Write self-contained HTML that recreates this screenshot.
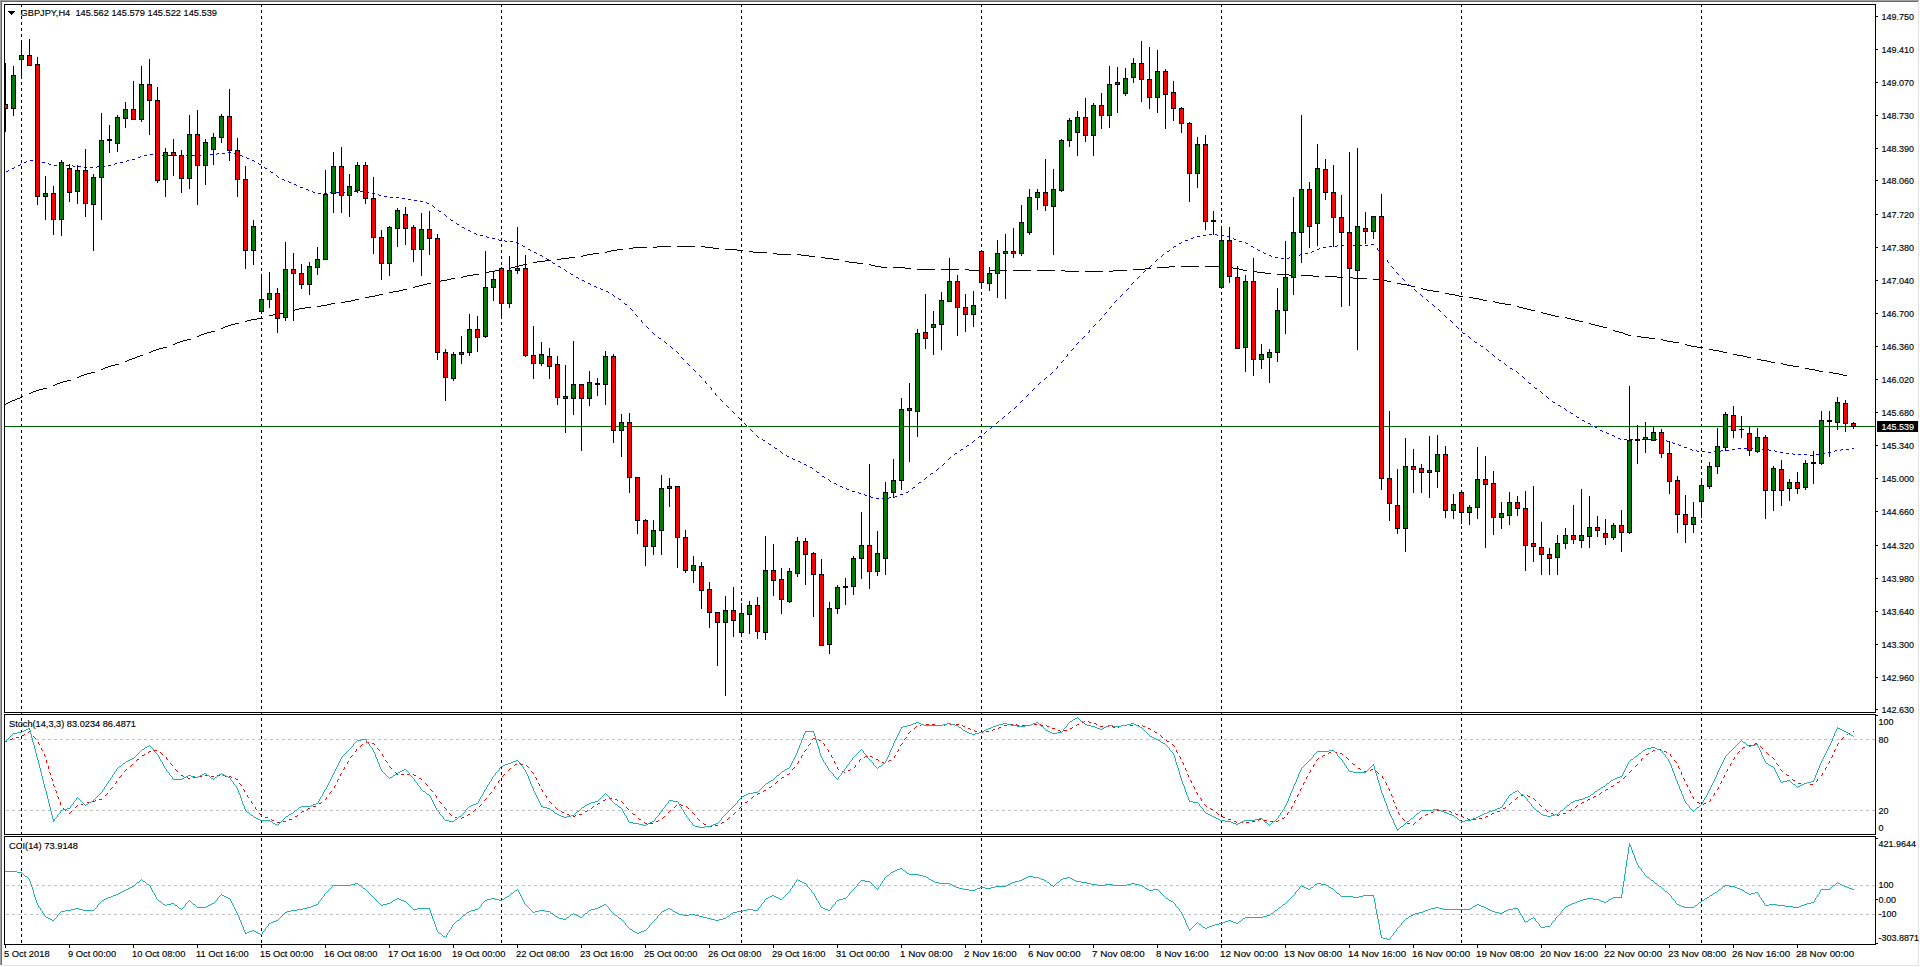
<!DOCTYPE html>
<html><head><meta charset="utf-8"><style>
html,body{margin:0;padding:0;background:#fff;width:1920px;height:967px;overflow:hidden}
svg{display:block}
text{font-family:"Liberation Sans",sans-serif}
</style></head><body>
<svg width="1920" height="967" viewBox="0 0 1920 967" shape-rendering="crispEdges">
<rect x="0" y="0" width="1920" height="967" fill="#fff"/>
<rect x="0" y="0" width="1919" height="1" fill="#a0a0a0"/>
<rect x="0" y="0" width="1" height="965" fill="#a0a0a0"/>
<rect x="1" y="1" width="1917" height="1" fill="#696969"/>
<rect x="1" y="1" width="1" height="964" fill="#696969"/>
<rect x="2" y="965" width="1917" height="1" fill="#e3e3e3"/>
<rect x="1918" y="2" width="1" height="964" fill="#e3e3e3"/>
<line x1="21.5" y1="4" x2="21.5" y2="945" stroke="#000" stroke-width="1" stroke-dasharray="3 3"/>
<line x1="261.5" y1="4" x2="261.5" y2="945" stroke="#000" stroke-width="1" stroke-dasharray="3 3"/>
<line x1="501.5" y1="4" x2="501.5" y2="945" stroke="#000" stroke-width="1" stroke-dasharray="3 3"/>
<line x1="741.5" y1="4" x2="741.5" y2="945" stroke="#000" stroke-width="1" stroke-dasharray="3 3"/>
<line x1="981.5" y1="4" x2="981.5" y2="945" stroke="#000" stroke-width="1" stroke-dasharray="3 3"/>
<line x1="1221.5" y1="4" x2="1221.5" y2="945" stroke="#000" stroke-width="1" stroke-dasharray="3 3"/>
<line x1="1461.5" y1="4" x2="1461.5" y2="945" stroke="#000" stroke-width="1" stroke-dasharray="3 3"/>
<line x1="1701.5" y1="4" x2="1701.5" y2="945" stroke="#000" stroke-width="1" stroke-dasharray="3 3"/>
<rect x="4" y="4" width="1872" height="1" fill="#000"/>
<rect x="4" y="712" width="1872" height="1" fill="#000"/>
<rect x="4" y="4" width="1" height="709" fill="#000"/>
<rect x="1875" y="4" width="1" height="709" fill="#000"/>
<rect x="4" y="714" width="1872" height="1" fill="#000"/>
<rect x="4" y="834" width="1872" height="1" fill="#000"/>
<rect x="4" y="714" width="1" height="121" fill="#000"/>
<rect x="1875" y="714" width="1" height="121" fill="#000"/>
<rect x="4" y="836" width="1872" height="1" fill="#000"/>
<rect x="4" y="944" width="1872" height="1" fill="#000"/>
<rect x="4" y="836" width="1" height="109" fill="#000"/>
<rect x="1875" y="836" width="1" height="109" fill="#000"/>
<defs><clipPath id="cm"><rect x="5" y="5" width="1870" height="707"/></clipPath><clipPath id="cs"><rect x="5" y="715" width="1870" height="119"/></clipPath><clipPath id="cc"><rect x="5" y="837" width="1870" height="107"/></clipPath></defs>
<g clip-path="url(#cm)">
<rect x="5" y="426" width="1870" height="1" fill="#006400"/>
</g>
<path d="M657 246h14v1h-14zM677 246h18v1h-18zM701 246h4v1h-4zM633 247h14v1h-14zM653 247h4v1h-4zM705 247h8v1h-8zM629 248h4v1h-4zM713 248h6v1h-6zM617 249h6v1h-6zM725 249h12v1h-12zM611 250h6v1h-6zM737 250h6v1h-6zM607 251h4v1h-4zM749 251h4v1h-4zM605 252h2v1h-2zM753 252h14v1h-14zM593 253h6v1h-6zM773 253h4v1h-4zM587 254h6v1h-6zM777 254h14v1h-14zM797 254h4v1h-4zM583 255h4v1h-4zM801 255h8v1h-8zM581 256h2v1h-2zM809 256h6v1h-6zM569 257h6v1h-6zM821 257h4v1h-4zM561 258h8v1h-8zM825 258h8v1h-8zM557 259h4v1h-4zM833 259h6v1h-6zM545 260h6v1h-6zM537 261h8v1h-8zM845 261h4v1h-4zM533 262h4v1h-4zM849 262h8v1h-8zM857 263h6v1h-6zM523 264h4v1h-4zM869 264h2v1h-2zM519 265h4v1h-4zM871 265h4v1h-4zM515 266h4v1h-4zM875 266h6v1h-6zM1169 266h6v1h-6zM1181 266h18v1h-18zM1205 266h18v1h-18zM511 267h4v1h-4zM881 267h6v1h-6zM893 267h12v1h-12zM1157 267h12v1h-12zM1229 267h4v1h-4zM509 268h2v1h-2zM905 268h6v1h-6zM1145 268h6v1h-6zM1233 268h6v1h-6zM499 269h4v1h-4zM917 269h18v1h-18zM941 269h18v1h-18zM965 269h4v1h-4zM1133 269h12v1h-12zM1239 269h4v1h-4zM495 270h4v1h-4zM969 270h14v1h-14zM989 270h18v1h-18zM1013 270h18v1h-18zM1037 270h18v1h-18zM1061 270h4v1h-4zM1113 270h14v1h-14zM1243 270h4v1h-4zM489 271h6v1h-6zM1065 271h14v1h-14zM1085 271h18v1h-18zM1109 271h4v1h-4zM1253 271h4v1h-4zM485 272h4v1h-4zM1257 272h8v1h-8zM1265 273h6v1h-6zM473 274h6v1h-6zM1277 274h12v1h-12zM467 275h6v1h-6zM1289 275h6v1h-6zM1301 275h12v1h-12zM463 276h4v1h-4zM1313 276h6v1h-6zM1325 276h12v1h-12zM461 277h2v1h-2zM1337 277h6v1h-6zM1349 277h4v1h-4zM451 278h4v1h-4zM1353 278h14v1h-14zM447 279h4v1h-4zM1373 279h10v1h-10zM441 280h6v1h-6zM1383 280h4v1h-4zM437 281h4v1h-4zM1387 281h4v1h-4zM427 283h4v1h-4zM1397 283h4v1h-4zM423 284h4v1h-4zM1401 284h6v1h-6zM419 285h4v1h-4zM1407 285h4v1h-4zM415 286h4v1h-4zM1411 286h4v1h-4zM413 287h2v1h-2zM1421 288h2v1h-2zM403 289h4v1h-4zM1423 289h4v1h-4zM399 290h4v1h-4zM1427 290h6v1h-6zM393 291h6v1h-6zM1433 291h6v1h-6zM389 292h4v1h-4zM1445 293h4v1h-4zM379 294h4v1h-4zM1449 294h6v1h-6zM375 295h4v1h-4zM1455 295h4v1h-4zM369 296h6v1h-6zM1459 296h4v1h-4zM365 297h4v1h-4zM1469 297h4v1h-4zM1473 298h6v1h-6zM355 299h4v1h-4zM1479 299h4v1h-4zM351 300h4v1h-4zM1483 300h4v1h-4zM345 301h6v1h-6zM1493 301h2v1h-2zM341 302h4v1h-4zM1495 302h4v1h-4zM331 303h4v1h-4zM1499 303h6v1h-6zM327 304h4v1h-4zM1505 304h6v1h-6zM321 305h6v1h-6zM317 306h4v1h-4zM1517 306h2v1h-2zM305 307h6v1h-6zM1519 307h4v1h-4zM299 308h6v1h-6zM1523 308h4v1h-4zM295 309h4v1h-4zM1527 309h4v1h-4zM293 310h2v1h-2zM1531 310h4v1h-4zM283 312h4v1h-4zM1541 312h2v1h-2zM279 313h4v1h-4zM1543 313h4v1h-4zM273 314h6v1h-6zM1547 314h4v1h-4zM269 315h4v1h-4zM1551 315h4v1h-4zM1555 316h4v1h-4zM1565 317h2v1h-2zM257 318h6v1h-6zM1567 318h4v1h-4zM251 319h6v1h-6zM1571 319h4v1h-4zM247 320h4v1h-4zM1575 320h4v1h-4zM245 321h2v1h-2zM1579 321h4v1h-4zM235 323h4v1h-4zM1589 323h2v1h-2zM231 324h4v1h-4zM1591 324h4v1h-4zM228 325h3v1h-3zM1595 325h4v1h-4zM225 326h3v1h-3zM1599 326h4v1h-4zM223 327h2v1h-2zM1603 327h4v1h-4zM221 328h2v1h-2zM1613 330h2v1h-2zM211 331h4v1h-4zM1615 331h4v1h-4zM207 332h4v1h-4zM1619 332h4v1h-4zM204 333h3v1h-3zM1623 333h2v1h-2zM201 334h3v1h-3zM1625 334h3v1h-3zM199 335h2v1h-2zM1628 335h3v1h-3zM197 336h2v1h-2zM1637 336h4v1h-4zM1641 337h8v1h-8zM1649 338h6v1h-6zM187 339h4v1h-4zM1661 339h2v1h-2zM183 340h4v1h-4zM1663 340h4v1h-4zM180 341h3v1h-3zM1667 341h6v1h-6zM177 342h3v1h-3zM1673 342h6v1h-6zM175 343h2v1h-2zM173 344h2v1h-2zM1685 344h2v1h-2zM1687 345h4v1h-4zM1691 346h6v1h-6zM163 347h4v1h-4zM1697 347h6v1h-6zM159 348h4v1h-4zM156 349h3v1h-3zM1709 349h4v1h-4zM153 350h3v1h-3zM1713 350h6v1h-6zM151 351h2v1h-2zM1719 351h4v1h-4zM149 352h2v1h-2zM1723 352h4v1h-4zM1733 354h4v1h-4zM140 355h3v1h-3zM1737 355h6v1h-6zM137 356h3v1h-3zM1743 356h4v1h-4zM135 357h2v1h-2zM1747 357h4v1h-4zM132 358h3v1h-3zM129 359h3v1h-3zM1757 359h4v1h-4zM127 360h2v1h-2zM1761 360h6v1h-6zM125 361h2v1h-2zM1767 361h4v1h-4zM1771 362h4v1h-4zM1781 363h2v1h-2zM115 364h4v1h-4zM1783 364h4v1h-4zM111 365h4v1h-4zM1787 365h6v1h-6zM108 366h3v1h-3zM1793 366h6v1h-6zM105 367h3v1h-3zM103 368h2v1h-2zM1805 368h4v1h-4zM101 369h2v1h-2zM1809 369h6v1h-6zM1815 370h4v1h-4zM1819 371h4v1h-4zM91 372h4v1h-4zM1829 372h4v1h-4zM87 373h4v1h-4zM1833 373h6v1h-6zM84 374h3v1h-3zM1839 374h4v1h-4zM81 375h3v1h-3zM1843 375h4v1h-4zM79 376h2v1h-2zM77 377h2v1h-2zM67 380h4v1h-4zM63 381h4v1h-4zM60 382h3v1h-3zM57 383h3v1h-3zM55 384h2v1h-2zM53 385h2v1h-2zM43 388h4v1h-4zM39 389h4v1h-4zM36 390h3v1h-3zM33 391h3v1h-3zM31 392h2v1h-2zM29 393h2v1h-2zM22 396h1v1h-1zM20 397h2v1h-2zM17 398h3v1h-3zM15 399h2v1h-2zM12 400h3v1h-3zM10 401h2v1h-2zM8 402h2v1h-2zM6 403h2v1h-2zM5 404h1v1h-1z" fill="#000"/>
<rect x="747" y="426" width="1" height="1" fill="#fff"/>
<rect x="1593" y="426" width="1" height="1" fill="#fff"/>
<path d="M228 152h3v1h-3zM217 153h2v1h-2zM222 153h3v1h-3zM234 153h3v1h-3zM150 154h3v1h-3zM210 154h3v1h-3zM216 154h1v1h-1zM144 155h3v1h-3zM156 155h3v1h-3zM162 155h3v1h-3zM168 155h3v1h-3zM174 155h3v1h-3zM186 155h3v1h-3zM192 155h3v1h-3zM198 155h3v1h-3zM204 155h3v1h-3zM240 155h2v1h-2zM140 156h1v1h-1zM180 156h3v1h-3zM242 156h1v1h-1zM138 157h2v1h-2zM246 157h1v1h-1zM247 158h2v1h-2zM132 159h3v1h-3zM30 160h3v1h-3zM127 160h2v1h-2zM252 160h2v1h-2zM26 161h1v1h-1zM36 161h3v1h-3zM126 161h1v1h-1zM254 161h1v1h-1zM24 162h2v1h-2zM42 162h3v1h-3zM120 162h3v1h-3zM48 163h1v1h-1zM115 163h2v1h-2zM258 163h1v1h-1zM20 164h1v1h-1zM49 164h2v1h-2zM60 164h3v1h-3zM114 164h1v1h-1zM259 164h2v1h-2zM18 165h2v1h-2zM54 165h3v1h-3zM66 165h3v1h-3zM72 165h1v1h-1zM108 165h3v1h-3zM73 166h2v1h-2zM78 166h3v1h-3zM97 166h2v1h-2zM102 166h3v1h-3zM14 167h1v1h-1zM84 167h3v1h-3zM90 167h3v1h-3zM96 167h1v1h-1zM264 167h1v1h-1zM12 168h2v1h-2zM265 168h2v1h-2zM8 170h1v1h-1zM6 171h2v1h-2zM270 171h1v1h-1zM271 172h2v1h-2zM276 175h1v1h-1zM277 176h1v1h-1zM278 177h1v1h-1zM282 179h2v1h-2zM284 180h1v1h-1zM288 181h1v1h-1zM289 182h2v1h-2zM294 184h2v1h-2zM296 185h1v1h-1zM300 187h3v1h-3zM306 189h2v1h-2zM308 190h1v1h-1zM312 191h1v1h-1zM354 191h3v1h-3zM360 191h3v1h-3zM366 191h1v1h-1zM313 192h2v1h-2zM330 192h3v1h-3zM336 192h3v1h-3zM342 192h3v1h-3zM348 192h3v1h-3zM367 192h2v1h-2zM318 193h3v1h-3zM324 193h3v1h-3zM372 193h3v1h-3zM378 194h1v1h-1zM379 195h2v1h-2zM384 196h3v1h-3zM390 197h3v1h-3zM396 197h3v1h-3zM402 198h3v1h-3zM408 199h3v1h-3zM414 200h3v1h-3zM420 201h3v1h-3zM426 202h1v1h-1zM427 203h2v1h-2zM432 205h1v1h-1zM433 206h1v1h-1zM434 207h1v1h-1zM438 210h1v1h-1zM439 211h2v1h-2zM444 214h1v1h-1zM445 215h1v1h-1zM446 216h1v1h-1zM450 219h1v1h-1zM451 220h2v1h-2zM456 223h1v1h-1zM457 224h2v1h-2zM462 227h2v1h-2zM464 228h1v1h-1zM468 230h2v1h-2zM470 231h1v1h-1zM474 233h2v1h-2zM476 234h1v1h-1zM1209 234h3v1h-3zM1215 234h2v1h-2zM480 235h3v1h-3zM1203 235h3v1h-3zM1217 235h1v1h-1zM1221 235h3v1h-3zM486 236h1v1h-1zM1197 236h3v1h-3zM1227 236h3v1h-3zM487 237h2v1h-2zM1193 237h1v1h-1zM492 238h3v1h-3zM1191 238h2v1h-2zM1233 238h1v1h-1zM498 239h1v1h-1zM1234 239h2v1h-2zM499 240h2v1h-2zM504 240h1v1h-1zM1185 240h3v1h-3zM505 241h2v1h-2zM510 241h3v1h-3zM1239 241h3v1h-3zM516 242h2v1h-2zM1181 242h1v1h-1zM1245 242h1v1h-1zM518 243h1v1h-1zM1179 243h2v1h-2zM1246 243h2v1h-2zM1371 244h3v1h-3zM522 245h1v1h-1zM1337 245h1v1h-1zM1341 245h3v1h-3zM1353 245h3v1h-3zM1359 245h3v1h-3zM1365 245h3v1h-3zM523 246h2v1h-2zM1174 246h2v1h-2zM1251 246h2v1h-2zM1329 246h3v1h-3zM1335 246h2v1h-2zM1347 246h3v1h-3zM1173 247h1v1h-1zM1253 247h1v1h-1zM1323 247h3v1h-3zM1319 248h1v1h-1zM1377 248h1v1h-1zM528 249h2v1h-2zM1257 249h1v1h-1zM1317 249h2v1h-2zM1377 249h1v1h-1zM530 250h1v1h-1zM1169 250h1v1h-1zM1258 250h2v1h-2zM1378 250h1v1h-1zM1167 251h2v1h-2zM1312 251h2v1h-2zM534 252h2v1h-2zM1263 252h1v1h-1zM1311 252h1v1h-1zM536 253h1v1h-1zM1264 253h2v1h-2zM1305 253h3v1h-3zM1163 254h1v1h-1zM1300 254h2v1h-2zM1382 254h1v1h-1zM540 255h2v1h-2zM1162 255h1v1h-1zM1269 255h2v1h-2zM1299 255h1v1h-1zM1383 255h1v1h-1zM542 256h1v1h-1zM1161 256h1v1h-1zM1271 256h1v1h-1zM1295 256h1v1h-1zM1383 256h1v1h-1zM1275 257h3v1h-3zM1289 257h1v1h-1zM1293 257h2v1h-2zM546 258h1v1h-1zM1281 258h3v1h-3zM1287 258h2v1h-2zM547 259h2v1h-2zM1157 259h1v1h-1zM1156 260h1v1h-1zM1387 260h1v1h-1zM1155 261h1v1h-1zM1387 261h1v1h-1zM552 262h1v1h-1zM1388 262h1v1h-1zM553 263h2v1h-2zM1151 265h1v1h-1zM558 266h2v1h-2zM1150 266h1v1h-1zM1391 266h1v1h-1zM560 267h1v1h-1zM1149 267h1v1h-1zM1392 267h1v1h-1zM1393 268h1v1h-1zM564 269h1v1h-1zM565 270h1v1h-1zM1145 270h1v1h-1zM566 271h1v1h-1zM1144 271h1v1h-1zM1143 272h1v1h-1zM1396 272h1v1h-1zM570 273h1v1h-1zM1397 273h1v1h-1zM571 274h2v1h-2zM1398 274h1v1h-1zM1139 276h1v1h-1zM576 277h2v1h-2zM1138 277h1v1h-1zM578 278h1v1h-1zM1137 278h1v1h-1zM1402 278h1v1h-1zM1403 279h1v1h-1zM582 280h2v1h-2zM1404 280h1v1h-1zM584 281h1v1h-1zM1133 282h1v1h-1zM588 283h2v1h-2zM1132 283h1v1h-1zM590 284h1v1h-1zM1131 284h1v1h-1zM1408 284h1v1h-1zM1409 285h2v1h-2zM594 286h2v1h-2zM596 287h1v1h-1zM600 288h1v1h-1zM1128 288h1v1h-1zM601 289h2v1h-2zM1127 289h1v1h-1zM1414 289h1v1h-1zM1126 290h1v1h-1zM1415 290h1v1h-1zM606 291h2v1h-2zM1416 291h1v1h-1zM608 292h1v1h-1zM612 294h1v1h-1zM1122 294h1v1h-1zM1420 294h1v1h-1zM613 295h1v1h-1zM1121 295h1v1h-1zM1421 295h1v1h-1zM614 296h1v1h-1zM1120 296h1v1h-1zM1422 296h1v1h-1zM618 298h1v1h-1zM619 299h2v1h-2zM1426 299h1v1h-1zM1116 300h1v1h-1zM1427 300h1v1h-1zM1115 301h1v1h-1zM1428 301h1v1h-1zM1114 302h1v1h-1zM624 303h1v1h-1zM625 304h2v1h-2zM1432 304h1v1h-1zM1433 305h1v1h-1zM1111 306h1v1h-1zM1434 306h1v1h-1zM1110 307h1v1h-1zM630 308h1v1h-1zM1109 308h1v1h-1zM631 309h1v1h-1zM1438 309h1v1h-1zM632 310h1v1h-1zM1439 310h1v1h-1zM1440 311h1v1h-1zM1106 312h1v1h-1zM1105 313h1v1h-1zM635 314h1v1h-1zM1104 314h1v1h-1zM636 315h1v1h-1zM1444 315h1v1h-1zM637 316h1v1h-1zM1445 316h1v1h-1zM1446 317h1v1h-1zM1101 318h1v1h-1zM1100 319h1v1h-1zM641 320h1v1h-1zM1099 320h1v1h-1zM1450 320h1v1h-1zM641 321h1v1h-1zM1451 321h1v1h-1zM642 322h1v1h-1zM1452 322h1v1h-1zM1095 324h1v1h-1zM1094 325h1v1h-1zM646 326h1v1h-1zM1093 326h1v1h-1zM1456 326h1v1h-1zM647 327h1v1h-1zM1457 327h1v1h-1zM648 328h1v1h-1zM1458 328h1v1h-1zM1089 330h1v1h-1zM1089 331h1v1h-1zM652 332h1v1h-1zM1088 332h1v1h-1zM1462 332h1v1h-1zM653 333h1v1h-1zM1463 333h2v1h-2zM654 334h1v1h-1zM1084 336h1v1h-1zM1468 336h1v1h-1zM658 337h1v1h-1zM1083 337h1v1h-1zM1469 337h1v1h-1zM659 338h2v1h-2zM1082 338h1v1h-1zM1470 338h1v1h-1zM664 341h1v1h-1zM1474 341h1v1h-1zM665 342h1v1h-1zM1078 342h1v1h-1zM1475 342h2v1h-2zM666 343h1v1h-1zM1077 343h1v1h-1zM1076 344h1v1h-1zM1480 345h1v1h-1zM670 346h1v1h-1zM1481 346h2v1h-2zM671 347h1v1h-1zM672 348h1v1h-1zM1073 348h1v1h-1zM1072 349h1v1h-1zM1486 349h1v1h-1zM1071 350h1v1h-1zM1487 350h1v1h-1zM676 351h1v1h-1zM1488 351h1v1h-1zM677 352h1v1h-1zM678 353h1v1h-1zM1067 354h1v1h-1zM1492 354h1v1h-1zM1067 355h1v1h-1zM1493 355h1v1h-1zM1066 356h1v1h-1zM1494 356h1v1h-1zM681 357h1v1h-1zM682 358h1v1h-1zM683 359h1v1h-1zM1498 359h1v1h-1zM1063 360h1v1h-1zM1499 360h2v1h-2zM1062 361h1v1h-1zM1061 362h1v1h-1zM687 363h1v1h-1zM1504 363h1v1h-1zM688 364h1v1h-1zM1505 364h1v1h-1zM689 365h1v1h-1zM1506 365h1v1h-1zM1057 366h1v1h-1zM1057 367h1v1h-1zM1056 368h1v1h-1zM1510 368h2v1h-2zM693 369h1v1h-1zM1512 369h1v1h-1zM694 370h1v1h-1zM695 371h1v1h-1zM1516 371h1v1h-1zM1052 372h1v1h-1zM1517 372h1v1h-1zM1051 373h1v1h-1zM1518 373h1v1h-1zM1050 374h1v1h-1zM699 375h1v1h-1zM700 376h1v1h-1zM1522 376h1v1h-1zM701 377h1v1h-1zM1046 377h1v1h-1zM1523 377h1v1h-1zM1045 378h1v1h-1zM1524 378h1v1h-1zM1044 379h1v1h-1zM705 381h1v1h-1zM705 382h1v1h-1zM1040 382h1v1h-1zM1528 382h1v1h-1zM706 383h1v1h-1zM1039 383h1v1h-1zM1529 383h2v1h-2zM1038 384h1v1h-1zM710 387h1v1h-1zM1534 387h1v1h-1zM711 388h1v1h-1zM1034 388h1v1h-1zM1535 388h2v1h-2zM711 389h1v1h-1zM1033 389h1v1h-1zM1032 390h1v1h-1zM1540 391h1v1h-1zM1541 392h1v1h-1zM715 393h1v1h-1zM1542 393h1v1h-1zM715 394h1v1h-1zM1028 394h1v1h-1zM716 395h1v1h-1zM1027 395h1v1h-1zM1026 396h1v1h-1zM1546 396h1v1h-1zM1547 397h1v1h-1zM1548 398h1v1h-1zM720 399h1v1h-1zM721 400h1v1h-1zM1022 400h1v1h-1zM722 401h1v1h-1zM1021 401h1v1h-1zM1552 401h1v1h-1zM1020 402h1v1h-1zM1553 402h2v1h-2zM726 405h1v1h-1zM1558 405h2v1h-2zM727 406h1v1h-1zM1016 406h1v1h-1zM1560 406h1v1h-1zM728 407h1v1h-1zM1015 407h1v1h-1zM1014 408h1v1h-1zM1564 408h1v1h-1zM1565 409h1v1h-1zM1566 410h1v1h-1zM732 411h1v1h-1zM1010 411h1v1h-1zM733 412h1v1h-1zM1009 412h1v1h-1zM1570 412h1v1h-1zM734 413h1v1h-1zM1008 413h1v1h-1zM1571 413h2v1h-2zM1004 416h1v1h-1zM1576 416h1v1h-1zM738 417h1v1h-1zM1003 417h1v1h-1zM1577 417h2v1h-2zM739 418h1v1h-1zM1002 418h1v1h-1zM740 419h1v1h-1zM1582 420h2v1h-2zM998 421h1v1h-1zM1584 421h1v1h-1zM997 422h1v1h-1zM744 423h1v1h-1zM996 423h1v1h-1zM1588 423h2v1h-2zM745 424h1v1h-1zM1590 424h1v1h-1zM746 425h1v1h-1zM992 426h1v1h-1zM1594 426h1v1h-1zM991 427h1v1h-1zM1595 427h2v1h-2zM990 428h1v1h-1zM750 429h1v1h-1zM751 430h1v1h-1zM1600 430h2v1h-2zM752 431h1v1h-1zM986 431h1v1h-1zM1602 431h1v1h-1zM985 432h1v1h-1zM1606 432h1v1h-1zM984 433h1v1h-1zM1607 433h2v1h-2zM756 435h1v1h-1zM1612 435h2v1h-2zM757 436h1v1h-1zM979 436h2v1h-2zM1614 436h1v1h-1zM758 437h1v1h-1zM978 437h1v1h-1zM1618 438h2v1h-2zM762 439h1v1h-1zM1620 439h1v1h-1zM1624 439h3v1h-3zM1630 439h3v1h-3zM1636 439h3v1h-3zM1642 439h3v1h-3zM1648 439h3v1h-3zM1654 439h3v1h-3zM1660 439h3v1h-3zM763 440h2v1h-2zM974 440h1v1h-1zM1666 440h1v1h-1zM973 441h1v1h-1zM1667 441h2v1h-2zM972 442h1v1h-1zM1672 442h1v1h-1zM768 443h1v1h-1zM1673 443h2v1h-2zM769 444h2v1h-2zM1678 444h1v1h-1zM967 445h2v1h-2zM1679 445h2v1h-2zM966 446h1v1h-1zM774 447h1v1h-1zM1684 447h3v1h-3zM775 448h2v1h-2zM1738 448h3v1h-3zM1744 448h3v1h-3zM1750 448h3v1h-3zM1756 448h3v1h-3zM1852 448h2v1h-2zM961 449h2v1h-2zM1690 449h2v1h-2zM1732 449h3v1h-3zM1762 449h3v1h-3zM1768 449h1v1h-1zM1841 449h2v1h-2zM1846 449h3v1h-3zM960 450h1v1h-1zM1692 450h1v1h-1zM1696 450h1v1h-1zM1721 450h2v1h-2zM1726 450h3v1h-3zM1769 450h2v1h-2zM1774 450h1v1h-1zM1835 450h2v1h-2zM1840 450h1v1h-1zM780 451h1v1h-1zM1697 451h2v1h-2zM1702 451h3v1h-3zM1714 451h3v1h-3zM1720 451h1v1h-1zM1775 451h2v1h-2zM1834 451h1v1h-1zM781 452h1v1h-1zM1708 452h3v1h-3zM1780 452h3v1h-3zM1828 452h3v1h-3zM782 453h1v1h-1zM955 453h2v1h-2zM1786 453h3v1h-3zM1792 453h1v1h-1zM1822 453h3v1h-3zM954 454h1v1h-1zM1793 454h2v1h-2zM1798 454h3v1h-3zM1804 454h3v1h-3zM1816 454h3v1h-3zM786 455h1v1h-1zM1810 455h3v1h-3zM787 456h2v1h-2zM950 457h1v1h-1zM792 458h1v1h-1zM949 458h1v1h-1zM793 459h2v1h-2zM948 459h1v1h-1zM798 461h2v1h-2zM800 462h1v1h-1zM944 463h1v1h-1zM804 464h2v1h-2zM943 464h1v1h-1zM806 465h1v1h-1zM942 465h1v1h-1zM810 467h2v1h-2zM812 468h1v1h-1zM938 468h1v1h-1zM937 469h1v1h-1zM936 470h1v1h-1zM816 471h1v1h-1zM817 472h2v1h-2zM931 473h2v1h-2zM930 474h1v1h-1zM822 476h2v1h-2zM824 477h1v1h-1zM926 477h1v1h-1zM925 478h1v1h-1zM828 479h1v1h-1zM924 479h1v1h-1zM829 480h1v1h-1zM830 481h1v1h-1zM919 482h2v1h-2zM834 483h2v1h-2zM918 483h1v1h-1zM836 484h1v1h-1zM840 486h2v1h-2zM842 487h1v1h-1zM913 487h2v1h-2zM846 488h1v1h-1zM912 488h1v1h-1zM847 489h2v1h-2zM852 491h3v1h-3zM908 491h1v1h-1zM858 492h1v1h-1zM906 492h2v1h-2zM859 493h2v1h-2zM864 494h1v1h-1zM900 494h3v1h-3zM865 495h2v1h-2zM870 496h1v1h-1zM895 496h2v1h-2zM871 497h2v1h-2zM889 497h2v1h-2zM894 497h1v1h-1zM876 498h3v1h-3zM882 498h3v1h-3zM888 498h1v1h-1z" fill="#0000ff"/>
<g clip-path="url(#cm)">
<rect x="5" y="63" width="1" height="69" fill="#000"/>
<rect x="3" y="104" width="5" height="5" fill="#000"/>
<rect x="4" y="105" width="3" height="3" fill="#ff0000"/>
</g>
<g clip-path="url(#cm)">
<rect x="13" y="66" width="1" height="50" fill="#000"/>
<rect x="11" y="75" width="5" height="34" fill="#000"/>
<rect x="12" y="76" width="3" height="32" fill="#008000"/>
</g>
<g clip-path="url(#cm)">
<rect x="21" y="40" width="1" height="39" fill="#000"/>
<rect x="19" y="55" width="5" height="5" fill="#000"/>
<rect x="20" y="56" width="3" height="3" fill="#008000"/>
</g>
<g clip-path="url(#cm)">
<rect x="29" y="39" width="1" height="27" fill="#000"/>
<rect x="27" y="55" width="5" height="11" fill="#000"/>
<rect x="28" y="56" width="3" height="9" fill="#ff0000"/>
</g>
<g clip-path="url(#cm)">
<rect x="37" y="57" width="1" height="148" fill="#000"/>
<rect x="35" y="64" width="5" height="133" fill="#000"/>
<rect x="36" y="65" width="3" height="131" fill="#ff0000"/>
</g>
<g clip-path="url(#cm)">
<rect x="45" y="176" width="1" height="44" fill="#000"/>
<rect x="43" y="193" width="5" height="4" fill="#000"/>
<rect x="44" y="194" width="3" height="2" fill="#008000"/>
</g>
<g clip-path="url(#cm)">
<rect x="53" y="186" width="1" height="49" fill="#000"/>
<rect x="51" y="193" width="5" height="27" fill="#000"/>
<rect x="52" y="194" width="3" height="25" fill="#ff0000"/>
</g>
<g clip-path="url(#cm)">
<rect x="61" y="160" width="1" height="76" fill="#000"/>
<rect x="59" y="162" width="5" height="58" fill="#000"/>
<rect x="60" y="163" width="3" height="56" fill="#008000"/>
</g>
<g clip-path="url(#cm)">
<rect x="69" y="164" width="1" height="38" fill="#000"/>
<rect x="67" y="168" width="5" height="25" fill="#000"/>
<rect x="68" y="169" width="3" height="23" fill="#ff0000"/>
</g>
<g clip-path="url(#cm)">
<rect x="77" y="165" width="1" height="39" fill="#000"/>
<rect x="75" y="170" width="5" height="22" fill="#000"/>
<rect x="76" y="171" width="3" height="20" fill="#008000"/>
</g>
<g clip-path="url(#cm)">
<rect x="85" y="149" width="1" height="68" fill="#000"/>
<rect x="83" y="170" width="5" height="34" fill="#000"/>
<rect x="84" y="171" width="3" height="32" fill="#ff0000"/>
</g>
<g clip-path="url(#cm)">
<rect x="93" y="174" width="1" height="77" fill="#000"/>
<rect x="91" y="177" width="5" height="28" fill="#000"/>
<rect x="92" y="178" width="3" height="26" fill="#008000"/>
</g>
<g clip-path="url(#cm)">
<rect x="101" y="113" width="1" height="107" fill="#000"/>
<rect x="99" y="140" width="5" height="38" fill="#000"/>
<rect x="100" y="141" width="3" height="36" fill="#008000"/>
</g>
<g clip-path="url(#cm)">
<rect x="109" y="125" width="1" height="28" fill="#000"/>
<rect x="107" y="139" width="5" height="2" fill="#000"/>
</g>
<g clip-path="url(#cm)">
<rect x="117" y="115" width="1" height="37" fill="#000"/>
<rect x="115" y="117" width="5" height="27" fill="#000"/>
<rect x="116" y="118" width="3" height="25" fill="#008000"/>
</g>
<g clip-path="url(#cm)">
<rect x="125" y="102" width="1" height="26" fill="#000"/>
<rect x="123" y="109" width="5" height="10" fill="#000"/>
<rect x="124" y="110" width="3" height="8" fill="#008000"/>
</g>
<g clip-path="url(#cm)">
<rect x="133" y="81" width="1" height="39" fill="#000"/>
<rect x="131" y="109" width="5" height="11" fill="#000"/>
<rect x="132" y="110" width="3" height="9" fill="#ff0000"/>
</g>
<g clip-path="url(#cm)">
<rect x="141" y="66" width="1" height="56" fill="#000"/>
<rect x="139" y="84" width="5" height="36" fill="#000"/>
<rect x="140" y="85" width="3" height="34" fill="#008000"/>
</g>
<g clip-path="url(#cm)">
<rect x="149" y="59" width="1" height="76" fill="#000"/>
<rect x="147" y="84" width="5" height="17" fill="#000"/>
<rect x="148" y="85" width="3" height="15" fill="#ff0000"/>
</g>
<g clip-path="url(#cm)">
<rect x="157" y="87" width="1" height="96" fill="#000"/>
<rect x="155" y="100" width="5" height="81" fill="#000"/>
<rect x="156" y="101" width="3" height="79" fill="#ff0000"/>
</g>
<g clip-path="url(#cm)">
<rect x="165" y="148" width="1" height="49" fill="#000"/>
<rect x="163" y="152" width="5" height="28" fill="#000"/>
<rect x="164" y="153" width="3" height="26" fill="#008000"/>
</g>
<g clip-path="url(#cm)">
<rect x="173" y="139" width="1" height="37" fill="#000"/>
<rect x="171" y="152" width="5" height="4" fill="#000"/>
<rect x="172" y="153" width="3" height="2" fill="#ff0000"/>
</g>
<g clip-path="url(#cm)">
<rect x="181" y="150" width="1" height="43" fill="#000"/>
<rect x="179" y="155" width="5" height="24" fill="#000"/>
<rect x="180" y="156" width="3" height="22" fill="#ff0000"/>
</g>
<g clip-path="url(#cm)">
<rect x="189" y="115" width="1" height="74" fill="#000"/>
<rect x="187" y="134" width="5" height="45" fill="#000"/>
<rect x="188" y="135" width="3" height="43" fill="#008000"/>
</g>
<g clip-path="url(#cm)">
<rect x="197" y="110" width="1" height="95" fill="#000"/>
<rect x="195" y="134" width="5" height="32" fill="#000"/>
<rect x="196" y="135" width="3" height="30" fill="#ff0000"/>
</g>
<g clip-path="url(#cm)">
<rect x="205" y="139" width="1" height="46" fill="#000"/>
<rect x="203" y="142" width="5" height="24" fill="#000"/>
<rect x="204" y="143" width="3" height="22" fill="#008000"/>
</g>
<g clip-path="url(#cm)">
<rect x="213" y="133" width="1" height="32" fill="#000"/>
<rect x="211" y="137" width="5" height="13" fill="#000"/>
<rect x="212" y="138" width="3" height="11" fill="#008000"/>
</g>
<g clip-path="url(#cm)">
<rect x="221" y="114" width="1" height="29" fill="#000"/>
<rect x="219" y="116" width="5" height="22" fill="#000"/>
<rect x="220" y="117" width="3" height="20" fill="#008000"/>
</g>
<g clip-path="url(#cm)">
<rect x="229" y="89" width="1" height="72" fill="#000"/>
<rect x="227" y="116" width="5" height="35" fill="#000"/>
<rect x="228" y="117" width="3" height="33" fill="#ff0000"/>
</g>
<g clip-path="url(#cm)">
<rect x="237" y="138" width="1" height="59" fill="#000"/>
<rect x="235" y="150" width="5" height="30" fill="#000"/>
<rect x="236" y="151" width="3" height="28" fill="#ff0000"/>
</g>
<g clip-path="url(#cm)">
<rect x="245" y="166" width="1" height="103" fill="#000"/>
<rect x="243" y="179" width="5" height="72" fill="#000"/>
<rect x="244" y="180" width="3" height="70" fill="#ff0000"/>
</g>
<g clip-path="url(#cm)">
<rect x="253" y="220" width="1" height="45" fill="#000"/>
<rect x="251" y="226" width="5" height="25" fill="#000"/>
<rect x="252" y="227" width="3" height="23" fill="#008000"/>
</g>
<g clip-path="url(#cm)">
<rect x="261" y="274" width="1" height="40" fill="#000"/>
<rect x="259" y="299" width="5" height="13" fill="#000"/>
<rect x="260" y="300" width="3" height="11" fill="#008000"/>
</g>
<g clip-path="url(#cm)">
<rect x="269" y="272" width="1" height="36" fill="#000"/>
<rect x="267" y="293" width="5" height="7" fill="#000"/>
<rect x="268" y="294" width="3" height="5" fill="#008000"/>
</g>
<g clip-path="url(#cm)">
<rect x="277" y="288" width="1" height="45" fill="#000"/>
<rect x="275" y="293" width="5" height="26" fill="#000"/>
<rect x="276" y="294" width="3" height="24" fill="#ff0000"/>
</g>
<g clip-path="url(#cm)">
<rect x="285" y="242" width="1" height="79" fill="#000"/>
<rect x="283" y="269" width="5" height="49" fill="#000"/>
<rect x="284" y="270" width="3" height="47" fill="#008000"/>
</g>
<g clip-path="url(#cm)">
<rect x="293" y="253" width="1" height="68" fill="#000"/>
<rect x="291" y="269" width="5" height="5" fill="#000"/>
<rect x="292" y="270" width="3" height="3" fill="#ff0000"/>
</g>
<g clip-path="url(#cm)">
<rect x="301" y="264" width="1" height="25" fill="#000"/>
<rect x="299" y="273" width="5" height="12" fill="#000"/>
<rect x="300" y="274" width="3" height="10" fill="#ff0000"/>
</g>
<g clip-path="url(#cm)">
<rect x="309" y="262" width="1" height="33" fill="#000"/>
<rect x="307" y="266" width="5" height="19" fill="#000"/>
<rect x="308" y="267" width="3" height="17" fill="#008000"/>
</g>
<g clip-path="url(#cm)">
<rect x="317" y="247" width="1" height="28" fill="#000"/>
<rect x="315" y="259" width="5" height="9" fill="#000"/>
<rect x="316" y="260" width="3" height="7" fill="#008000"/>
</g>
<g clip-path="url(#cm)">
<rect x="325" y="170" width="1" height="90" fill="#000"/>
<rect x="323" y="194" width="5" height="66" fill="#000"/>
<rect x="324" y="195" width="3" height="64" fill="#008000"/>
</g>
<g clip-path="url(#cm)">
<rect x="333" y="152" width="1" height="61" fill="#000"/>
<rect x="331" y="166" width="5" height="28" fill="#000"/>
<rect x="332" y="167" width="3" height="26" fill="#008000"/>
</g>
<g clip-path="url(#cm)">
<rect x="341" y="147" width="1" height="66" fill="#000"/>
<rect x="339" y="166" width="5" height="30" fill="#000"/>
<rect x="340" y="167" width="3" height="28" fill="#ff0000"/>
</g>
<g clip-path="url(#cm)">
<rect x="349" y="174" width="1" height="43" fill="#000"/>
<rect x="347" y="186" width="5" height="10" fill="#000"/>
<rect x="348" y="187" width="3" height="8" fill="#008000"/>
</g>
<g clip-path="url(#cm)">
<rect x="357" y="162" width="1" height="31" fill="#000"/>
<rect x="355" y="165" width="5" height="26" fill="#000"/>
<rect x="356" y="166" width="3" height="24" fill="#008000"/>
</g>
<g clip-path="url(#cm)">
<rect x="365" y="162" width="1" height="42" fill="#000"/>
<rect x="363" y="165" width="5" height="34" fill="#000"/>
<rect x="364" y="166" width="3" height="32" fill="#ff0000"/>
</g>
<g clip-path="url(#cm)">
<rect x="373" y="177" width="1" height="77" fill="#000"/>
<rect x="371" y="198" width="5" height="40" fill="#000"/>
<rect x="372" y="199" width="3" height="38" fill="#ff0000"/>
</g>
<g clip-path="url(#cm)">
<rect x="381" y="230" width="1" height="50" fill="#000"/>
<rect x="379" y="237" width="5" height="27" fill="#000"/>
<rect x="380" y="238" width="3" height="25" fill="#ff0000"/>
</g>
<g clip-path="url(#cm)">
<rect x="389" y="226" width="1" height="50" fill="#000"/>
<rect x="387" y="227" width="5" height="37" fill="#000"/>
<rect x="388" y="228" width="3" height="35" fill="#008000"/>
</g>
<g clip-path="url(#cm)">
<rect x="397" y="208" width="1" height="39" fill="#000"/>
<rect x="395" y="210" width="5" height="19" fill="#000"/>
<rect x="396" y="211" width="3" height="17" fill="#008000"/>
</g>
<g clip-path="url(#cm)">
<rect x="405" y="207" width="1" height="38" fill="#000"/>
<rect x="403" y="214" width="5" height="15" fill="#000"/>
<rect x="404" y="215" width="3" height="13" fill="#ff0000"/>
</g>
<g clip-path="url(#cm)">
<rect x="413" y="225" width="1" height="37" fill="#000"/>
<rect x="411" y="227" width="5" height="23" fill="#000"/>
<rect x="412" y="228" width="3" height="21" fill="#ff0000"/>
</g>
<g clip-path="url(#cm)">
<rect x="421" y="213" width="1" height="63" fill="#000"/>
<rect x="419" y="229" width="5" height="21" fill="#000"/>
<rect x="420" y="230" width="3" height="19" fill="#008000"/>
</g>
<g clip-path="url(#cm)">
<rect x="429" y="211" width="1" height="44" fill="#000"/>
<rect x="427" y="229" width="5" height="10" fill="#000"/>
<rect x="428" y="230" width="3" height="8" fill="#ff0000"/>
</g>
<g clip-path="url(#cm)">
<rect x="437" y="234" width="1" height="126" fill="#000"/>
<rect x="435" y="238" width="5" height="115" fill="#000"/>
<rect x="436" y="239" width="3" height="113" fill="#ff0000"/>
</g>
<g clip-path="url(#cm)">
<rect x="445" y="349" width="1" height="52" fill="#000"/>
<rect x="443" y="352" width="5" height="26" fill="#000"/>
<rect x="444" y="353" width="3" height="24" fill="#ff0000"/>
</g>
<g clip-path="url(#cm)">
<rect x="453" y="352" width="1" height="29" fill="#000"/>
<rect x="451" y="354" width="5" height="25" fill="#000"/>
<rect x="452" y="355" width="3" height="23" fill="#008000"/>
</g>
<g clip-path="url(#cm)">
<rect x="461" y="336" width="1" height="28" fill="#000"/>
<rect x="459" y="352" width="5" height="3" fill="#000"/>
<rect x="460" y="353" width="3" height="1" fill="#008000"/>
</g>
<g clip-path="url(#cm)">
<rect x="469" y="314" width="1" height="42" fill="#000"/>
<rect x="467" y="329" width="5" height="24" fill="#000"/>
<rect x="468" y="330" width="3" height="22" fill="#008000"/>
</g>
<g clip-path="url(#cm)">
<rect x="477" y="316" width="1" height="36" fill="#000"/>
<rect x="475" y="329" width="5" height="9" fill="#000"/>
<rect x="476" y="330" width="3" height="7" fill="#ff0000"/>
</g>
<g clip-path="url(#cm)">
<rect x="485" y="251" width="1" height="87" fill="#000"/>
<rect x="483" y="287" width="5" height="50" fill="#000"/>
<rect x="484" y="288" width="3" height="48" fill="#008000"/>
</g>
<g clip-path="url(#cm)">
<rect x="493" y="271" width="1" height="30" fill="#000"/>
<rect x="491" y="279" width="5" height="9" fill="#000"/>
<rect x="492" y="280" width="3" height="7" fill="#008000"/>
</g>
<g clip-path="url(#cm)">
<rect x="501" y="267" width="1" height="52" fill="#000"/>
<rect x="499" y="268" width="5" height="36" fill="#000"/>
<rect x="500" y="269" width="3" height="34" fill="#ff0000"/>
</g>
<g clip-path="url(#cm)">
<rect x="509" y="256" width="1" height="52" fill="#000"/>
<rect x="507" y="270" width="5" height="34" fill="#000"/>
<rect x="508" y="271" width="3" height="32" fill="#008000"/>
</g>
<g clip-path="url(#cm)">
<rect x="517" y="227" width="1" height="47" fill="#000"/>
<rect x="515" y="268" width="5" height="3" fill="#000"/>
<rect x="516" y="269" width="3" height="1" fill="#008000"/>
</g>
<g clip-path="url(#cm)">
<rect x="525" y="255" width="1" height="102" fill="#000"/>
<rect x="523" y="268" width="5" height="88" fill="#000"/>
<rect x="524" y="269" width="3" height="86" fill="#ff0000"/>
</g>
<g clip-path="url(#cm)">
<rect x="533" y="326" width="1" height="53" fill="#000"/>
<rect x="531" y="355" width="5" height="9" fill="#000"/>
<rect x="532" y="356" width="3" height="7" fill="#ff0000"/>
</g>
<g clip-path="url(#cm)">
<rect x="541" y="342" width="1" height="24" fill="#000"/>
<rect x="539" y="354" width="5" height="10" fill="#000"/>
<rect x="540" y="355" width="3" height="8" fill="#008000"/>
</g>
<g clip-path="url(#cm)">
<rect x="549" y="348" width="1" height="31" fill="#000"/>
<rect x="547" y="356" width="5" height="11" fill="#000"/>
<rect x="548" y="357" width="3" height="9" fill="#ff0000"/>
</g>
<g clip-path="url(#cm)">
<rect x="557" y="356" width="1" height="49" fill="#000"/>
<rect x="555" y="364" width="5" height="34" fill="#000"/>
<rect x="556" y="365" width="3" height="32" fill="#ff0000"/>
</g>
<g clip-path="url(#cm)">
<rect x="565" y="365" width="1" height="68" fill="#000"/>
<rect x="563" y="396" width="5" height="3" fill="#000"/>
<rect x="564" y="397" width="3" height="1" fill="#ff0000"/>
</g>
<g clip-path="url(#cm)">
<rect x="573" y="341" width="1" height="74" fill="#000"/>
<rect x="571" y="384" width="5" height="15" fill="#000"/>
<rect x="572" y="385" width="3" height="13" fill="#008000"/>
</g>
<g clip-path="url(#cm)">
<rect x="581" y="384" width="1" height="67" fill="#000"/>
<rect x="579" y="384" width="5" height="15" fill="#000"/>
<rect x="580" y="385" width="3" height="13" fill="#ff0000"/>
</g>
<g clip-path="url(#cm)">
<rect x="589" y="371" width="1" height="35" fill="#000"/>
<rect x="587" y="382" width="5" height="17" fill="#000"/>
<rect x="588" y="383" width="3" height="15" fill="#008000"/>
</g>
<g clip-path="url(#cm)">
<rect x="597" y="378" width="1" height="18" fill="#000"/>
<rect x="595" y="383" width="5" height="2" fill="#000"/>
</g>
<g clip-path="url(#cm)">
<rect x="605" y="351" width="1" height="54" fill="#000"/>
<rect x="603" y="356" width="5" height="29" fill="#000"/>
<rect x="604" y="357" width="3" height="27" fill="#008000"/>
</g>
<g clip-path="url(#cm)">
<rect x="613" y="354" width="1" height="89" fill="#000"/>
<rect x="611" y="356" width="5" height="75" fill="#000"/>
<rect x="612" y="357" width="3" height="73" fill="#ff0000"/>
</g>
<g clip-path="url(#cm)">
<rect x="621" y="414" width="1" height="43" fill="#000"/>
<rect x="619" y="422" width="5" height="9" fill="#000"/>
<rect x="620" y="423" width="3" height="7" fill="#008000"/>
</g>
<g clip-path="url(#cm)">
<rect x="629" y="413" width="1" height="80" fill="#000"/>
<rect x="627" y="422" width="5" height="56" fill="#000"/>
<rect x="628" y="423" width="3" height="54" fill="#ff0000"/>
</g>
<g clip-path="url(#cm)">
<rect x="637" y="477" width="1" height="57" fill="#000"/>
<rect x="635" y="477" width="5" height="44" fill="#000"/>
<rect x="636" y="478" width="3" height="42" fill="#ff0000"/>
</g>
<g clip-path="url(#cm)">
<rect x="645" y="519" width="1" height="47" fill="#000"/>
<rect x="643" y="520" width="5" height="27" fill="#000"/>
<rect x="644" y="521" width="3" height="25" fill="#ff0000"/>
</g>
<g clip-path="url(#cm)">
<rect x="653" y="520" width="1" height="35" fill="#000"/>
<rect x="651" y="530" width="5" height="17" fill="#000"/>
<rect x="652" y="531" width="3" height="15" fill="#008000"/>
</g>
<g clip-path="url(#cm)">
<rect x="661" y="475" width="1" height="80" fill="#000"/>
<rect x="659" y="488" width="5" height="43" fill="#000"/>
<rect x="660" y="489" width="3" height="41" fill="#008000"/>
</g>
<g clip-path="url(#cm)">
<rect x="669" y="478" width="1" height="29" fill="#000"/>
<rect x="667" y="486" width="5" height="3" fill="#000"/>
<rect x="668" y="487" width="3" height="1" fill="#008000"/>
</g>
<g clip-path="url(#cm)">
<rect x="677" y="486" width="1" height="82" fill="#000"/>
<rect x="675" y="486" width="5" height="52" fill="#000"/>
<rect x="676" y="487" width="3" height="50" fill="#ff0000"/>
</g>
<g clip-path="url(#cm)">
<rect x="685" y="530" width="1" height="43" fill="#000"/>
<rect x="683" y="537" width="5" height="34" fill="#000"/>
<rect x="684" y="538" width="3" height="32" fill="#ff0000"/>
</g>
<g clip-path="url(#cm)">
<rect x="693" y="556" width="1" height="27" fill="#000"/>
<rect x="691" y="565" width="5" height="6" fill="#000"/>
<rect x="692" y="566" width="3" height="4" fill="#008000"/>
</g>
<g clip-path="url(#cm)">
<rect x="701" y="562" width="1" height="47" fill="#000"/>
<rect x="699" y="566" width="5" height="25" fill="#000"/>
<rect x="700" y="567" width="3" height="23" fill="#ff0000"/>
</g>
<g clip-path="url(#cm)">
<rect x="709" y="582" width="1" height="46" fill="#000"/>
<rect x="707" y="589" width="5" height="24" fill="#000"/>
<rect x="708" y="590" width="3" height="22" fill="#ff0000"/>
</g>
<g clip-path="url(#cm)">
<rect x="717" y="612" width="1" height="54" fill="#000"/>
<rect x="715" y="612" width="5" height="11" fill="#000"/>
<rect x="716" y="613" width="3" height="9" fill="#ff0000"/>
</g>
<g clip-path="url(#cm)">
<rect x="725" y="596" width="1" height="100" fill="#000"/>
<rect x="723" y="610" width="5" height="13" fill="#000"/>
<rect x="724" y="611" width="3" height="11" fill="#008000"/>
</g>
<g clip-path="url(#cm)">
<rect x="733" y="587" width="1" height="50" fill="#000"/>
<rect x="731" y="610" width="5" height="11" fill="#000"/>
<rect x="732" y="611" width="3" height="9" fill="#ff0000"/>
</g>
<g clip-path="url(#cm)">
<rect x="741" y="603" width="1" height="31" fill="#000"/>
<rect x="739" y="613" width="5" height="20" fill="#000"/>
<rect x="740" y="614" width="3" height="18" fill="#008000"/>
</g>
<g clip-path="url(#cm)">
<rect x="749" y="601" width="1" height="33" fill="#000"/>
<rect x="747" y="605" width="5" height="10" fill="#000"/>
<rect x="748" y="606" width="3" height="8" fill="#008000"/>
</g>
<g clip-path="url(#cm)">
<rect x="757" y="597" width="1" height="42" fill="#000"/>
<rect x="755" y="605" width="5" height="27" fill="#000"/>
<rect x="756" y="606" width="3" height="25" fill="#ff0000"/>
</g>
<g clip-path="url(#cm)">
<rect x="765" y="536" width="1" height="104" fill="#000"/>
<rect x="763" y="570" width="5" height="63" fill="#000"/>
<rect x="764" y="571" width="3" height="61" fill="#008000"/>
</g>
<g clip-path="url(#cm)">
<rect x="773" y="544" width="1" height="52" fill="#000"/>
<rect x="771" y="570" width="5" height="11" fill="#000"/>
<rect x="772" y="571" width="3" height="9" fill="#ff0000"/>
</g>
<g clip-path="url(#cm)">
<rect x="781" y="568" width="1" height="46" fill="#000"/>
<rect x="779" y="579" width="5" height="21" fill="#000"/>
<rect x="780" y="580" width="3" height="19" fill="#ff0000"/>
</g>
<g clip-path="url(#cm)">
<rect x="789" y="568" width="1" height="35" fill="#000"/>
<rect x="787" y="571" width="5" height="31" fill="#000"/>
<rect x="788" y="572" width="3" height="29" fill="#008000"/>
</g>
<g clip-path="url(#cm)">
<rect x="797" y="537" width="1" height="40" fill="#000"/>
<rect x="795" y="541" width="5" height="33" fill="#000"/>
<rect x="796" y="542" width="3" height="31" fill="#008000"/>
</g>
<g clip-path="url(#cm)">
<rect x="805" y="538" width="1" height="47" fill="#000"/>
<rect x="803" y="541" width="5" height="14" fill="#000"/>
<rect x="804" y="542" width="3" height="12" fill="#ff0000"/>
</g>
<g clip-path="url(#cm)">
<rect x="813" y="552" width="1" height="65" fill="#000"/>
<rect x="811" y="553" width="5" height="22" fill="#000"/>
<rect x="812" y="554" width="3" height="20" fill="#ff0000"/>
</g>
<g clip-path="url(#cm)">
<rect x="821" y="559" width="1" height="87" fill="#000"/>
<rect x="819" y="574" width="5" height="72" fill="#000"/>
<rect x="820" y="575" width="3" height="70" fill="#ff0000"/>
</g>
<g clip-path="url(#cm)">
<rect x="829" y="602" width="1" height="52" fill="#000"/>
<rect x="827" y="608" width="5" height="37" fill="#000"/>
<rect x="828" y="609" width="3" height="35" fill="#008000"/>
</g>
<g clip-path="url(#cm)">
<rect x="837" y="585" width="1" height="29" fill="#000"/>
<rect x="835" y="587" width="5" height="22" fill="#000"/>
<rect x="836" y="588" width="3" height="20" fill="#008000"/>
</g>
<g clip-path="url(#cm)">
<rect x="845" y="578" width="1" height="27" fill="#000"/>
<rect x="843" y="586" width="5" height="2" fill="#000"/>
</g>
<g clip-path="url(#cm)">
<rect x="853" y="556" width="1" height="39" fill="#000"/>
<rect x="851" y="558" width="5" height="29" fill="#000"/>
<rect x="852" y="559" width="3" height="27" fill="#008000"/>
</g>
<g clip-path="url(#cm)">
<rect x="861" y="512" width="1" height="67" fill="#000"/>
<rect x="859" y="545" width="5" height="14" fill="#000"/>
<rect x="860" y="546" width="3" height="12" fill="#008000"/>
</g>
<g clip-path="url(#cm)">
<rect x="869" y="464" width="1" height="125" fill="#000"/>
<rect x="867" y="545" width="5" height="27" fill="#000"/>
<rect x="868" y="546" width="3" height="25" fill="#ff0000"/>
</g>
<g clip-path="url(#cm)">
<rect x="877" y="531" width="1" height="45" fill="#000"/>
<rect x="875" y="553" width="5" height="19" fill="#000"/>
<rect x="876" y="554" width="3" height="17" fill="#008000"/>
</g>
<g clip-path="url(#cm)">
<rect x="885" y="482" width="1" height="93" fill="#000"/>
<rect x="883" y="492" width="5" height="67" fill="#000"/>
<rect x="884" y="493" width="3" height="65" fill="#008000"/>
</g>
<g clip-path="url(#cm)">
<rect x="893" y="459" width="1" height="39" fill="#000"/>
<rect x="891" y="480" width="5" height="13" fill="#000"/>
<rect x="892" y="481" width="3" height="11" fill="#008000"/>
</g>
<g clip-path="url(#cm)">
<rect x="901" y="398" width="1" height="92" fill="#000"/>
<rect x="899" y="409" width="5" height="72" fill="#000"/>
<rect x="900" y="410" width="3" height="70" fill="#008000"/>
</g>
<g clip-path="url(#cm)">
<rect x="909" y="383" width="1" height="79" fill="#000"/>
<rect x="907" y="408" width="5" height="3" fill="#000"/>
<rect x="908" y="409" width="3" height="1" fill="#ff0000"/>
</g>
<g clip-path="url(#cm)">
<rect x="917" y="329" width="1" height="108" fill="#000"/>
<rect x="915" y="333" width="5" height="79" fill="#000"/>
<rect x="916" y="334" width="3" height="77" fill="#008000"/>
</g>
<g clip-path="url(#cm)">
<rect x="925" y="294" width="1" height="55" fill="#000"/>
<rect x="923" y="332" width="5" height="7" fill="#000"/>
<rect x="924" y="333" width="3" height="5" fill="#ff0000"/>
</g>
<g clip-path="url(#cm)">
<rect x="933" y="311" width="1" height="44" fill="#000"/>
<rect x="931" y="324" width="5" height="4" fill="#000"/>
<rect x="932" y="325" width="3" height="2" fill="#008000"/>
</g>
<g clip-path="url(#cm)">
<rect x="941" y="292" width="1" height="58" fill="#000"/>
<rect x="939" y="300" width="5" height="25" fill="#000"/>
<rect x="940" y="301" width="3" height="23" fill="#008000"/>
</g>
<g clip-path="url(#cm)">
<rect x="949" y="258" width="1" height="44" fill="#000"/>
<rect x="947" y="281" width="5" height="21" fill="#000"/>
<rect x="948" y="282" width="3" height="19" fill="#008000"/>
</g>
<g clip-path="url(#cm)">
<rect x="957" y="275" width="1" height="61" fill="#000"/>
<rect x="955" y="281" width="5" height="27" fill="#000"/>
<rect x="956" y="282" width="3" height="25" fill="#ff0000"/>
</g>
<g clip-path="url(#cm)">
<rect x="965" y="294" width="1" height="38" fill="#000"/>
<rect x="963" y="307" width="5" height="8" fill="#000"/>
<rect x="964" y="308" width="3" height="6" fill="#ff0000"/>
</g>
<g clip-path="url(#cm)">
<rect x="973" y="291" width="1" height="36" fill="#000"/>
<rect x="971" y="305" width="5" height="10" fill="#000"/>
<rect x="972" y="306" width="3" height="8" fill="#008000"/>
</g>
<g clip-path="url(#cm)">
<rect x="981" y="250" width="1" height="39" fill="#000"/>
<rect x="979" y="251" width="5" height="32" fill="#000"/>
<rect x="980" y="252" width="3" height="30" fill="#ff0000"/>
</g>
<g clip-path="url(#cm)">
<rect x="989" y="267" width="1" height="24" fill="#000"/>
<rect x="987" y="273" width="5" height="11" fill="#000"/>
<rect x="988" y="274" width="3" height="9" fill="#008000"/>
</g>
<g clip-path="url(#cm)">
<rect x="997" y="240" width="1" height="58" fill="#000"/>
<rect x="995" y="253" width="5" height="21" fill="#000"/>
<rect x="996" y="254" width="3" height="19" fill="#008000"/>
</g>
<g clip-path="url(#cm)">
<rect x="1005" y="234" width="1" height="65" fill="#000"/>
<rect x="1003" y="251" width="5" height="3" fill="#000"/>
<rect x="1004" y="252" width="3" height="1" fill="#008000"/>
</g>
<g clip-path="url(#cm)">
<rect x="1013" y="228" width="1" height="30" fill="#000"/>
<rect x="1011" y="251" width="5" height="3" fill="#000"/>
<rect x="1012" y="252" width="3" height="1" fill="#ff0000"/>
</g>
<g clip-path="url(#cm)">
<rect x="1021" y="205" width="1" height="51" fill="#000"/>
<rect x="1019" y="222" width="5" height="32" fill="#000"/>
<rect x="1020" y="223" width="3" height="30" fill="#008000"/>
</g>
<g clip-path="url(#cm)">
<rect x="1029" y="189" width="1" height="46" fill="#000"/>
<rect x="1027" y="197" width="5" height="36" fill="#000"/>
<rect x="1028" y="198" width="3" height="34" fill="#008000"/>
</g>
<g clip-path="url(#cm)">
<rect x="1037" y="189" width="1" height="21" fill="#000"/>
<rect x="1035" y="192" width="5" height="6" fill="#000"/>
<rect x="1036" y="193" width="3" height="4" fill="#008000"/>
</g>
<g clip-path="url(#cm)">
<rect x="1045" y="159" width="1" height="52" fill="#000"/>
<rect x="1043" y="192" width="5" height="14" fill="#000"/>
<rect x="1044" y="193" width="3" height="12" fill="#ff0000"/>
</g>
<g clip-path="url(#cm)">
<rect x="1053" y="169" width="1" height="86" fill="#000"/>
<rect x="1051" y="189" width="5" height="18" fill="#000"/>
<rect x="1052" y="190" width="3" height="16" fill="#008000"/>
</g>
<g clip-path="url(#cm)">
<rect x="1061" y="139" width="1" height="53" fill="#000"/>
<rect x="1059" y="140" width="5" height="51" fill="#000"/>
<rect x="1060" y="141" width="3" height="49" fill="#008000"/>
</g>
<g clip-path="url(#cm)">
<rect x="1069" y="118" width="1" height="29" fill="#000"/>
<rect x="1067" y="120" width="5" height="21" fill="#000"/>
<rect x="1068" y="121" width="3" height="19" fill="#008000"/>
</g>
<g clip-path="url(#cm)">
<rect x="1077" y="111" width="1" height="45" fill="#000"/>
<rect x="1075" y="117" width="5" height="16" fill="#000"/>
<rect x="1076" y="118" width="3" height="14" fill="#008000"/>
</g>
<g clip-path="url(#cm)">
<rect x="1085" y="98" width="1" height="44" fill="#000"/>
<rect x="1083" y="117" width="5" height="19" fill="#000"/>
<rect x="1084" y="118" width="3" height="17" fill="#ff0000"/>
</g>
<g clip-path="url(#cm)">
<rect x="1093" y="103" width="1" height="53" fill="#000"/>
<rect x="1091" y="105" width="5" height="31" fill="#000"/>
<rect x="1092" y="106" width="3" height="29" fill="#008000"/>
</g>
<g clip-path="url(#cm)">
<rect x="1101" y="93" width="1" height="36" fill="#000"/>
<rect x="1099" y="105" width="5" height="11" fill="#000"/>
<rect x="1100" y="106" width="3" height="9" fill="#ff0000"/>
</g>
<g clip-path="url(#cm)">
<rect x="1109" y="66" width="1" height="62" fill="#000"/>
<rect x="1107" y="84" width="5" height="32" fill="#000"/>
<rect x="1108" y="85" width="3" height="30" fill="#008000"/>
</g>
<g clip-path="url(#cm)">
<rect x="1117" y="67" width="1" height="46" fill="#000"/>
<rect x="1115" y="82" width="5" height="3" fill="#000"/>
<rect x="1116" y="83" width="3" height="1" fill="#008000"/>
</g>
<g clip-path="url(#cm)">
<rect x="1125" y="68" width="1" height="28" fill="#000"/>
<rect x="1123" y="78" width="5" height="16" fill="#000"/>
<rect x="1124" y="79" width="3" height="14" fill="#008000"/>
</g>
<g clip-path="url(#cm)">
<rect x="1133" y="58" width="1" height="25" fill="#000"/>
<rect x="1131" y="63" width="5" height="15" fill="#000"/>
<rect x="1132" y="64" width="3" height="13" fill="#008000"/>
</g>
<g clip-path="url(#cm)">
<rect x="1141" y="41" width="1" height="61" fill="#000"/>
<rect x="1139" y="63" width="5" height="17" fill="#000"/>
<rect x="1140" y="64" width="3" height="15" fill="#ff0000"/>
</g>
<g clip-path="url(#cm)">
<rect x="1149" y="47" width="1" height="62" fill="#000"/>
<rect x="1147" y="79" width="5" height="19" fill="#000"/>
<rect x="1148" y="80" width="3" height="17" fill="#ff0000"/>
</g>
<g clip-path="url(#cm)">
<rect x="1157" y="50" width="1" height="63" fill="#000"/>
<rect x="1155" y="71" width="5" height="27" fill="#000"/>
<rect x="1156" y="72" width="3" height="25" fill="#008000"/>
</g>
<g clip-path="url(#cm)">
<rect x="1165" y="69" width="1" height="60" fill="#000"/>
<rect x="1163" y="71" width="5" height="24" fill="#000"/>
<rect x="1164" y="72" width="3" height="22" fill="#ff0000"/>
</g>
<g clip-path="url(#cm)">
<rect x="1173" y="81" width="1" height="40" fill="#000"/>
<rect x="1171" y="92" width="5" height="17" fill="#000"/>
<rect x="1172" y="93" width="3" height="15" fill="#ff0000"/>
</g>
<g clip-path="url(#cm)">
<rect x="1181" y="107" width="1" height="26" fill="#000"/>
<rect x="1179" y="108" width="5" height="16" fill="#000"/>
<rect x="1180" y="109" width="3" height="14" fill="#ff0000"/>
</g>
<g clip-path="url(#cm)">
<rect x="1189" y="122" width="1" height="80" fill="#000"/>
<rect x="1187" y="123" width="5" height="51" fill="#000"/>
<rect x="1188" y="124" width="3" height="49" fill="#ff0000"/>
</g>
<g clip-path="url(#cm)">
<rect x="1197" y="137" width="1" height="51" fill="#000"/>
<rect x="1195" y="144" width="5" height="30" fill="#000"/>
<rect x="1196" y="145" width="3" height="28" fill="#008000"/>
</g>
<g clip-path="url(#cm)">
<rect x="1205" y="135" width="1" height="95" fill="#000"/>
<rect x="1203" y="144" width="5" height="78" fill="#000"/>
<rect x="1204" y="145" width="3" height="76" fill="#ff0000"/>
</g>
<g clip-path="url(#cm)">
<rect x="1213" y="211" width="1" height="24" fill="#000"/>
<rect x="1211" y="220" width="5" height="2" fill="#000"/>
</g>
<g clip-path="url(#cm)">
<rect x="1221" y="226" width="1" height="63" fill="#000"/>
<rect x="1219" y="240" width="5" height="48" fill="#000"/>
<rect x="1220" y="241" width="3" height="46" fill="#008000"/>
</g>
<g clip-path="url(#cm)">
<rect x="1229" y="227" width="1" height="56" fill="#000"/>
<rect x="1227" y="240" width="5" height="37" fill="#000"/>
<rect x="1228" y="241" width="3" height="35" fill="#ff0000"/>
</g>
<g clip-path="url(#cm)">
<rect x="1237" y="266" width="1" height="83" fill="#000"/>
<rect x="1235" y="277" width="5" height="72" fill="#000"/>
<rect x="1236" y="278" width="3" height="70" fill="#ff0000"/>
</g>
<g clip-path="url(#cm)">
<rect x="1245" y="275" width="1" height="97" fill="#000"/>
<rect x="1243" y="281" width="5" height="67" fill="#000"/>
<rect x="1244" y="282" width="3" height="65" fill="#008000"/>
</g>
<g clip-path="url(#cm)">
<rect x="1253" y="258" width="1" height="118" fill="#000"/>
<rect x="1251" y="281" width="5" height="79" fill="#000"/>
<rect x="1252" y="282" width="3" height="77" fill="#ff0000"/>
</g>
<g clip-path="url(#cm)">
<rect x="1261" y="344" width="1" height="25" fill="#000"/>
<rect x="1259" y="354" width="5" height="6" fill="#000"/>
<rect x="1260" y="355" width="3" height="4" fill="#008000"/>
</g>
<g clip-path="url(#cm)">
<rect x="1269" y="349" width="1" height="34" fill="#000"/>
<rect x="1267" y="352" width="5" height="6" fill="#000"/>
<rect x="1268" y="353" width="3" height="4" fill="#008000"/>
</g>
<g clip-path="url(#cm)">
<rect x="1277" y="288" width="1" height="74" fill="#000"/>
<rect x="1275" y="310" width="5" height="43" fill="#000"/>
<rect x="1276" y="311" width="3" height="41" fill="#008000"/>
</g>
<g clip-path="url(#cm)">
<rect x="1285" y="241" width="1" height="93" fill="#000"/>
<rect x="1283" y="277" width="5" height="34" fill="#000"/>
<rect x="1284" y="278" width="3" height="32" fill="#008000"/>
</g>
<g clip-path="url(#cm)">
<rect x="1293" y="197" width="1" height="98" fill="#000"/>
<rect x="1291" y="232" width="5" height="46" fill="#000"/>
<rect x="1292" y="233" width="3" height="44" fill="#008000"/>
</g>
<g clip-path="url(#cm)">
<rect x="1301" y="115" width="1" height="148" fill="#000"/>
<rect x="1299" y="189" width="5" height="44" fill="#000"/>
<rect x="1300" y="190" width="3" height="42" fill="#008000"/>
</g>
<g clip-path="url(#cm)">
<rect x="1309" y="182" width="1" height="66" fill="#000"/>
<rect x="1307" y="189" width="5" height="38" fill="#000"/>
<rect x="1308" y="190" width="3" height="36" fill="#ff0000"/>
</g>
<g clip-path="url(#cm)">
<rect x="1317" y="144" width="1" height="102" fill="#000"/>
<rect x="1315" y="168" width="5" height="56" fill="#000"/>
<rect x="1316" y="169" width="3" height="54" fill="#008000"/>
</g>
<g clip-path="url(#cm)">
<rect x="1325" y="159" width="1" height="41" fill="#000"/>
<rect x="1323" y="169" width="5" height="24" fill="#000"/>
<rect x="1324" y="170" width="3" height="22" fill="#ff0000"/>
</g>
<g clip-path="url(#cm)">
<rect x="1333" y="165" width="1" height="82" fill="#000"/>
<rect x="1331" y="192" width="5" height="26" fill="#000"/>
<rect x="1332" y="193" width="3" height="24" fill="#ff0000"/>
</g>
<g clip-path="url(#cm)">
<rect x="1341" y="195" width="1" height="112" fill="#000"/>
<rect x="1339" y="217" width="5" height="16" fill="#000"/>
<rect x="1340" y="218" width="3" height="14" fill="#ff0000"/>
</g>
<g clip-path="url(#cm)">
<rect x="1349" y="152" width="1" height="154" fill="#000"/>
<rect x="1347" y="232" width="5" height="37" fill="#000"/>
<rect x="1348" y="233" width="3" height="35" fill="#ff0000"/>
</g>
<g clip-path="url(#cm)">
<rect x="1357" y="148" width="1" height="202" fill="#000"/>
<rect x="1355" y="226" width="5" height="45" fill="#000"/>
<rect x="1356" y="227" width="3" height="43" fill="#008000"/>
</g>
<g clip-path="url(#cm)">
<rect x="1365" y="212" width="1" height="32" fill="#000"/>
<rect x="1363" y="228" width="5" height="4" fill="#000"/>
<rect x="1364" y="229" width="3" height="2" fill="#ff0000"/>
</g>
<g clip-path="url(#cm)">
<rect x="1373" y="216" width="1" height="23" fill="#000"/>
<rect x="1371" y="216" width="5" height="16" fill="#000"/>
<rect x="1372" y="217" width="3" height="14" fill="#008000"/>
</g>
<g clip-path="url(#cm)">
<rect x="1381" y="194" width="1" height="296" fill="#000"/>
<rect x="1379" y="216" width="5" height="263" fill="#000"/>
<rect x="1380" y="217" width="3" height="261" fill="#ff0000"/>
</g>
<g clip-path="url(#cm)">
<rect x="1389" y="411" width="1" height="110" fill="#000"/>
<rect x="1387" y="478" width="5" height="26" fill="#000"/>
<rect x="1388" y="479" width="3" height="24" fill="#ff0000"/>
</g>
<g clip-path="url(#cm)">
<rect x="1397" y="469" width="1" height="65" fill="#000"/>
<rect x="1395" y="505" width="5" height="24" fill="#000"/>
<rect x="1396" y="506" width="3" height="22" fill="#ff0000"/>
</g>
<g clip-path="url(#cm)">
<rect x="1405" y="438" width="1" height="114" fill="#000"/>
<rect x="1403" y="466" width="5" height="63" fill="#000"/>
<rect x="1404" y="467" width="3" height="61" fill="#008000"/>
</g>
<g clip-path="url(#cm)">
<rect x="1413" y="449" width="1" height="44" fill="#000"/>
<rect x="1411" y="466" width="5" height="4" fill="#000"/>
<rect x="1412" y="467" width="3" height="2" fill="#ff0000"/>
</g>
<g clip-path="url(#cm)">
<rect x="1421" y="464" width="1" height="29" fill="#000"/>
<rect x="1419" y="468" width="5" height="5" fill="#000"/>
<rect x="1420" y="469" width="3" height="3" fill="#ff0000"/>
</g>
<g clip-path="url(#cm)">
<rect x="1429" y="436" width="1" height="62" fill="#000"/>
<rect x="1427" y="470" width="5" height="3" fill="#000"/>
<rect x="1428" y="471" width="3" height="1" fill="#008000"/>
</g>
<g clip-path="url(#cm)">
<rect x="1437" y="435" width="1" height="53" fill="#000"/>
<rect x="1435" y="454" width="5" height="18" fill="#000"/>
<rect x="1436" y="455" width="3" height="16" fill="#008000"/>
</g>
<g clip-path="url(#cm)">
<rect x="1445" y="446" width="1" height="72" fill="#000"/>
<rect x="1443" y="454" width="5" height="57" fill="#000"/>
<rect x="1444" y="455" width="3" height="55" fill="#ff0000"/>
</g>
<g clip-path="url(#cm)">
<rect x="1453" y="494" width="1" height="25" fill="#000"/>
<rect x="1451" y="504" width="5" height="7" fill="#000"/>
<rect x="1452" y="505" width="3" height="5" fill="#008000"/>
</g>
<g clip-path="url(#cm)">
<rect x="1461" y="492" width="1" height="32" fill="#000"/>
<rect x="1459" y="492" width="5" height="21" fill="#000"/>
<rect x="1460" y="493" width="3" height="19" fill="#ff0000"/>
</g>
<g clip-path="url(#cm)">
<rect x="1469" y="505" width="1" height="20" fill="#000"/>
<rect x="1467" y="507" width="5" height="6" fill="#000"/>
<rect x="1468" y="508" width="3" height="4" fill="#008000"/>
</g>
<g clip-path="url(#cm)">
<rect x="1477" y="447" width="1" height="72" fill="#000"/>
<rect x="1475" y="479" width="5" height="29" fill="#000"/>
<rect x="1476" y="480" width="3" height="27" fill="#008000"/>
</g>
<g clip-path="url(#cm)">
<rect x="1485" y="456" width="1" height="92" fill="#000"/>
<rect x="1483" y="479" width="5" height="6" fill="#000"/>
<rect x="1484" y="480" width="3" height="4" fill="#ff0000"/>
</g>
<g clip-path="url(#cm)">
<rect x="1493" y="471" width="1" height="64" fill="#000"/>
<rect x="1491" y="483" width="5" height="35" fill="#000"/>
<rect x="1492" y="484" width="3" height="33" fill="#ff0000"/>
</g>
<g clip-path="url(#cm)">
<rect x="1501" y="502" width="1" height="27" fill="#000"/>
<rect x="1499" y="513" width="5" height="5" fill="#000"/>
<rect x="1500" y="514" width="3" height="3" fill="#008000"/>
</g>
<g clip-path="url(#cm)">
<rect x="1509" y="492" width="1" height="33" fill="#000"/>
<rect x="1507" y="502" width="5" height="14" fill="#000"/>
<rect x="1508" y="503" width="3" height="12" fill="#008000"/>
</g>
<g clip-path="url(#cm)">
<rect x="1517" y="496" width="1" height="20" fill="#000"/>
<rect x="1515" y="502" width="5" height="7" fill="#000"/>
<rect x="1516" y="503" width="3" height="5" fill="#ff0000"/>
</g>
<g clip-path="url(#cm)">
<rect x="1525" y="491" width="1" height="80" fill="#000"/>
<rect x="1523" y="508" width="5" height="38" fill="#000"/>
<rect x="1524" y="509" width="3" height="36" fill="#ff0000"/>
</g>
<g clip-path="url(#cm)">
<rect x="1533" y="486" width="1" height="76" fill="#000"/>
<rect x="1531" y="543" width="5" height="4" fill="#000"/>
<rect x="1532" y="544" width="3" height="2" fill="#ff0000"/>
</g>
<g clip-path="url(#cm)">
<rect x="1541" y="522" width="1" height="53" fill="#000"/>
<rect x="1539" y="547" width="5" height="8" fill="#000"/>
<rect x="1540" y="548" width="3" height="6" fill="#ff0000"/>
</g>
<g clip-path="url(#cm)">
<rect x="1549" y="548" width="1" height="27" fill="#000"/>
<rect x="1547" y="554" width="5" height="5" fill="#000"/>
<rect x="1548" y="555" width="3" height="3" fill="#ff0000"/>
</g>
<g clip-path="url(#cm)">
<rect x="1557" y="535" width="1" height="40" fill="#000"/>
<rect x="1555" y="543" width="5" height="15" fill="#000"/>
<rect x="1556" y="544" width="3" height="13" fill="#008000"/>
</g>
<g clip-path="url(#cm)">
<rect x="1565" y="528" width="1" height="21" fill="#000"/>
<rect x="1563" y="535" width="5" height="9" fill="#000"/>
<rect x="1564" y="536" width="3" height="7" fill="#008000"/>
</g>
<g clip-path="url(#cm)">
<rect x="1573" y="505" width="1" height="39" fill="#000"/>
<rect x="1571" y="535" width="5" height="5" fill="#000"/>
<rect x="1572" y="536" width="3" height="3" fill="#ff0000"/>
</g>
<g clip-path="url(#cm)">
<rect x="1581" y="489" width="1" height="59" fill="#000"/>
<rect x="1579" y="535" width="5" height="6" fill="#000"/>
<rect x="1580" y="536" width="3" height="4" fill="#008000"/>
</g>
<g clip-path="url(#cm)">
<rect x="1589" y="496" width="1" height="52" fill="#000"/>
<rect x="1587" y="527" width="5" height="10" fill="#000"/>
<rect x="1588" y="528" width="3" height="8" fill="#008000"/>
</g>
<g clip-path="url(#cm)">
<rect x="1597" y="516" width="1" height="21" fill="#000"/>
<rect x="1595" y="527" width="5" height="4" fill="#000"/>
<rect x="1596" y="528" width="3" height="2" fill="#ff0000"/>
</g>
<g clip-path="url(#cm)">
<rect x="1605" y="519" width="1" height="26" fill="#000"/>
<rect x="1603" y="533" width="5" height="5" fill="#000"/>
<rect x="1604" y="534" width="3" height="3" fill="#ff0000"/>
</g>
<g clip-path="url(#cm)">
<rect x="1613" y="523" width="1" height="17" fill="#000"/>
<rect x="1611" y="525" width="5" height="13" fill="#000"/>
<rect x="1612" y="526" width="3" height="11" fill="#008000"/>
</g>
<g clip-path="url(#cm)">
<rect x="1621" y="510" width="1" height="42" fill="#000"/>
<rect x="1619" y="525" width="5" height="8" fill="#000"/>
<rect x="1620" y="526" width="3" height="6" fill="#ff0000"/>
</g>
<g clip-path="url(#cm)">
<rect x="1629" y="386" width="1" height="148" fill="#000"/>
<rect x="1627" y="440" width="5" height="93" fill="#000"/>
<rect x="1628" y="441" width="3" height="91" fill="#008000"/>
</g>
<g clip-path="url(#cm)">
<rect x="1637" y="425" width="1" height="39" fill="#000"/>
<rect x="1635" y="439" width="5" height="2" fill="#000"/>
</g>
<g clip-path="url(#cm)">
<rect x="1645" y="422" width="1" height="31" fill="#000"/>
<rect x="1643" y="437" width="5" height="3" fill="#000"/>
<rect x="1644" y="438" width="3" height="1" fill="#008000"/>
</g>
<g clip-path="url(#cm)">
<rect x="1653" y="427" width="1" height="14" fill="#000"/>
<rect x="1651" y="432" width="5" height="9" fill="#000"/>
<rect x="1652" y="433" width="3" height="7" fill="#008000"/>
</g>
<g clip-path="url(#cm)">
<rect x="1661" y="429" width="1" height="29" fill="#000"/>
<rect x="1659" y="432" width="5" height="22" fill="#000"/>
<rect x="1660" y="433" width="3" height="20" fill="#ff0000"/>
</g>
<g clip-path="url(#cm)">
<rect x="1669" y="441" width="1" height="53" fill="#000"/>
<rect x="1667" y="453" width="5" height="29" fill="#000"/>
<rect x="1668" y="454" width="3" height="27" fill="#ff0000"/>
</g>
<g clip-path="url(#cm)">
<rect x="1677" y="476" width="1" height="57" fill="#000"/>
<rect x="1675" y="480" width="5" height="35" fill="#000"/>
<rect x="1676" y="481" width="3" height="33" fill="#ff0000"/>
</g>
<g clip-path="url(#cm)">
<rect x="1685" y="495" width="1" height="48" fill="#000"/>
<rect x="1683" y="514" width="5" height="11" fill="#000"/>
<rect x="1684" y="515" width="3" height="9" fill="#ff0000"/>
</g>
<g clip-path="url(#cm)">
<rect x="1693" y="502" width="1" height="31" fill="#000"/>
<rect x="1691" y="517" width="5" height="8" fill="#000"/>
<rect x="1692" y="518" width="3" height="6" fill="#008000"/>
</g>
<g clip-path="url(#cm)">
<rect x="1701" y="478" width="1" height="40" fill="#000"/>
<rect x="1699" y="485" width="5" height="17" fill="#000"/>
<rect x="1700" y="486" width="3" height="15" fill="#008000"/>
</g>
<g clip-path="url(#cm)">
<rect x="1709" y="462" width="1" height="27" fill="#000"/>
<rect x="1707" y="466" width="5" height="21" fill="#000"/>
<rect x="1708" y="467" width="3" height="19" fill="#008000"/>
</g>
<g clip-path="url(#cm)">
<rect x="1717" y="428" width="1" height="46" fill="#000"/>
<rect x="1715" y="446" width="5" height="21" fill="#000"/>
<rect x="1716" y="447" width="3" height="19" fill="#008000"/>
</g>
<g clip-path="url(#cm)">
<rect x="1725" y="412" width="1" height="39" fill="#000"/>
<rect x="1723" y="414" width="5" height="34" fill="#000"/>
<rect x="1724" y="415" width="3" height="32" fill="#008000"/>
</g>
<g clip-path="url(#cm)">
<rect x="1733" y="406" width="1" height="32" fill="#000"/>
<rect x="1731" y="415" width="5" height="16" fill="#000"/>
<rect x="1732" y="416" width="3" height="14" fill="#ff0000"/>
</g>
<g clip-path="url(#cm)">
<rect x="1741" y="416" width="1" height="22" fill="#000"/>
<rect x="1739" y="429" width="5" height="1" fill="#000"/>
</g>
<g clip-path="url(#cm)">
<rect x="1749" y="426" width="1" height="30" fill="#000"/>
<rect x="1747" y="433" width="5" height="18" fill="#000"/>
<rect x="1748" y="434" width="3" height="16" fill="#ff0000"/>
</g>
<g clip-path="url(#cm)">
<rect x="1757" y="428" width="1" height="25" fill="#000"/>
<rect x="1755" y="437" width="5" height="15" fill="#000"/>
<rect x="1756" y="438" width="3" height="13" fill="#008000"/>
</g>
<g clip-path="url(#cm)">
<rect x="1765" y="435" width="1" height="84" fill="#000"/>
<rect x="1763" y="437" width="5" height="54" fill="#000"/>
<rect x="1764" y="438" width="3" height="52" fill="#ff0000"/>
</g>
<g clip-path="url(#cm)">
<rect x="1773" y="466" width="1" height="45" fill="#000"/>
<rect x="1771" y="468" width="5" height="23" fill="#000"/>
<rect x="1772" y="469" width="3" height="21" fill="#008000"/>
</g>
<g clip-path="url(#cm)">
<rect x="1781" y="460" width="1" height="46" fill="#000"/>
<rect x="1779" y="469" width="5" height="22" fill="#000"/>
<rect x="1780" y="470" width="3" height="20" fill="#ff0000"/>
</g>
<g clip-path="url(#cm)">
<rect x="1789" y="479" width="1" height="22" fill="#000"/>
<rect x="1787" y="482" width="5" height="7" fill="#000"/>
<rect x="1788" y="483" width="3" height="5" fill="#008000"/>
</g>
<g clip-path="url(#cm)">
<rect x="1797" y="472" width="1" height="22" fill="#000"/>
<rect x="1795" y="482" width="5" height="7" fill="#000"/>
<rect x="1796" y="483" width="3" height="5" fill="#ff0000"/>
</g>
<g clip-path="url(#cm)">
<rect x="1805" y="460" width="1" height="30" fill="#000"/>
<rect x="1803" y="463" width="5" height="25" fill="#000"/>
<rect x="1804" y="464" width="3" height="23" fill="#008000"/>
</g>
<g clip-path="url(#cm)">
<rect x="1813" y="451" width="1" height="33" fill="#000"/>
<rect x="1811" y="462" width="5" height="2" fill="#000"/>
</g>
<g clip-path="url(#cm)">
<rect x="1821" y="411" width="1" height="54" fill="#000"/>
<rect x="1819" y="420" width="5" height="44" fill="#000"/>
<rect x="1820" y="421" width="3" height="42" fill="#008000"/>
</g>
<g clip-path="url(#cm)">
<rect x="1829" y="411" width="1" height="46" fill="#000"/>
<rect x="1827" y="420" width="5" height="2" fill="#000"/>
</g>
<g clip-path="url(#cm)">
<rect x="1837" y="397" width="1" height="33" fill="#000"/>
<rect x="1835" y="402" width="5" height="21" fill="#000"/>
<rect x="1836" y="403" width="3" height="19" fill="#008000"/>
</g>
<g clip-path="url(#cm)">
<rect x="1845" y="400" width="1" height="32" fill="#000"/>
<rect x="1843" y="403" width="5" height="21" fill="#000"/>
<rect x="1844" y="404" width="3" height="19" fill="#ff0000"/>
</g>
<g clip-path="url(#cm)">
<rect x="1853" y="422" width="1" height="7" fill="#000"/>
<rect x="1851" y="423" width="5" height="4" fill="#000"/>
<rect x="1852" y="424" width="3" height="2" fill="#ff0000"/>
</g>
<rect x="1876" y="16" width="2" height="1" fill="#000"/>
<text x="1881.5" y="19.5" font-size="9.5" fill="#000" stroke="#000" stroke-width="0.15" text-anchor="start" textLength="32.5" lengthAdjust="spacingAndGlyphs" xml:space="preserve">149.750</text>
<rect x="1876" y="49" width="2" height="1" fill="#000"/>
<text x="1881.5" y="52.5" font-size="9.5" fill="#000" stroke="#000" stroke-width="0.15" text-anchor="start" textLength="32.5" lengthAdjust="spacingAndGlyphs" xml:space="preserve">149.410</text>
<rect x="1876" y="82" width="2" height="1" fill="#000"/>
<text x="1881.5" y="85.5" font-size="9.5" fill="#000" stroke="#000" stroke-width="0.15" text-anchor="start" textLength="32.5" lengthAdjust="spacingAndGlyphs" xml:space="preserve">149.070</text>
<rect x="1876" y="115" width="2" height="1" fill="#000"/>
<text x="1881.5" y="118.5" font-size="9.5" fill="#000" stroke="#000" stroke-width="0.15" text-anchor="start" textLength="32.5" lengthAdjust="spacingAndGlyphs" xml:space="preserve">148.730</text>
<rect x="1876" y="148" width="2" height="1" fill="#000"/>
<text x="1881.5" y="151.5" font-size="9.5" fill="#000" stroke="#000" stroke-width="0.15" text-anchor="start" textLength="32.5" lengthAdjust="spacingAndGlyphs" xml:space="preserve">148.390</text>
<rect x="1876" y="180" width="2" height="1" fill="#000"/>
<text x="1881.5" y="183.5" font-size="9.5" fill="#000" stroke="#000" stroke-width="0.15" text-anchor="start" textLength="32.5" lengthAdjust="spacingAndGlyphs" xml:space="preserve">148.060</text>
<rect x="1876" y="214" width="2" height="1" fill="#000"/>
<text x="1881.5" y="217.5" font-size="9.5" fill="#000" stroke="#000" stroke-width="0.15" text-anchor="start" textLength="32.5" lengthAdjust="spacingAndGlyphs" xml:space="preserve">147.720</text>
<rect x="1876" y="247" width="2" height="1" fill="#000"/>
<text x="1881.5" y="250.5" font-size="9.5" fill="#000" stroke="#000" stroke-width="0.15" text-anchor="start" textLength="32.5" lengthAdjust="spacingAndGlyphs" xml:space="preserve">147.380</text>
<rect x="1876" y="280" width="2" height="1" fill="#000"/>
<text x="1881.5" y="283.5" font-size="9.5" fill="#000" stroke="#000" stroke-width="0.15" text-anchor="start" textLength="32.5" lengthAdjust="spacingAndGlyphs" xml:space="preserve">147.040</text>
<rect x="1876" y="313" width="2" height="1" fill="#000"/>
<text x="1881.5" y="316.5" font-size="9.5" fill="#000" stroke="#000" stroke-width="0.15" text-anchor="start" textLength="32.5" lengthAdjust="spacingAndGlyphs" xml:space="preserve">146.700</text>
<rect x="1876" y="346" width="2" height="1" fill="#000"/>
<text x="1881.5" y="349.5" font-size="9.5" fill="#000" stroke="#000" stroke-width="0.15" text-anchor="start" textLength="32.5" lengthAdjust="spacingAndGlyphs" xml:space="preserve">146.360</text>
<rect x="1876" y="379" width="2" height="1" fill="#000"/>
<text x="1881.5" y="382.5" font-size="9.5" fill="#000" stroke="#000" stroke-width="0.15" text-anchor="start" textLength="32.5" lengthAdjust="spacingAndGlyphs" xml:space="preserve">146.020</text>
<rect x="1876" y="412" width="2" height="1" fill="#000"/>
<text x="1881.5" y="415.5" font-size="9.5" fill="#000" stroke="#000" stroke-width="0.15" text-anchor="start" textLength="32.5" lengthAdjust="spacingAndGlyphs" xml:space="preserve">145.680</text>
<rect x="1876" y="445" width="2" height="1" fill="#000"/>
<text x="1881.5" y="448.5" font-size="9.5" fill="#000" stroke="#000" stroke-width="0.15" text-anchor="start" textLength="32.5" lengthAdjust="spacingAndGlyphs" xml:space="preserve">145.340</text>
<rect x="1876" y="478" width="2" height="1" fill="#000"/>
<text x="1881.5" y="481.5" font-size="9.5" fill="#000" stroke="#000" stroke-width="0.15" text-anchor="start" textLength="32.5" lengthAdjust="spacingAndGlyphs" xml:space="preserve">145.000</text>
<rect x="1876" y="511" width="2" height="1" fill="#000"/>
<text x="1881.5" y="514.5" font-size="9.5" fill="#000" stroke="#000" stroke-width="0.15" text-anchor="start" textLength="32.5" lengthAdjust="spacingAndGlyphs" xml:space="preserve">144.660</text>
<rect x="1876" y="545" width="2" height="1" fill="#000"/>
<text x="1881.5" y="548.5" font-size="9.5" fill="#000" stroke="#000" stroke-width="0.15" text-anchor="start" textLength="32.5" lengthAdjust="spacingAndGlyphs" xml:space="preserve">144.320</text>
<rect x="1876" y="578" width="2" height="1" fill="#000"/>
<text x="1881.5" y="581.5" font-size="9.5" fill="#000" stroke="#000" stroke-width="0.15" text-anchor="start" textLength="32.5" lengthAdjust="spacingAndGlyphs" xml:space="preserve">143.980</text>
<rect x="1876" y="611" width="2" height="1" fill="#000"/>
<text x="1881.5" y="614.5" font-size="9.5" fill="#000" stroke="#000" stroke-width="0.15" text-anchor="start" textLength="32.5" lengthAdjust="spacingAndGlyphs" xml:space="preserve">143.640</text>
<rect x="1876" y="644" width="2" height="1" fill="#000"/>
<text x="1881.5" y="647.5" font-size="9.5" fill="#000" stroke="#000" stroke-width="0.15" text-anchor="start" textLength="32.5" lengthAdjust="spacingAndGlyphs" xml:space="preserve">143.300</text>
<rect x="1876" y="677" width="2" height="1" fill="#000"/>
<text x="1881.5" y="680.5" font-size="9.5" fill="#000" stroke="#000" stroke-width="0.15" text-anchor="start" textLength="32.5" lengthAdjust="spacingAndGlyphs" xml:space="preserve">142.960</text>
<rect x="1876" y="709" width="2" height="1" fill="#000"/>
<text x="1881.5" y="712.5" font-size="9.5" fill="#000" stroke="#000" stroke-width="0.15" text-anchor="start" textLength="32.5" lengthAdjust="spacingAndGlyphs" xml:space="preserve">142.630</text>
<rect x="1877" y="421" width="41" height="11" fill="#000"/>
<text x="1881.5" y="430" font-size="9.5" fill="#fff" stroke="#fff" stroke-width="0.15" text-anchor="start" textLength="32.5" lengthAdjust="spacingAndGlyphs" xml:space="preserve">145.539</text>
<path d="M8,11 L15,11 L11.5,15 Z" fill="#000"/>
<text x="20.5" y="16" font-size="9.5" fill="#000" stroke="#000" stroke-width="0.15" text-anchor="start" textLength="196.5" lengthAdjust="spacingAndGlyphs" xml:space="preserve">GBPJPY,H4  145.562 145.579 145.522 145.539</text>
<line x1="6" y1="739.5" x2="1875" y2="739.5" stroke="#c0c0c0" stroke-dasharray="3 3"/>
<line x1="6" y1="810.5" x2="1875" y2="810.5" stroke="#c0c0c0" stroke-dasharray="3 3"/>
<path d="M1084 721h1v1h-1zM1088 721h1v1h-1zM1082 722h2v1h-2zM1089 722h2v1h-2zM1094 723h2v1h-2zM921 724h2v1h-2zM926 724h3v1h-3zM932 724h3v1h-3zM945 724h2v1h-2zM950 724h3v1h-3zM956 724h3v1h-3zM1010 724h3v1h-3zM1016 724h1v1h-1zM1034 724h3v1h-3zM1040 724h1v1h-1zM1077 724h2v1h-2zM1096 724h1v1h-1zM920 725h1v1h-1zM938 725h3v1h-3zM944 725h1v1h-1zM962 725h1v1h-1zM1004 725h3v1h-3zM1017 725h2v1h-2zM1022 725h3v1h-3zM1028 725h3v1h-3zM1041 725h2v1h-2zM1046 725h1v1h-1zM1076 725h1v1h-1zM1124 725h3v1h-3zM1130 725h3v1h-3zM1136 725h3v1h-3zM1142 725h1v1h-1zM916 726h1v1h-1zM963 726h2v1h-2zM1047 726h2v1h-2zM1100 726h3v1h-3zM1106 726h3v1h-3zM1112 726h1v1h-1zM1119 726h2v1h-2zM1143 726h2v1h-2zM915 727h1v1h-1zM999 727h2v1h-2zM1072 727h1v1h-1zM1113 727h2v1h-2zM1118 727h1v1h-1zM914 728h1v1h-1zM968 728h2v1h-2zM998 728h1v1h-1zM1052 728h3v1h-3zM1070 728h2v1h-2zM1148 728h2v1h-2zM970 729h1v1h-1zM993 729h2v1h-2zM1150 729h1v1h-1zM974 730h1v1h-1zM992 730h1v1h-1zM1058 730h2v1h-2zM1064 730h3v1h-3zM29 731h1v1h-1zM910 731h1v1h-1zM975 731h2v1h-2zM986 731h3v1h-3zM1060 731h1v1h-1zM1154 731h1v1h-1zM1853 731h1v1h-1zM28 732h1v1h-1zM30 732h1v1h-1zM909 732h1v1h-1zM980 732h3v1h-3zM1155 732h2v1h-2zM908 733h1v1h-1zM1848 733h2v1h-2zM24 734h1v1h-1zM1847 734h1v1h-1zM22 735h2v1h-2zM1160 735h1v1h-1zM33 736h1v1h-1zM1161 736h1v1h-1zM16 737h3v1h-3zM34 737h1v1h-1zM906 737h1v1h-1zM1162 737h1v1h-1zM1843 737h1v1h-1zM12 738h1v1h-1zM35 738h1v1h-1zM813 738h2v1h-2zM905 738h1v1h-1zM1842 738h1v1h-1zM10 739h2v1h-2zM812 739h1v1h-1zM818 739h1v1h-1zM904 739h1v1h-1zM1841 739h1v1h-1zM819 740h2v1h-2zM1166 740h1v1h-1zM5 741h2v1h-2zM1167 741h2v1h-2zM38 742h1v1h-1zM366 742h3v1h-3zM38 743h1v1h-1zM372 743h2v1h-2zM810 743h1v1h-1zM823 743h1v1h-1zM902 743h1v1h-1zM1755 743h2v1h-2zM1838 743h1v1h-1zM39 744h1v1h-1zM362 744h1v1h-1zM374 744h1v1h-1zM809 744h1v1h-1zM824 744h1v1h-1zM901 744h1v1h-1zM1172 744h1v1h-1zM1754 744h1v1h-1zM1837 744h1v1h-1zM361 745h1v1h-1zM808 745h1v1h-1zM824 745h1v1h-1zM900 745h1v1h-1zM1173 745h1v1h-1zM1748 745h3v1h-3zM1837 745h1v1h-1zM360 746h1v1h-1zM1174 746h1v1h-1zM1760 746h1v1h-1zM1743 747h2v1h-2zM1761 747h1v1h-1zM41 748h1v1h-1zM377 748h1v1h-1zM1742 748h1v1h-1zM1762 748h1v1h-1zM41 749h1v1h-1zM356 749h1v1h-1zM378 749h1v1h-1zM806 749h1v1h-1zM827 749h1v1h-1zM898 749h1v1h-1zM1658 749h3v1h-3zM1835 749h1v1h-1zM42 750h1v1h-1zM154 750h3v1h-3zM356 750h1v1h-1zM379 750h1v1h-1zM805 750h1v1h-1zM828 750h1v1h-1zM898 750h1v1h-1zM1176 750h1v1h-1zM1653 750h2v1h-2zM1834 750h1v1h-1zM149 751h2v1h-2zM355 751h1v1h-1zM804 751h1v1h-1zM828 751h1v1h-1zM897 751h1v1h-1zM1176 751h1v1h-1zM1334 751h1v1h-1zM1652 751h1v1h-1zM1664 751h2v1h-2zM1739 751h1v1h-1zM1834 751h1v1h-1zM148 752h1v1h-1zM160 752h1v1h-1zM1177 752h1v1h-1zM1329 752h2v1h-2zM1335 752h2v1h-2zM1666 752h1v1h-1zM1738 752h1v1h-1zM1766 752h1v1h-1zM161 753h1v1h-1zM1328 753h1v1h-1zM1340 753h2v1h-2zM1648 753h1v1h-1zM1737 753h1v1h-1zM1767 753h1v1h-1zM44 754h1v1h-1zM144 754h1v1h-1zM162 754h1v1h-1zM382 754h1v1h-1zM1342 754h1v1h-1zM1646 754h2v1h-2zM1670 754h1v1h-1zM1768 754h1v1h-1zM44 755h1v1h-1zM142 755h2v1h-2zM352 755h1v1h-1zM382 755h1v1h-1zM802 755h1v1h-1zM831 755h1v1h-1zM895 755h1v1h-1zM1323 755h2v1h-2zM1670 755h1v1h-1zM1832 755h1v1h-1zM45 756h1v1h-1zM351 756h1v1h-1zM383 756h1v1h-1zM801 756h1v1h-1zM831 756h1v1h-1zM865 756h2v1h-2zM870 756h2v1h-2zM894 756h1v1h-1zM1179 756h1v1h-1zM1322 756h1v1h-1zM1671 756h1v1h-1zM1832 756h1v1h-1zM166 757h1v1h-1zM350 757h1v1h-1zM801 757h1v1h-1zM832 757h1v1h-1zM864 757h1v1h-1zM872 757h1v1h-1zM894 757h1v1h-1zM1180 757h1v1h-1zM1346 757h1v1h-1zM1734 757h1v1h-1zM1772 757h1v1h-1zM1831 757h1v1h-1zM166 758h1v1h-1zM1180 758h1v1h-1zM1318 758h1v1h-1zM1347 758h1v1h-1zM1642 758h1v1h-1zM1734 758h1v1h-1zM1773 758h1v1h-1zM137 759h2v1h-2zM167 759h1v1h-1zM860 759h1v1h-1zM876 759h2v1h-2zM1317 759h1v1h-1zM1348 759h1v1h-1zM1641 759h1v1h-1zM1733 759h1v1h-1zM1774 759h1v1h-1zM46 760h1v1h-1zM136 760h1v1h-1zM385 760h1v1h-1zM859 760h1v1h-1zM878 760h1v1h-1zM889 760h2v1h-2zM1316 760h1v1h-1zM1641 760h1v1h-1zM1674 760h1v1h-1zM46 761h1v1h-1zM348 761h1v1h-1zM386 761h1v1h-1zM798 761h1v1h-1zM834 761h1v1h-1zM859 761h1v1h-1zM888 761h1v1h-1zM1675 761h1v1h-1zM1829 761h1v1h-1zM46 762h1v1h-1zM347 762h1v1h-1zM387 762h1v1h-1zM798 762h1v1h-1zM834 762h1v1h-1zM882 762h2v1h-2zM1182 762h1v1h-1zM1676 762h1v1h-1zM1829 762h1v1h-1zM170 763h1v1h-1zM347 763h1v1h-1zM520 763h1v1h-1zM797 763h1v1h-1zM835 763h1v1h-1zM884 763h1v1h-1zM1183 763h1v1h-1zM1352 763h1v1h-1zM1731 763h1v1h-1zM1776 763h1v1h-1zM1828 763h1v1h-1zM132 764h1v1h-1zM171 764h1v1h-1zM515 764h2v1h-2zM521 764h2v1h-2zM1183 764h1v1h-1zM1314 764h1v1h-1zM1353 764h2v1h-2zM1637 764h1v1h-1zM1730 764h1v1h-1zM1777 764h1v1h-1zM131 765h1v1h-1zM172 765h1v1h-1zM514 765h1v1h-1zM526 765h1v1h-1zM855 765h1v1h-1zM1313 765h1v1h-1zM1636 765h1v1h-1zM1730 765h1v1h-1zM1778 765h1v1h-1zM48 766h1v1h-1zM130 766h1v1h-1zM389 766h1v1h-1zM527 766h1v1h-1zM855 766h1v1h-1zM1313 766h1v1h-1zM1635 766h1v1h-1zM1678 766h1v1h-1zM48 767h1v1h-1zM344 767h1v1h-1zM390 767h1v1h-1zM528 767h1v1h-1zM794 767h1v1h-1zM837 767h1v1h-1zM854 767h1v1h-1zM1678 767h1v1h-1zM1826 767h1v1h-1zM48 768h1v1h-1zM344 768h1v1h-1zM391 768h1v1h-1zM510 768h1v1h-1zM793 768h1v1h-1zM837 768h1v1h-1zM1185 768h1v1h-1zM1358 768h2v1h-2zM1679 768h1v1h-1zM1825 768h1v1h-1zM126 769h1v1h-1zM175 769h1v1h-1zM343 769h1v1h-1zM509 769h1v1h-1zM792 769h1v1h-1zM838 769h1v1h-1zM850 769h1v1h-1zM1185 769h1v1h-1zM1360 769h1v1h-1zM1371 769h2v1h-2zM1727 769h1v1h-1zM1780 769h1v1h-1zM1825 769h1v1h-1zM125 770h1v1h-1zM176 770h1v1h-1zM508 770h1v1h-1zM848 770h2v1h-2zM1186 770h1v1h-1zM1310 770h1v1h-1zM1370 770h1v1h-1zM1631 770h1v1h-1zM1727 770h1v1h-1zM1781 770h1v1h-1zM124 771h1v1h-1zM177 771h1v1h-1zM531 771h1v1h-1zM842 771h2v1h-2zM1310 771h1v1h-1zM1364 771h3v1h-3zM1376 771h1v1h-1zM1630 771h1v1h-1zM1726 771h1v1h-1zM1782 771h1v1h-1zM49 772h1v1h-1zM395 772h1v1h-1zM532 772h1v1h-1zM844 772h1v1h-1zM1309 772h1v1h-1zM1377 772h1v1h-1zM1629 772h1v1h-1zM1681 772h1v1h-1zM50 773h1v1h-1zM341 773h1v1h-1zM396 773h1v1h-1zM533 773h1v1h-1zM789 773h1v1h-1zM1378 773h1v1h-1zM1681 773h1v1h-1zM1822 773h1v1h-1zM50 774h1v1h-1zM340 774h1v1h-1zM397 774h1v1h-1zM401 774h3v1h-3zM407 774h3v1h-3zM413 774h1v1h-1zM504 774h1v1h-1zM787 774h2v1h-2zM1187 774h1v1h-1zM1681 774h1v1h-1zM1786 774h1v1h-1zM1822 774h1v1h-1zM121 775h1v1h-1zM181 775h2v1h-2zM205 775h3v1h-3zM217 775h3v1h-3zM223 775h2v1h-2zM340 775h1v1h-1zM414 775h2v1h-2zM503 775h1v1h-1zM1188 775h1v1h-1zM1724 775h1v1h-1zM1787 775h2v1h-2zM1821 775h1v1h-1zM120 776h1v1h-1zM183 776h1v1h-1zM199 776h3v1h-3zM211 776h3v1h-3zM225 776h1v1h-1zM229 776h2v1h-2zM502 776h1v1h-1zM1188 776h1v1h-1zM1307 776h1v1h-1zM1382 776h1v1h-1zM1625 776h1v1h-1zM1724 776h1v1h-1zM119 777h1v1h-1zM187 777h1v1h-1zM193 777h3v1h-3zM231 777h1v1h-1zM535 777h1v1h-1zM782 777h2v1h-2zM1306 777h1v1h-1zM1382 777h1v1h-1zM1624 777h1v1h-1zM1723 777h1v1h-1zM51 778h1v1h-1zM188 778h2v1h-2zM235 778h1v1h-1zM419 778h2v1h-2zM536 778h1v1h-1zM781 778h1v1h-1zM1306 778h1v1h-1zM1383 778h1v1h-1zM1623 778h1v1h-1zM1683 778h1v1h-1zM52 779h1v1h-1zM236 779h2v1h-2zM338 779h1v1h-1zM421 779h1v1h-1zM536 779h1v1h-1zM1684 779h1v1h-1zM1792 779h1v1h-1zM1817 779h1v1h-1zM52 780h1v1h-1zM337 780h1v1h-1zM499 780h1v1h-1zM1190 780h1v1h-1zM1684 780h1v1h-1zM1793 780h2v1h-2zM1817 780h1v1h-1zM116 781h1v1h-1zM337 781h1v1h-1zM498 781h1v1h-1zM777 781h1v1h-1zM1191 781h1v1h-1zM1619 781h1v1h-1zM1721 781h1v1h-1zM1816 781h1v1h-1zM116 782h1v1h-1zM498 782h1v1h-1zM776 782h1v1h-1zM1191 782h1v1h-1zM1304 782h1v1h-1zM1385 782h1v1h-1zM1617 782h2v1h-2zM1721 782h1v1h-1zM115 783h1v1h-1zM239 783h1v1h-1zM425 783h1v1h-1zM538 783h1v1h-1zM775 783h1v1h-1zM1303 783h1v1h-1zM1386 783h1v1h-1zM1720 783h1v1h-1zM1798 783h3v1h-3zM1804 783h3v1h-3zM53 784h1v1h-1zM240 784h1v1h-1zM426 784h1v1h-1zM539 784h1v1h-1zM1303 784h1v1h-1zM1386 784h1v1h-1zM1686 784h1v1h-1zM1810 784h3v1h-3zM53 785h1v1h-1zM241 785h1v1h-1zM335 785h1v1h-1zM427 785h1v1h-1zM539 785h1v1h-1zM1613 785h1v1h-1zM1687 785h1v1h-1zM54 786h1v1h-1zM334 786h1v1h-1zM495 786h1v1h-1zM771 786h1v1h-1zM1193 786h1v1h-1zM1611 786h2v1h-2zM1687 786h1v1h-1zM112 787h1v1h-1zM334 787h1v1h-1zM494 787h1v1h-1zM769 787h2v1h-2zM1194 787h1v1h-1zM1718 787h1v1h-1zM111 788h1v1h-1zM494 788h1v1h-1zM1194 788h1v1h-1zM1301 788h1v1h-1zM1388 788h1v1h-1zM1718 788h1v1h-1zM110 789h1v1h-1zM243 789h1v1h-1zM430 789h1v1h-1zM541 789h1v1h-1zM1300 789h1v1h-1zM1389 789h1v1h-1zM1606 789h2v1h-2zM1717 789h1v1h-1zM55 790h1v1h-1zM244 790h1v1h-1zM431 790h1v1h-1zM542 790h1v1h-1zM764 790h2v1h-2zM1300 790h1v1h-1zM1389 790h1v1h-1zM1605 790h1v1h-1zM1689 790h1v1h-1zM56 791h1v1h-1zM244 791h1v1h-1zM331 791h1v1h-1zM432 791h1v1h-1zM542 791h1v1h-1zM763 791h1v1h-1zM1690 791h1v1h-1zM56 792h1v1h-1zM330 792h1v1h-1zM491 792h1v1h-1zM1196 792h1v1h-1zM1601 792h1v1h-1zM1690 792h1v1h-1zM107 793h1v1h-1zM329 793h1v1h-1zM490 793h1v1h-1zM758 793h2v1h-2zM1197 793h1v1h-1zM1600 793h1v1h-1zM1714 793h1v1h-1zM106 794h1v1h-1zM489 794h1v1h-1zM757 794h1v1h-1zM1197 794h1v1h-1zM1298 794h1v1h-1zM1391 794h1v1h-1zM1599 794h1v1h-1zM1714 794h1v1h-1zM105 795h1v1h-1zM247 795h1v1h-1zM435 795h1v1h-1zM545 795h1v1h-1zM1297 795h1v1h-1zM1391 795h1v1h-1zM1521 795h3v1h-3zM1527 795h1v1h-1zM1713 795h1v1h-1zM57 796h1v1h-1zM247 796h1v1h-1zM436 796h1v1h-1zM546 796h1v1h-1zM753 796h1v1h-1zM1297 796h1v1h-1zM1392 796h1v1h-1zM1528 796h2v1h-2zM1594 796h2v1h-2zM1692 796h1v1h-1zM58 797h1v1h-1zM248 797h1v1h-1zM326 797h1v1h-1zM436 797h1v1h-1zM546 797h1v1h-1zM752 797h1v1h-1zM1517 797h1v1h-1zM1593 797h1v1h-1zM1693 797h1v1h-1zM58 798h1v1h-1zM326 798h1v1h-1zM486 798h1v1h-1zM609 798h3v1h-3zM751 798h1v1h-1zM1200 798h1v1h-1zM1516 798h1v1h-1zM1533 798h1v1h-1zM1693 798h1v1h-1zM99 799h3v1h-3zM325 799h1v1h-1zM485 799h1v1h-1zM605 799h1v1h-1zM615 799h2v1h-2zM1201 799h1v1h-1zM1515 799h1v1h-1zM1534 799h1v1h-1zM1588 799h2v1h-2zM1710 799h1v1h-1zM95 800h1v1h-1zM484 800h1v1h-1zM603 800h2v1h-2zM617 800h1v1h-1zM1201 800h1v1h-1zM1295 800h1v1h-1zM1393 800h1v1h-1zM1535 800h1v1h-1zM1587 800h1v1h-1zM1710 800h1v1h-1zM93 801h2v1h-2zM251 801h1v1h-1zM439 801h1v1h-1zM549 801h1v1h-1zM621 801h1v1h-1zM747 801h1v1h-1zM1294 801h1v1h-1zM1393 801h1v1h-1zM1709 801h1v1h-1zM60 802h1v1h-1zM87 802h3v1h-3zM251 802h1v1h-1zM321 802h1v1h-1zM440 802h1v1h-1zM550 802h1v1h-1zM622 802h1v1h-1zM745 802h2v1h-2zM1294 802h1v1h-1zM1394 802h1v1h-1zM1511 802h1v1h-1zM1582 802h2v1h-2zM1697 802h2v1h-2zM60 803h1v1h-1zM83 803h1v1h-1zM252 803h1v1h-1zM319 803h2v1h-2zM441 803h1v1h-1zM551 803h1v1h-1zM598 803h2v1h-2zM623 803h1v1h-1zM1510 803h1v1h-1zM1581 803h1v1h-1zM1699 803h1v1h-1zM1704 803h2v1h-2zM60 804h1v1h-1zM81 804h2v1h-2zM481 804h1v1h-1zM597 804h1v1h-1zM680 804h1v1h-1zM1204 804h1v1h-1zM1509 804h1v1h-1zM1539 804h1v1h-1zM1703 804h1v1h-1zM77 805h1v1h-1zM480 805h1v1h-1zM676 805h1v1h-1zM681 805h2v1h-2zM1205 805h1v1h-1zM1540 805h1v1h-1zM1577 805h1v1h-1zM76 806h1v1h-1zM313 806h3v1h-3zM479 806h1v1h-1zM593 806h1v1h-1zM675 806h1v1h-1zM686 806h1v1h-1zM741 806h1v1h-1zM1206 806h1v1h-1zM1292 806h1v1h-1zM1395 806h1v1h-1zM1541 806h1v1h-1zM1576 806h1v1h-1zM75 807h1v1h-1zM255 807h1v1h-1zM444 807h1v1h-1zM555 807h1v1h-1zM592 807h1v1h-1zM626 807h1v1h-1zM674 807h1v1h-1zM687 807h1v1h-1zM740 807h1v1h-1zM1291 807h1v1h-1zM1396 807h1v1h-1zM1505 807h1v1h-1zM1575 807h1v1h-1zM63 808h1v1h-1zM255 808h1v1h-1zM308 808h2v1h-2zM445 808h1v1h-1zM556 808h1v1h-1zM591 808h1v1h-1zM627 808h1v1h-1zM688 808h1v1h-1zM739 808h1v1h-1zM1210 808h1v1h-1zM1291 808h1v1h-1zM1396 808h1v1h-1zM1503 808h2v1h-2zM64 809h1v1h-1zM256 809h1v1h-1zM307 809h1v1h-1zM446 809h1v1h-1zM475 809h1v1h-1zM557 809h1v1h-1zM628 809h1v1h-1zM1211 809h2v1h-2zM1545 809h1v1h-1zM1571 809h1v1h-1zM65 810h1v1h-1zM474 810h1v1h-1zM587 810h1v1h-1zM670 810h1v1h-1zM1437 810h3v1h-3zM1443 810h3v1h-3zM1546 810h1v1h-1zM1569 810h2v1h-2zM71 811h1v1h-1zM302 811h2v1h-2zM473 811h1v1h-1zM561 811h1v1h-1zM585 811h2v1h-2zM669 811h1v1h-1zM1433 811h1v1h-1zM1449 811h2v1h-2zM1497 811h3v1h-3zM1547 811h1v1h-1zM70 812h1v1h-1zM301 812h1v1h-1zM562 812h2v1h-2zM668 812h1v1h-1zM692 812h1v1h-1zM735 812h1v1h-1zM1216 812h1v1h-1zM1288 812h1v1h-1zM1398 812h1v1h-1zM1431 812h2v1h-2zM1451 812h1v1h-1zM69 813h1v1h-1zM259 813h1v1h-1zM449 813h1v1h-1zM632 813h1v1h-1zM693 813h1v1h-1zM734 813h1v1h-1zM1217 813h1v1h-1zM1287 813h1v1h-1zM1398 813h1v1h-1zM1455 813h1v1h-1zM1492 813h2v1h-2zM1551 813h2v1h-2zM1563 813h3v1h-3zM260 814h1v1h-1zM450 814h1v1h-1zM468 814h2v1h-2zM567 814h2v1h-2zM579 814h3v1h-3zM633 814h2v1h-2zM694 814h1v1h-1zM733 814h1v1h-1zM1218 814h1v1h-1zM1287 814h1v1h-1zM1399 814h1v1h-1zM1426 814h2v1h-2zM1456 814h2v1h-2zM1491 814h1v1h-1zM1553 814h1v1h-1zM1559 814h1v1h-1zM261 815h1v1h-1zM297 815h1v1h-1zM451 815h1v1h-1zM467 815h1v1h-1zM569 815h1v1h-1zM575 815h1v1h-1zM1425 815h1v1h-1zM1557 815h2v1h-2zM295 816h2v1h-2zM573 816h2v1h-2zM664 816h1v1h-1zM1222 816h1v1h-1zM1461 816h2v1h-2zM1486 816h2v1h-2zM265 817h3v1h-3zM455 817h2v1h-2zM462 817h2v1h-2zM663 817h1v1h-1zM729 817h1v1h-1zM1223 817h2v1h-2zM1284 817h1v1h-1zM1421 817h1v1h-1zM1463 817h1v1h-1zM1485 817h1v1h-1zM457 818h1v1h-1zM461 818h1v1h-1zM638 818h1v1h-1zM662 818h1v1h-1zM697 818h1v1h-1zM728 818h1v1h-1zM1282 818h2v1h-2zM1402 818h1v1h-1zM1420 818h1v1h-1zM1467 818h1v1h-1zM1479 818h3v1h-3zM271 819h1v1h-1zM289 819h3v1h-3zM639 819h2v1h-2zM698 819h1v1h-1zM727 819h1v1h-1zM1228 819h3v1h-3zM1259 819h2v1h-2zM1403 819h1v1h-1zM1419 819h1v1h-1zM1468 819h2v1h-2zM1473 819h3v1h-3zM272 820h2v1h-2zM658 820h1v1h-1zM699 820h1v1h-1zM1258 820h1v1h-1zM1264 820h3v1h-3zM1278 820h1v1h-1zM1404 820h1v1h-1zM283 821h3v1h-3zM656 821h2v1h-2zM1234 821h2v1h-2zM1252 821h3v1h-3zM1270 821h3v1h-3zM1276 821h2v1h-2zM277 822h3v1h-3zM644 822h1v1h-1zM722 822h2v1h-2zM1236 822h1v1h-1zM1240 822h3v1h-3zM1246 822h3v1h-3zM1415 822h1v1h-1zM645 823h2v1h-2zM650 823h3v1h-3zM703 823h1v1h-1zM721 823h1v1h-1zM1407 823h3v1h-3zM1414 823h1v1h-1zM704 824h2v1h-2zM1413 824h1v1h-1zM715 825h3v1h-3zM709 826h3v1h-3z" fill="#ff0000"/>
<path d="M1077 717h1v1h-1zM1075 718h2v1h-2zM1078 718h1v1h-1zM1073 719h2v1h-2zM1079 719h1v1h-1zM1072 720h1v1h-1zM1080 720h1v1h-1zM1070 721h2v1h-2zM1081 721h2v1h-2zM916 722h3v1h-3zM1036 722h2v1h-2zM1069 722h1v1h-1zM1083 722h1v1h-1zM913 723h3v1h-3zM919 723h2v1h-2zM947 723h4v1h-4zM1003 723h4v1h-4zM1033 723h3v1h-3zM1038 723h1v1h-1zM1068 723h1v1h-1zM1084 723h1v1h-1zM1131 723h3v1h-3zM911 724h2v1h-2zM921 724h3v1h-3zM943 724h4v1h-4zM951 724h4v1h-4zM999 724h4v1h-4zM1007 724h4v1h-4zM1031 724h2v1h-2zM1039 724h1v1h-1zM1067 724h1v1h-1zM1085 724h2v1h-2zM1127 724h4v1h-4zM1134 724h2v1h-2zM907 725h4v1h-4zM924 725h19v1h-19zM955 725h3v1h-3zM996 725h3v1h-3zM1011 725h6v1h-6zM1025 725h6v1h-6zM1040 725h1v1h-1zM1067 725h1v1h-1zM1087 725h4v1h-4zM1108 725h5v1h-5zM1121 725h6v1h-6zM1136 725h2v1h-2zM903 726h4v1h-4zM958 726h1v1h-1zM993 726h3v1h-3zM1017 726h8v1h-8zM1041 726h2v1h-2zM1066 726h1v1h-1zM1091 726h4v1h-4zM1106 726h2v1h-2zM1113 726h8v1h-8zM1138 726h2v1h-2zM901 727h2v1h-2zM959 727h2v1h-2zM991 727h2v1h-2zM1043 727h1v1h-1zM1065 727h1v1h-1zM1095 727h2v1h-2zM1104 727h2v1h-2zM1140 727h2v1h-2zM1837 727h1v1h-1zM28 728h2v1h-2zM901 728h1v1h-1zM961 728h1v1h-1zM988 728h3v1h-3zM1044 728h1v1h-1zM1064 728h1v1h-1zM1097 728h3v1h-3zM1102 728h2v1h-2zM1142 728h1v1h-1zM1837 728h3v1h-3zM26 729h2v1h-2zM29 729h1v1h-1zM900 729h1v1h-1zM962 729h1v1h-1zM986 729h2v1h-2zM1045 729h1v1h-1zM1063 729h1v1h-1zM1100 729h2v1h-2zM1143 729h1v1h-1zM1836 729h1v1h-1zM1840 729h2v1h-2zM24 730h2v1h-2zM30 730h1v1h-1zM900 730h1v1h-1zM963 730h2v1h-2zM984 730h2v1h-2zM1046 730h2v1h-2zM1063 730h1v1h-1zM1144 730h1v1h-1zM1836 730h1v1h-1zM1842 730h2v1h-2zM22 731h2v1h-2zM30 731h1v1h-1zM805 731h9v1h-9zM899 731h1v1h-1zM965 731h2v1h-2zM982 731h2v1h-2zM1048 731h2v1h-2zM1062 731h1v1h-1zM1145 731h1v1h-1zM1835 731h1v1h-1zM1844 731h2v1h-2zM17 732h5v1h-5zM30 732h1v1h-1zM805 732h1v1h-1zM813 732h1v1h-1zM899 732h1v1h-1zM967 732h2v1h-2zM979 732h3v1h-3zM1050 732h2v1h-2zM1057 732h5v1h-5zM1146 732h1v1h-1zM1835 732h1v1h-1zM1846 732h2v1h-2zM13 733h4v1h-4zM30 733h1v1h-1zM804 733h1v1h-1zM814 733h1v1h-1zM898 733h1v1h-1zM969 733h3v1h-3zM975 733h4v1h-4zM1052 733h5v1h-5zM1147 733h1v1h-1zM1834 733h1v1h-1zM1848 733h1v1h-1zM12 734h1v1h-1zM31 734h1v1h-1zM804 734h1v1h-1zM814 734h1v1h-1zM898 734h1v1h-1zM972 734h3v1h-3zM1148 734h1v1h-1zM1834 734h1v1h-1zM1849 734h2v1h-2zM11 735h1v1h-1zM31 735h1v1h-1zM803 735h1v1h-1zM814 735h1v1h-1zM897 735h1v1h-1zM1149 735h1v1h-1zM1834 735h1v1h-1zM1851 735h2v1h-2zM10 736h1v1h-1zM31 736h1v1h-1zM803 736h1v1h-1zM815 736h1v1h-1zM897 736h1v1h-1zM1150 736h2v1h-2zM1833 736h1v1h-1zM1853 736h1v1h-1zM9 737h1v1h-1zM31 737h1v1h-1zM803 737h1v1h-1zM815 737h1v1h-1zM896 737h1v1h-1zM1152 737h2v1h-2zM1833 737h1v1h-1zM8 738h1v1h-1zM32 738h1v1h-1zM802 738h1v1h-1zM815 738h1v1h-1zM896 738h1v1h-1zM1154 738h2v1h-2zM1832 738h1v1h-1zM7 739h1v1h-1zM32 739h1v1h-1zM361 739h5v1h-5zM802 739h1v1h-1zM815 739h1v1h-1zM895 739h1v1h-1zM1156 739h2v1h-2zM1832 739h1v1h-1zM6 740h1v1h-1zM32 740h1v1h-1zM357 740h4v1h-4zM366 740h1v1h-1zM801 740h1v1h-1zM816 740h1v1h-1zM895 740h1v1h-1zM1158 740h2v1h-2zM1741 740h1v1h-1zM1832 740h1v1h-1zM5 741h1v1h-1zM32 741h1v1h-1zM356 741h1v1h-1zM366 741h1v1h-1zM801 741h1v1h-1zM816 741h1v1h-1zM894 741h1v1h-1zM1160 741h1v1h-1zM1740 741h1v1h-1zM1742 741h1v1h-1zM1831 741h1v1h-1zM33 742h1v1h-1zM355 742h1v1h-1zM367 742h1v1h-1zM801 742h1v1h-1zM816 742h1v1h-1zM894 742h1v1h-1zM1161 742h2v1h-2zM1739 742h1v1h-1zM1743 742h2v1h-2zM1831 742h1v1h-1zM33 743h1v1h-1zM354 743h1v1h-1zM368 743h1v1h-1zM800 743h1v1h-1zM817 743h1v1h-1zM893 743h1v1h-1zM1163 743h2v1h-2zM1738 743h1v1h-1zM1745 743h1v1h-1zM1830 743h1v1h-1zM33 744h1v1h-1zM353 744h1v1h-1zM369 744h1v1h-1zM800 744h1v1h-1zM817 744h1v1h-1zM893 744h1v1h-1zM1165 744h1v1h-1zM1737 744h1v1h-1zM1746 744h1v1h-1zM1755 744h3v1h-3zM1830 744h1v1h-1zM34 745h1v1h-1zM149 745h1v1h-1zM353 745h1v1h-1zM369 745h1v1h-1zM799 745h1v1h-1zM817 745h1v1h-1zM893 745h1v1h-1zM1166 745h1v1h-1zM1736 745h1v1h-1zM1747 745h2v1h-2zM1751 745h4v1h-4zM1757 745h1v1h-1zM1829 745h1v1h-1zM34 746h1v1h-1zM147 746h2v1h-2zM150 746h1v1h-1zM352 746h1v1h-1zM370 746h1v1h-1zM799 746h1v1h-1zM818 746h1v1h-1zM892 746h1v1h-1zM1167 746h1v1h-1zM1735 746h1v1h-1zM1749 746h2v1h-2zM1758 746h1v1h-1zM1829 746h1v1h-1zM34 747h1v1h-1zM145 747h2v1h-2zM151 747h1v1h-1zM351 747h1v1h-1zM371 747h1v1h-1zM799 747h1v1h-1zM818 747h1v1h-1zM892 747h1v1h-1zM1168 747h1v1h-1zM1651 747h4v1h-4zM1734 747h1v1h-1zM1758 747h1v1h-1zM1828 747h1v1h-1zM34 748h1v1h-1zM144 748h1v1h-1zM152 748h1v1h-1zM350 748h1v1h-1zM372 748h1v1h-1zM798 748h1v1h-1zM818 748h1v1h-1zM891 748h1v1h-1zM1169 748h1v1h-1zM1647 748h4v1h-4zM1655 748h2v1h-2zM1733 748h1v1h-1zM1759 748h1v1h-1zM1828 748h1v1h-1zM35 749h1v1h-1zM142 749h2v1h-2zM153 749h1v1h-1zM349 749h1v1h-1zM372 749h1v1h-1zM798 749h1v1h-1zM819 749h1v1h-1zM861 749h1v1h-1zM891 749h1v1h-1zM1169 749h1v1h-1zM1645 749h2v1h-2zM1657 749h3v1h-3zM1732 749h1v1h-1zM1759 749h1v1h-1zM1827 749h1v1h-1zM35 750h1v1h-1zM141 750h1v1h-1zM153 750h1v1h-1zM348 750h1v1h-1zM373 750h1v1h-1zM797 750h1v1h-1zM819 750h1v1h-1zM860 750h1v1h-1zM862 750h1v1h-1zM890 750h1v1h-1zM1170 750h1v1h-1zM1329 750h5v1h-5zM1643 750h2v1h-2zM1660 750h2v1h-2zM1731 750h1v1h-1zM1760 750h1v1h-1zM1827 750h1v1h-1zM35 751h1v1h-1zM140 751h1v1h-1zM154 751h1v1h-1zM347 751h1v1h-1zM373 751h1v1h-1zM797 751h1v1h-1zM819 751h1v1h-1zM859 751h1v1h-1zM863 751h1v1h-1zM890 751h1v1h-1zM1171 751h1v1h-1zM1317 751h12v1h-12zM1334 751h1v1h-1zM1642 751h1v1h-1zM1662 751h1v1h-1zM1730 751h1v1h-1zM1760 751h1v1h-1zM1826 751h1v1h-1zM35 752h1v1h-1zM139 752h1v1h-1zM155 752h1v1h-1zM346 752h1v1h-1zM374 752h1v1h-1zM797 752h1v1h-1zM819 752h1v1h-1zM858 752h1v1h-1zM863 752h1v1h-1zM889 752h1v1h-1zM1172 752h1v1h-1zM1316 752h1v1h-1zM1335 752h1v1h-1zM1641 752h1v1h-1zM1662 752h1v1h-1zM1729 752h1v1h-1zM1761 752h1v1h-1zM1826 752h1v1h-1zM36 753h1v1h-1zM138 753h1v1h-1zM156 753h1v1h-1zM345 753h1v1h-1zM374 753h1v1h-1zM796 753h1v1h-1zM820 753h1v1h-1zM857 753h1v1h-1zM864 753h1v1h-1zM889 753h1v1h-1zM1173 753h1v1h-1zM1315 753h1v1h-1zM1336 753h1v1h-1zM1639 753h2v1h-2zM1663 753h1v1h-1zM1728 753h1v1h-1zM1761 753h1v1h-1zM1825 753h1v1h-1zM36 754h1v1h-1zM137 754h1v1h-1zM157 754h1v1h-1zM344 754h1v1h-1zM375 754h1v1h-1zM796 754h1v1h-1zM820 754h1v1h-1zM856 754h1v1h-1zM865 754h1v1h-1zM889 754h1v1h-1zM1173 754h1v1h-1zM1314 754h1v1h-1zM1337 754h1v1h-1zM1638 754h1v1h-1zM1664 754h1v1h-1zM1727 754h1v1h-1zM1761 754h1v1h-1zM1825 754h1v1h-1zM36 755h1v1h-1zM136 755h1v1h-1zM158 755h1v1h-1zM343 755h1v1h-1zM375 755h1v1h-1zM795 755h1v1h-1zM820 755h1v1h-1zM855 755h1v1h-1zM866 755h1v1h-1zM888 755h1v1h-1zM1174 755h1v1h-1zM1313 755h1v1h-1zM1337 755h1v1h-1zM1637 755h1v1h-1zM1665 755h1v1h-1zM1726 755h1v1h-1zM1762 755h1v1h-1zM1824 755h1v1h-1zM36 756h1v1h-1zM135 756h1v1h-1zM158 756h1v1h-1zM342 756h1v1h-1zM375 756h1v1h-1zM795 756h1v1h-1zM821 756h1v1h-1zM854 756h1v1h-1zM867 756h1v1h-1zM888 756h1v1h-1zM1174 756h1v1h-1zM1313 756h1v1h-1zM1338 756h1v1h-1zM1635 756h2v1h-2zM1665 756h1v1h-1zM1725 756h1v1h-1zM1762 756h1v1h-1zM1824 756h1v1h-1zM37 757h1v1h-1zM134 757h1v1h-1zM159 757h1v1h-1zM341 757h1v1h-1zM376 757h1v1h-1zM794 757h1v1h-1zM821 757h1v1h-1zM853 757h1v1h-1zM867 757h1v1h-1zM887 757h1v1h-1zM1174 757h1v1h-1zM1312 757h1v1h-1zM1339 757h1v1h-1zM1634 757h1v1h-1zM1666 757h1v1h-1zM1725 757h1v1h-1zM1763 757h1v1h-1zM1823 757h1v1h-1zM37 758h1v1h-1zM132 758h2v1h-2zM159 758h1v1h-1zM341 758h1v1h-1zM376 758h1v1h-1zM794 758h1v1h-1zM822 758h1v1h-1zM852 758h1v1h-1zM868 758h1v1h-1zM887 758h1v1h-1zM1175 758h1v1h-1zM1311 758h1v1h-1zM1340 758h1v1h-1zM1633 758h1v1h-1zM1667 758h1v1h-1zM1724 758h1v1h-1zM1763 758h1v1h-1zM1823 758h1v1h-1zM37 759h1v1h-1zM130 759h2v1h-2zM160 759h1v1h-1zM340 759h1v1h-1zM377 759h1v1h-1zM793 759h1v1h-1zM822 759h1v1h-1zM852 759h1v1h-1zM869 759h1v1h-1zM886 759h1v1h-1zM1175 759h1v1h-1zM1310 759h1v1h-1zM1341 759h1v1h-1zM1631 759h2v1h-2zM1668 759h1v1h-1zM1724 759h1v1h-1zM1764 759h1v1h-1zM1822 759h1v1h-1zM38 760h1v1h-1zM128 760h2v1h-2zM160 760h1v1h-1zM340 760h1v1h-1zM377 760h1v1h-1zM516 760h2v1h-2zM793 760h1v1h-1zM823 760h1v1h-1zM851 760h1v1h-1zM870 760h1v1h-1zM886 760h1v1h-1zM1175 760h1v1h-1zM1309 760h1v1h-1zM1342 760h1v1h-1zM1630 760h1v1h-1zM1668 760h1v1h-1zM1723 760h1v1h-1zM1764 760h1v1h-1zM1822 760h1v1h-1zM38 761h1v1h-1zM126 761h2v1h-2zM161 761h1v1h-1zM339 761h1v1h-1zM377 761h1v1h-1zM513 761h3v1h-3zM518 761h1v1h-1zM792 761h1v1h-1zM823 761h1v1h-1zM850 761h1v1h-1zM871 761h1v1h-1zM885 761h1v1h-1zM1175 761h1v1h-1zM1308 761h1v1h-1zM1342 761h1v1h-1zM1629 761h1v1h-1zM1669 761h1v1h-1zM1723 761h1v1h-1zM1765 761h1v1h-1zM1821 761h1v1h-1zM38 762h1v1h-1zM125 762h1v1h-1zM162 762h1v1h-1zM339 762h1v1h-1zM378 762h1v1h-1zM511 762h2v1h-2zM519 762h1v1h-1zM792 762h1v1h-1zM824 762h1v1h-1zM849 762h1v1h-1zM872 762h1v1h-1zM885 762h1v1h-1zM1176 762h1v1h-1zM1307 762h1v1h-1zM1343 762h1v1h-1zM1628 762h1v1h-1zM1669 762h1v1h-1zM1722 762h1v1h-1zM1765 762h1v1h-1zM1821 762h1v1h-1zM38 763h1v1h-1zM123 763h2v1h-2zM162 763h1v1h-1zM338 763h1v1h-1zM378 763h1v1h-1zM508 763h3v1h-3zM519 763h1v1h-1zM791 763h1v1h-1zM825 763h1v1h-1zM849 763h1v1h-1zM873 763h1v1h-1zM883 763h2v1h-2zM1176 763h1v1h-1zM1306 763h1v1h-1zM1344 763h1v1h-1zM1628 763h1v1h-1zM1670 763h1v1h-1zM1722 763h1v1h-1zM1766 763h2v1h-2zM1820 763h1v1h-1zM39 764h1v1h-1zM122 764h1v1h-1zM163 764h1v1h-1zM338 764h1v1h-1zM379 764h1v1h-1zM505 764h3v1h-3zM520 764h1v1h-1zM791 764h1v1h-1zM825 764h1v1h-1zM848 764h1v1h-1zM873 764h1v1h-1zM882 764h1v1h-1zM1176 764h1v1h-1zM1305 764h1v1h-1zM1344 764h1v1h-1zM1373 764h1v1h-1zM1627 764h1v1h-1zM1670 764h1v1h-1zM1721 764h1v1h-1zM1768 764h1v1h-1zM1820 764h1v1h-1zM39 765h1v1h-1zM121 765h1v1h-1zM163 765h1v1h-1zM337 765h1v1h-1zM379 765h1v1h-1zM503 765h2v1h-2zM521 765h1v1h-1zM790 765h1v1h-1zM826 765h1v1h-1zM847 765h1v1h-1zM874 765h1v1h-1zM881 765h1v1h-1zM1177 765h1v1h-1zM1304 765h1v1h-1zM1345 765h1v1h-1zM1372 765h2v1h-2zM1627 765h1v1h-1zM1671 765h1v1h-1zM1721 765h1v1h-1zM1769 765h2v1h-2zM1819 765h1v1h-1zM39 766h1v1h-1zM119 766h2v1h-2zM164 766h1v1h-1zM337 766h1v1h-1zM379 766h1v1h-1zM501 766h2v1h-2zM522 766h1v1h-1zM790 766h1v1h-1zM827 766h1v1h-1zM846 766h1v1h-1zM875 766h1v1h-1zM879 766h2v1h-2zM1177 766h1v1h-1zM1303 766h1v1h-1zM1346 766h1v1h-1zM1371 766h1v1h-1zM1374 766h1v1h-1zM1626 766h1v1h-1zM1671 766h1v1h-1zM1720 766h1v1h-1zM1771 766h2v1h-2zM1819 766h1v1h-1zM39 767h1v1h-1zM118 767h1v1h-1zM164 767h1v1h-1zM336 767h1v1h-1zM380 767h1v1h-1zM500 767h1v1h-1zM523 767h1v1h-1zM789 767h1v1h-1zM827 767h1v1h-1zM846 767h1v1h-1zM876 767h1v1h-1zM878 767h1v1h-1zM1177 767h1v1h-1zM1302 767h1v1h-1zM1346 767h1v1h-1zM1370 767h1v1h-1zM1374 767h1v1h-1zM1626 767h1v1h-1zM1671 767h1v1h-1zM1720 767h1v1h-1zM1773 767h1v1h-1zM1819 767h1v1h-1zM40 768h1v1h-1zM117 768h1v1h-1zM165 768h1v1h-1zM336 768h1v1h-1zM380 768h1v1h-1zM499 768h1v1h-1zM523 768h1v1h-1zM787 768h2v1h-2zM828 768h1v1h-1zM845 768h1v1h-1zM877 768h1v1h-1zM1178 768h1v1h-1zM1301 768h1v1h-1zM1347 768h1v1h-1zM1369 768h1v1h-1zM1374 768h1v1h-1zM1625 768h1v1h-1zM1672 768h1v1h-1zM1719 768h1v1h-1zM1774 768h1v1h-1zM1818 768h1v1h-1zM40 769h1v1h-1zM116 769h1v1h-1zM166 769h1v1h-1zM335 769h1v1h-1zM381 769h1v1h-1zM404 769h2v1h-2zM499 769h1v1h-1zM524 769h1v1h-1zM785 769h2v1h-2zM828 769h1v1h-1zM844 769h1v1h-1zM1178 769h1v1h-1zM1301 769h1v1h-1zM1348 769h1v1h-1zM1368 769h1v1h-1zM1374 769h1v1h-1zM1625 769h1v1h-1zM1672 769h1v1h-1zM1719 769h1v1h-1zM1774 769h1v1h-1zM1818 769h1v1h-1zM40 770h1v1h-1zM116 770h1v1h-1zM166 770h1v1h-1zM335 770h1v1h-1zM381 770h1v1h-1zM402 770h2v1h-2zM406 770h1v1h-1zM498 770h1v1h-1zM525 770h1v1h-1zM784 770h1v1h-1zM829 770h1v1h-1zM844 770h1v1h-1zM1178 770h1v1h-1zM1300 770h1v1h-1zM1348 770h1v1h-1zM1367 770h1v1h-1zM1375 770h1v1h-1zM1624 770h1v1h-1zM1672 770h1v1h-1zM1718 770h1v1h-1zM1775 770h1v1h-1zM1817 770h1v1h-1zM40 771h1v1h-1zM115 771h1v1h-1zM167 771h1v1h-1zM334 771h1v1h-1zM382 771h1v1h-1zM400 771h2v1h-2zM407 771h1v1h-1zM497 771h1v1h-1zM525 771h1v1h-1zM782 771h2v1h-2zM830 771h1v1h-1zM843 771h1v1h-1zM1179 771h1v1h-1zM1300 771h1v1h-1zM1349 771h4v1h-4zM1366 771h1v1h-1zM1375 771h1v1h-1zM1624 771h1v1h-1zM1673 771h1v1h-1zM1718 771h1v1h-1zM1775 771h1v1h-1zM1817 771h1v1h-1zM41 772h1v1h-1zM114 772h1v1h-1zM168 772h1v1h-1zM334 772h1v1h-1zM383 772h1v1h-1zM398 772h2v1h-2zM408 772h1v1h-1zM496 772h1v1h-1zM526 772h1v1h-1zM781 772h1v1h-1zM831 772h1v1h-1zM842 772h1v1h-1zM1179 772h1v1h-1zM1299 772h1v1h-1zM1353 772h13v1h-13zM1375 772h1v1h-1zM1623 772h1v1h-1zM1673 772h1v1h-1zM1717 772h1v1h-1zM1776 772h1v1h-1zM1817 772h1v1h-1zM41 773h1v1h-1zM114 773h1v1h-1zM169 773h1v1h-1zM204 773h2v1h-2zM221 773h1v1h-1zM333 773h1v1h-1zM384 773h1v1h-1zM397 773h1v1h-1zM409 773h1v1h-1zM495 773h1v1h-1zM526 773h1v1h-1zM780 773h1v1h-1zM832 773h1v1h-1zM841 773h1v1h-1zM1179 773h1v1h-1zM1299 773h1v1h-1zM1376 773h1v1h-1zM1623 773h1v1h-1zM1674 773h1v1h-1zM1717 773h1v1h-1zM1776 773h1v1h-1zM1816 773h1v1h-1zM41 774h1v1h-1zM113 774h1v1h-1zM169 774h1v1h-1zM202 774h2v1h-2zM206 774h1v1h-1zM219 774h2v1h-2zM222 774h2v1h-2zM333 774h1v1h-1zM385 774h1v1h-1zM395 774h2v1h-2zM409 774h1v1h-1zM495 774h1v1h-1zM527 774h1v1h-1zM779 774h1v1h-1zM833 774h1v1h-1zM841 774h1v1h-1zM1179 774h1v1h-1zM1298 774h1v1h-1zM1376 774h1v1h-1zM1622 774h1v1h-1zM1674 774h1v1h-1zM1717 774h1v1h-1zM1777 774h1v1h-1zM1816 774h1v1h-1zM41 775h1v1h-1zM112 775h1v1h-1zM170 775h1v1h-1zM188 775h3v1h-3zM200 775h2v1h-2zM207 775h2v1h-2zM218 775h1v1h-1zM224 775h2v1h-2zM332 775h1v1h-1zM386 775h1v1h-1zM393 775h2v1h-2zM410 775h1v1h-1zM494 775h1v1h-1zM527 775h1v1h-1zM777 775h2v1h-2zM833 775h1v1h-1zM840 775h1v1h-1zM1180 775h1v1h-1zM1298 775h1v1h-1zM1376 775h1v1h-1zM1622 775h1v1h-1zM1674 775h1v1h-1zM1716 775h1v1h-1zM1777 775h1v1h-1zM1815 775h1v1h-1zM42 776h1v1h-1zM112 776h1v1h-1zM171 776h1v1h-1zM186 776h2v1h-2zM191 776h4v1h-4zM198 776h2v1h-2zM209 776h1v1h-1zM217 776h1v1h-1zM226 776h2v1h-2zM332 776h1v1h-1zM387 776h1v1h-1zM392 776h1v1h-1zM411 776h1v1h-1zM493 776h1v1h-1zM528 776h1v1h-1zM776 776h1v1h-1zM834 776h1v1h-1zM839 776h1v1h-1zM1180 776h1v1h-1zM1298 776h1v1h-1zM1377 776h1v1h-1zM1620 776h2v1h-2zM1675 776h1v1h-1zM1716 776h1v1h-1zM1778 776h1v1h-1zM1815 776h1v1h-1zM42 777h1v1h-1zM111 777h1v1h-1zM172 777h1v1h-1zM184 777h2v1h-2zM195 777h3v1h-3zM210 777h1v1h-1zM215 777h2v1h-2zM228 777h2v1h-2zM331 777h1v1h-1zM388 777h1v1h-1zM390 777h2v1h-2zM412 777h1v1h-1zM492 777h1v1h-1zM528 777h1v1h-1zM775 777h1v1h-1zM835 777h1v1h-1zM838 777h1v1h-1zM1180 777h1v1h-1zM1297 777h1v1h-1zM1377 777h1v1h-1zM1617 777h3v1h-3zM1675 777h1v1h-1zM1715 777h1v1h-1zM1778 777h1v1h-1zM1815 777h1v1h-1zM42 778h1v1h-1zM110 778h1v1h-1zM172 778h1v1h-1zM182 778h2v1h-2zM211 778h2v1h-2zM214 778h1v1h-1zM230 778h1v1h-1zM331 778h1v1h-1zM389 778h1v1h-1zM413 778h1v1h-1zM492 778h1v1h-1zM528 778h1v1h-1zM774 778h1v1h-1zM836 778h1v1h-1zM838 778h1v1h-1zM1181 778h1v1h-1zM1297 778h1v1h-1zM1377 778h1v1h-1zM1615 778h2v1h-2zM1675 778h1v1h-1zM1715 778h1v1h-1zM1779 778h1v1h-1zM1814 778h1v1h-1zM42 779h1v1h-1zM110 779h1v1h-1zM173 779h9v1h-9zM213 779h1v1h-1zM230 779h1v1h-1zM330 779h1v1h-1zM414 779h1v1h-1zM491 779h1v1h-1zM529 779h1v1h-1zM773 779h1v1h-1zM837 779h1v1h-1zM1181 779h1v1h-1zM1296 779h1v1h-1zM1377 779h1v1h-1zM1613 779h2v1h-2zM1676 779h1v1h-1zM1714 779h1v1h-1zM1779 779h1v1h-1zM1814 779h1v1h-1zM43 780h1v1h-1zM109 780h1v1h-1zM231 780h1v1h-1zM330 780h1v1h-1zM414 780h1v1h-1zM491 780h1v1h-1zM529 780h1v1h-1zM771 780h2v1h-2zM1181 780h1v1h-1zM1296 780h1v1h-1zM1378 780h1v1h-1zM1611 780h2v1h-2zM1676 780h1v1h-1zM1714 780h1v1h-1zM1780 780h1v1h-1zM1787 780h3v1h-3zM1813 780h1v1h-1zM43 781h1v1h-1zM108 781h1v1h-1zM232 781h1v1h-1zM329 781h1v1h-1zM415 781h1v1h-1zM490 781h1v1h-1zM530 781h1v1h-1zM769 781h2v1h-2zM1182 781h1v1h-1zM1296 781h1v1h-1zM1378 781h1v1h-1zM1610 781h1v1h-1zM1677 781h1v1h-1zM1713 781h1v1h-1zM1780 781h1v1h-1zM1783 781h4v1h-4zM1790 781h1v1h-1zM1811 781h3v1h-3zM43 782h1v1h-1zM108 782h1v1h-1zM233 782h1v1h-1zM329 782h1v1h-1zM416 782h1v1h-1zM489 782h1v1h-1zM530 782h1v1h-1zM768 782h1v1h-1zM1182 782h1v1h-1zM1295 782h1v1h-1zM1378 782h1v1h-1zM1609 782h1v1h-1zM1677 782h1v1h-1zM1713 782h1v1h-1zM1781 782h2v1h-2zM1791 782h1v1h-1zM1807 782h4v1h-4zM43 783h1v1h-1zM107 783h1v1h-1zM233 783h1v1h-1zM328 783h1v1h-1zM417 783h1v1h-1zM489 783h1v1h-1zM530 783h1v1h-1zM766 783h2v1h-2zM1182 783h1v1h-1zM1295 783h1v1h-1zM1379 783h1v1h-1zM1607 783h2v1h-2zM1677 783h1v1h-1zM1712 783h1v1h-1zM1792 783h1v1h-1zM1804 783h3v1h-3zM44 784h1v1h-1zM106 784h1v1h-1zM234 784h1v1h-1zM328 784h1v1h-1zM417 784h1v1h-1zM488 784h1v1h-1zM531 784h1v1h-1zM765 784h1v1h-1zM1183 784h1v1h-1zM1294 784h1v1h-1zM1379 784h1v1h-1zM1606 784h1v1h-1zM1678 784h1v1h-1zM1712 784h1v1h-1zM1793 784h2v1h-2zM1802 784h2v1h-2zM44 785h1v1h-1zM106 785h1v1h-1zM235 785h1v1h-1zM327 785h1v1h-1zM418 785h1v1h-1zM487 785h1v1h-1zM531 785h1v1h-1zM764 785h1v1h-1zM1183 785h1v1h-1zM1294 785h1v1h-1zM1379 785h1v1h-1zM1605 785h1v1h-1zM1678 785h1v1h-1zM1711 785h1v1h-1zM1795 785h1v1h-1zM1800 785h2v1h-2zM44 786h1v1h-1zM105 786h1v1h-1zM236 786h1v1h-1zM327 786h1v1h-1zM419 786h1v1h-1zM487 786h1v1h-1zM532 786h1v1h-1zM763 786h1v1h-1zM1184 786h1v1h-1zM1293 786h1v1h-1zM1380 786h1v1h-1zM1603 786h2v1h-2zM1679 786h1v1h-1zM1711 786h1v1h-1zM1796 786h1v1h-1zM1798 786h2v1h-2zM44 787h1v1h-1zM104 787h1v1h-1zM236 787h1v1h-1zM326 787h1v1h-1zM420 787h1v1h-1zM486 787h1v1h-1zM532 787h1v1h-1zM762 787h1v1h-1zM1184 787h1v1h-1zM1293 787h1v1h-1zM1380 787h1v1h-1zM1601 787h2v1h-2zM1679 787h1v1h-1zM1710 787h1v1h-1zM1797 787h1v1h-1zM45 788h1v1h-1zM104 788h1v1h-1zM237 788h1v1h-1zM326 788h1v1h-1zM420 788h1v1h-1zM486 788h1v1h-1zM533 788h1v1h-1zM761 788h1v1h-1zM1184 788h1v1h-1zM1293 788h1v1h-1zM1380 788h1v1h-1zM1600 788h1v1h-1zM1679 788h1v1h-1zM1710 788h1v1h-1zM45 789h1v1h-1zM103 789h1v1h-1zM237 789h1v1h-1zM325 789h1v1h-1zM421 789h1v1h-1zM485 789h1v1h-1zM533 789h1v1h-1zM760 789h1v1h-1zM1185 789h1v1h-1zM1292 789h1v1h-1zM1380 789h1v1h-1zM1598 789h2v1h-2zM1680 789h1v1h-1zM1709 789h1v1h-1zM45 790h1v1h-1zM102 790h1v1h-1zM238 790h1v1h-1zM324 790h1v1h-1zM422 790h1v1h-1zM484 790h1v1h-1zM533 790h1v1h-1zM759 790h1v1h-1zM1185 790h1v1h-1zM1292 790h1v1h-1zM1381 790h1v1h-1zM1517 790h1v1h-1zM1597 790h1v1h-1zM1680 790h1v1h-1zM1709 790h1v1h-1zM46 791h1v1h-1zM102 791h1v1h-1zM238 791h1v1h-1zM324 791h1v1h-1zM423 791h2v1h-2zM484 791h1v1h-1zM534 791h1v1h-1zM758 791h1v1h-1zM1185 791h1v1h-1zM1291 791h1v1h-1zM1381 791h1v1h-1zM1515 791h2v1h-2zM1518 791h1v1h-1zM1595 791h2v1h-2zM1681 791h1v1h-1zM1708 791h1v1h-1zM46 792h1v1h-1zM101 792h1v1h-1zM238 792h1v1h-1zM323 792h1v1h-1zM425 792h1v1h-1zM483 792h1v1h-1zM534 792h1v1h-1zM753 792h5v1h-5zM1186 792h1v1h-1zM1291 792h1v1h-1zM1381 792h1v1h-1zM1513 792h2v1h-2zM1519 792h1v1h-1zM1594 792h1v1h-1zM1681 792h1v1h-1zM1708 792h1v1h-1zM46 793h1v1h-1zM100 793h1v1h-1zM239 793h1v1h-1zM323 793h1v1h-1zM426 793h1v1h-1zM483 793h1v1h-1zM535 793h1v1h-1zM605 793h1v1h-1zM748 793h5v1h-5zM1186 793h1v1h-1zM1290 793h1v1h-1zM1382 793h1v1h-1zM1512 793h1v1h-1zM1520 793h1v1h-1zM1593 793h1v1h-1zM1681 793h1v1h-1zM1707 793h1v1h-1zM46 794h1v1h-1zM99 794h1v1h-1zM239 794h1v1h-1zM322 794h1v1h-1zM427 794h2v1h-2zM482 794h1v1h-1zM535 794h1v1h-1zM604 794h1v1h-1zM606 794h1v1h-1zM746 794h2v1h-2zM1186 794h1v1h-1zM1290 794h1v1h-1zM1382 794h1v1h-1zM1510 794h2v1h-2zM1521 794h2v1h-2zM1591 794h2v1h-2zM1682 794h1v1h-1zM1707 794h1v1h-1zM47 795h1v1h-1zM98 795h1v1h-1zM240 795h1v1h-1zM322 795h1v1h-1zM429 795h1v1h-1zM482 795h1v1h-1zM536 795h1v1h-1zM603 795h1v1h-1zM607 795h1v1h-1zM744 795h2v1h-2zM1187 795h1v1h-1zM1290 795h1v1h-1zM1383 795h1v1h-1zM1509 795h1v1h-1zM1523 795h1v1h-1zM1590 795h1v1h-1zM1682 795h1v1h-1zM1706 795h1v1h-1zM47 796h1v1h-1zM97 796h1v1h-1zM240 796h1v1h-1zM321 796h1v1h-1zM430 796h1v1h-1zM481 796h1v1h-1zM536 796h1v1h-1zM602 796h1v1h-1zM608 796h1v1h-1zM742 796h2v1h-2zM1187 796h1v1h-1zM1289 796h1v1h-1zM1383 796h1v1h-1zM1508 796h1v1h-1zM1524 796h1v1h-1zM1588 796h2v1h-2zM1683 796h1v1h-1zM1706 796h1v1h-1zM47 797h1v1h-1zM77 797h1v1h-1zM96 797h1v1h-1zM240 797h1v1h-1zM320 797h1v1h-1zM430 797h1v1h-1zM480 797h1v1h-1zM537 797h1v1h-1zM601 797h1v1h-1zM609 797h1v1h-1zM741 797h1v1h-1zM1188 797h1v1h-1zM1289 797h1v1h-1zM1383 797h1v1h-1zM1508 797h1v1h-1zM1525 797h1v1h-1zM1585 797h3v1h-3zM1683 797h1v1h-1zM1705 797h1v1h-1zM47 798h1v1h-1zM76 798h1v1h-1zM78 798h1v1h-1zM95 798h1v1h-1zM241 798h1v1h-1zM320 798h1v1h-1zM431 798h1v1h-1zM480 798h1v1h-1zM537 798h1v1h-1zM600 798h1v1h-1zM609 798h1v1h-1zM740 798h1v1h-1zM1188 798h1v1h-1zM1288 798h1v1h-1zM1384 798h1v1h-1zM1507 798h1v1h-1zM1526 798h1v1h-1zM1583 798h2v1h-2zM1683 798h1v1h-1zM1704 798h1v1h-1zM48 799h1v1h-1zM76 799h1v1h-1zM79 799h1v1h-1zM94 799h1v1h-1zM241 799h1v1h-1zM319 799h1v1h-1zM431 799h1v1h-1zM479 799h1v1h-1zM538 799h1v1h-1zM599 799h1v1h-1zM610 799h1v1h-1zM739 799h1v1h-1zM1188 799h1v1h-1zM1288 799h1v1h-1zM1384 799h1v1h-1zM1506 799h1v1h-1zM1527 799h1v1h-1zM1579 799h4v1h-4zM1684 799h1v1h-1zM1704 799h1v1h-1zM48 800h1v1h-1zM75 800h1v1h-1zM80 800h1v1h-1zM93 800h1v1h-1zM241 800h1v1h-1zM319 800h1v1h-1zM432 800h1v1h-1zM479 800h1v1h-1zM538 800h1v1h-1zM598 800h1v1h-1zM611 800h1v1h-1zM669 800h4v1h-4zM738 800h1v1h-1zM1189 800h1v1h-1zM1288 800h1v1h-1zM1384 800h1v1h-1zM1506 800h1v1h-1zM1527 800h1v1h-1zM1575 800h4v1h-4zM1684 800h1v1h-1zM1703 800h1v1h-1zM48 801h1v1h-1zM74 801h1v1h-1zM81 801h1v1h-1zM91 801h2v1h-2zM242 801h1v1h-1zM318 801h1v1h-1zM432 801h1v1h-1zM478 801h1v1h-1zM539 801h1v1h-1zM595 801h3v1h-3zM612 801h1v1h-1zM668 801h1v1h-1zM673 801h5v1h-5zM737 801h1v1h-1zM1189 801h4v1h-4zM1287 801h1v1h-1zM1385 801h1v1h-1zM1505 801h1v1h-1zM1528 801h1v1h-1zM1573 801h2v1h-2zM1685 801h1v1h-1zM1703 801h1v1h-1zM48 802h1v1h-1zM73 802h1v1h-1zM82 802h1v1h-1zM89 802h2v1h-2zM242 802h1v1h-1zM318 802h1v1h-1zM433 802h1v1h-1zM478 802h1v1h-1zM539 802h1v1h-1zM591 802h4v1h-4zM613 802h1v1h-1zM668 802h1v1h-1zM678 802h1v1h-1zM737 802h1v1h-1zM1193 802h5v1h-5zM1287 802h1v1h-1zM1385 802h1v1h-1zM1504 802h1v1h-1zM1529 802h1v1h-1zM1571 802h2v1h-2zM1685 802h1v1h-1zM1702 802h1v1h-1zM49 803h1v1h-1zM73 803h1v1h-1zM83 803h1v1h-1zM88 803h1v1h-1zM242 803h1v1h-1zM316 803h2v1h-2zM433 803h1v1h-1zM476 803h2v1h-2zM540 803h1v1h-1zM589 803h2v1h-2zM614 803h1v1h-1zM667 803h1v1h-1zM678 803h1v1h-1zM736 803h1v1h-1zM1198 803h1v1h-1zM1286 803h1v1h-1zM1386 803h1v1h-1zM1504 803h1v1h-1zM1530 803h1v1h-1zM1570 803h1v1h-1zM1686 803h1v1h-1zM1702 803h1v1h-1zM49 804h1v1h-1zM72 804h1v1h-1zM84 804h1v1h-1zM86 804h2v1h-2zM243 804h1v1h-1zM313 804h3v1h-3zM434 804h1v1h-1zM473 804h3v1h-3zM540 804h1v1h-1zM587 804h2v1h-2zM615 804h2v1h-2zM666 804h1v1h-1zM679 804h1v1h-1zM735 804h1v1h-1zM1199 804h1v1h-1zM1286 804h1v1h-1zM1386 804h1v1h-1zM1503 804h1v1h-1zM1531 804h1v1h-1zM1569 804h1v1h-1zM1687 804h1v1h-1zM1701 804h1v1h-1zM49 805h1v1h-1zM71 805h1v1h-1zM85 805h1v1h-1zM243 805h1v1h-1zM311 805h2v1h-2zM434 805h1v1h-1zM471 805h2v1h-2zM541 805h1v1h-1zM585 805h2v1h-2zM617 805h1v1h-1zM665 805h1v1h-1zM679 805h1v1h-1zM734 805h1v1h-1zM1199 805h1v1h-1zM1285 805h1v1h-1zM1386 805h1v1h-1zM1502 805h1v1h-1zM1531 805h1v1h-1zM1567 805h2v1h-2zM1688 805h1v1h-1zM1700 805h1v1h-1zM49 806h1v1h-1zM70 806h1v1h-1zM244 806h1v1h-1zM301 806h10v1h-10zM435 806h1v1h-1zM469 806h2v1h-2zM541 806h2v1h-2zM584 806h1v1h-1zM618 806h1v1h-1zM665 806h1v1h-1zM680 806h1v1h-1zM733 806h1v1h-1zM1200 806h1v1h-1zM1285 806h1v1h-1zM1387 806h1v1h-1zM1502 806h1v1h-1zM1532 806h1v1h-1zM1566 806h1v1h-1zM1689 806h1v1h-1zM1699 806h1v1h-1zM50 807h1v1h-1zM70 807h1v1h-1zM244 807h1v1h-1zM299 807h2v1h-2zM435 807h1v1h-1zM468 807h1v1h-1zM543 807h4v1h-4zM582 807h2v1h-2zM619 807h2v1h-2zM664 807h1v1h-1zM681 807h1v1h-1zM732 807h1v1h-1zM1201 807h1v1h-1zM1284 807h1v1h-1zM1387 807h1v1h-1zM1500 807h2v1h-2zM1533 807h1v1h-1zM1565 807h1v1h-1zM1689 807h1v1h-1zM1697 807h2v1h-2zM50 808h1v1h-1zM67 808h3v1h-3zM244 808h1v1h-1zM298 808h1v1h-1zM436 808h1v1h-1zM467 808h1v1h-1zM547 808h3v1h-3zM581 808h1v1h-1zM621 808h1v1h-1zM663 808h1v1h-1zM681 808h1v1h-1zM731 808h1v1h-1zM1202 808h1v1h-1zM1284 808h1v1h-1zM1387 808h1v1h-1zM1497 808h3v1h-3zM1534 808h1v1h-1zM1564 808h1v1h-1zM1690 808h1v1h-1zM1696 808h1v1h-1zM50 809h1v1h-1zM63 809h4v1h-4zM245 809h1v1h-1zM297 809h1v1h-1zM436 809h1v1h-1zM466 809h1v1h-1zM550 809h1v1h-1zM580 809h1v1h-1zM622 809h1v1h-1zM662 809h1v1h-1zM682 809h1v1h-1zM730 809h1v1h-1zM1203 809h1v1h-1zM1283 809h1v1h-1zM1388 809h1v1h-1zM1433 809h6v1h-6zM1495 809h2v1h-2zM1535 809h1v1h-1zM1563 809h1v1h-1zM1691 809h1v1h-1zM1695 809h1v1h-1zM50 810h1v1h-1zM61 810h2v1h-2zM245 810h1v1h-1zM295 810h2v1h-2zM437 810h1v1h-1zM465 810h1v1h-1zM551 810h2v1h-2zM579 810h1v1h-1zM622 810h1v1h-1zM662 810h1v1h-1zM683 810h1v1h-1zM729 810h1v1h-1zM1203 810h1v1h-1zM1282 810h1v1h-1zM1388 810h1v1h-1zM1421 810h12v1h-12zM1439 810h2v1h-2zM1492 810h3v1h-3zM1536 810h1v1h-1zM1561 810h2v1h-2zM1692 810h1v1h-1zM1694 810h1v1h-1zM51 811h1v1h-1zM60 811h1v1h-1zM246 811h1v1h-1zM294 811h1v1h-1zM438 811h1v1h-1zM465 811h1v1h-1zM553 811h1v1h-1zM577 811h2v1h-2zM623 811h1v1h-1zM661 811h1v1h-1zM683 811h1v1h-1zM728 811h1v1h-1zM1204 811h1v1h-1zM1282 811h1v1h-1zM1389 811h1v1h-1zM1420 811h1v1h-1zM1441 811h3v1h-3zM1489 811h3v1h-3zM1537 811h2v1h-2zM1560 811h1v1h-1zM1693 811h1v1h-1zM51 812h1v1h-1zM60 812h1v1h-1zM247 812h2v1h-2zM293 812h1v1h-1zM439 812h1v1h-1zM464 812h1v1h-1zM554 812h1v1h-1zM576 812h1v1h-1zM623 812h1v1h-1zM660 812h1v1h-1zM684 812h1v1h-1zM727 812h1v1h-1zM1205 812h1v1h-1zM1281 812h1v1h-1zM1389 812h1v1h-1zM1419 812h1v1h-1zM1444 812h3v1h-3zM1487 812h2v1h-2zM1539 812h1v1h-1zM1559 812h1v1h-1zM51 813h1v1h-1zM59 813h1v1h-1zM249 813h1v1h-1zM291 813h2v1h-2zM439 813h1v1h-1zM463 813h1v1h-1zM555 813h2v1h-2zM575 813h1v1h-1zM624 813h1v1h-1zM659 813h1v1h-1zM684 813h1v1h-1zM726 813h1v1h-1zM1206 813h2v1h-2zM1280 813h1v1h-1zM1389 813h1v1h-1zM1417 813h2v1h-2zM1447 813h2v1h-2zM1484 813h3v1h-3zM1540 813h1v1h-1zM1558 813h1v1h-1zM51 814h1v1h-1zM58 814h1v1h-1zM250 814h1v1h-1zM289 814h2v1h-2zM440 814h1v1h-1zM462 814h1v1h-1zM557 814h2v1h-2zM574 814h1v1h-1zM624 814h1v1h-1zM659 814h1v1h-1zM685 814h1v1h-1zM725 814h1v1h-1zM1208 814h2v1h-2zM1280 814h1v1h-1zM1390 814h1v1h-1zM1416 814h1v1h-1zM1449 814h3v1h-3zM1482 814h2v1h-2zM1541 814h2v1h-2zM1555 814h3v1h-3zM52 815h1v1h-1zM57 815h1v1h-1zM251 815h2v1h-2zM288 815h1v1h-1zM441 815h1v1h-1zM461 815h1v1h-1zM559 815h2v1h-2zM571 815h3v1h-3zM625 815h1v1h-1zM658 815h1v1h-1zM686 815h1v1h-1zM724 815h1v1h-1zM1210 815h2v1h-2zM1279 815h1v1h-1zM1390 815h1v1h-1zM1415 815h1v1h-1zM1452 815h2v1h-2zM1480 815h2v1h-2zM1543 815h4v1h-4zM1551 815h4v1h-4zM52 816h1v1h-1zM57 816h1v1h-1zM253 816h1v1h-1zM286 816h2v1h-2zM442 816h1v1h-1zM459 816h2v1h-2zM561 816h3v1h-3zM567 816h4v1h-4zM626 816h1v1h-1zM657 816h1v1h-1zM686 816h1v1h-1zM723 816h1v1h-1zM1212 816h2v1h-2zM1278 816h1v1h-1zM1391 816h1v1h-1zM1414 816h1v1h-1zM1454 816h1v1h-1zM1478 816h2v1h-2zM1547 816h4v1h-4zM52 817h1v1h-1zM56 817h1v1h-1zM254 817h2v1h-2zM285 817h1v1h-1zM443 817h1v1h-1zM458 817h1v1h-1zM564 817h3v1h-3zM626 817h1v1h-1zM656 817h1v1h-1zM687 817h1v1h-1zM722 817h1v1h-1zM1214 817h2v1h-2zM1278 817h1v1h-1zM1391 817h1v1h-1zM1413 817h1v1h-1zM1455 817h2v1h-2zM1476 817h2v1h-2zM52 818h1v1h-1zM55 818h1v1h-1zM256 818h2v1h-2zM284 818h1v1h-1zM443 818h1v1h-1zM457 818h1v1h-1zM627 818h1v1h-1zM655 818h1v1h-1zM688 818h1v1h-1zM721 818h1v1h-1zM1216 818h2v1h-2zM1259 818h3v1h-3zM1277 818h1v1h-1zM1392 818h1v1h-1zM1411 818h2v1h-2zM1457 818h1v1h-1zM1473 818h3v1h-3zM53 819h2v1h-2zM258 819h2v1h-2zM283 819h1v1h-1zM444 819h1v1h-1zM455 819h2v1h-2zM627 819h1v1h-1zM655 819h1v1h-1zM689 819h1v1h-1zM721 819h1v1h-1zM1218 819h2v1h-2zM1255 819h4v1h-4zM1262 819h1v1h-1zM1276 819h1v1h-1zM1392 819h1v1h-1zM1410 819h1v1h-1zM1458 819h1v1h-1zM1471 819h2v1h-2zM53 820h2v1h-2zM260 820h10v1h-10zM282 820h1v1h-1zM445 820h4v1h-4zM454 820h1v1h-1zM628 820h1v1h-1zM654 820h1v1h-1zM689 820h1v1h-1zM720 820h1v1h-1zM1220 820h5v1h-5zM1244 820h11v1h-11zM1263 820h1v1h-1zM1275 820h1v1h-1zM1393 820h1v1h-1zM1409 820h1v1h-1zM1459 820h2v1h-2zM1465 820h6v1h-6zM53 821h1v1h-1zM270 821h2v1h-2zM281 821h1v1h-1zM449 821h5v1h-5zM628 821h1v1h-1zM652 821h2v1h-2zM690 821h1v1h-1zM719 821h1v1h-1zM1225 821h6v1h-6zM1242 821h2v1h-2zM1264 821h1v1h-1zM1273 821h2v1h-2zM1393 821h1v1h-1zM1407 821h2v1h-2zM1461 821h4v1h-4zM272 822h1v1h-1zM280 822h1v1h-1zM629 822h4v1h-4zM650 822h2v1h-2zM691 822h1v1h-1zM718 822h1v1h-1zM1231 822h2v1h-2zM1240 822h2v1h-2zM1265 822h2v1h-2zM1272 822h1v1h-1zM1393 822h1v1h-1zM1406 822h1v1h-1zM273 823h2v1h-2zM279 823h1v1h-1zM633 823h6v1h-6zM648 823h2v1h-2zM692 823h1v1h-1zM716 823h2v1h-2zM1233 823h3v1h-3zM1238 823h2v1h-2zM1267 823h1v1h-1zM1271 823h1v1h-1zM1394 823h1v1h-1zM1405 823h1v1h-1zM275 824h2v1h-2zM278 824h1v1h-1zM639 824h4v1h-4zM646 824h2v1h-2zM692 824h1v1h-1zM713 824h3v1h-3zM1236 824h2v1h-2zM1268 824h1v1h-1zM1270 824h1v1h-1zM1394 824h1v1h-1zM1404 824h1v1h-1zM277 825h1v1h-1zM643 825h3v1h-3zM693 825h2v1h-2zM711 825h2v1h-2zM1269 825h1v1h-1zM1395 825h1v1h-1zM1403 825h1v1h-1zM695 826h4v1h-4zM705 826h6v1h-6zM1395 826h1v1h-1zM1401 826h2v1h-2zM699 827h6v1h-6zM1396 827h1v1h-1zM1400 827h1v1h-1zM1396 828h1v1h-1zM1399 828h1v1h-1zM1397 829h2v1h-2zM1397 830h1v1h-1z" fill="#20b2aa"/>
<text x="9" y="727" font-size="9.5" fill="#000" stroke="#000" stroke-width="0.15" text-anchor="start" textLength="127" lengthAdjust="spacingAndGlyphs" xml:space="preserve">Stoch(14,3,3) 83.0234 86.4871</text>
<text x="1878.5" y="724.5" font-size="9.5" fill="#000" stroke="#000" stroke-width="0.15" text-anchor="start" textLength="15.03" lengthAdjust="spacingAndGlyphs" xml:space="preserve">100</text>
<text x="1878.5" y="742.5" font-size="9.5" fill="#000" stroke="#000" stroke-width="0.15" text-anchor="start" textLength="10.02" lengthAdjust="spacingAndGlyphs" xml:space="preserve">80</text>
<text x="1878.5" y="813.5" font-size="9.5" fill="#000" stroke="#000" stroke-width="0.15" text-anchor="start" textLength="10.02" lengthAdjust="spacingAndGlyphs" xml:space="preserve">20</text>
<text x="1878.5" y="830.5" font-size="9.5" fill="#000" stroke="#000" stroke-width="0.15" text-anchor="start" textLength="5.02" lengthAdjust="spacingAndGlyphs" xml:space="preserve">0</text>
<rect x="1876" y="715" width="2" height="1" fill="#000"/>
<line x1="6" y1="885.5" x2="1875" y2="885.5" stroke="#c0c0c0" stroke-dasharray="3 3"/>
<line x1="6" y1="914.5" x2="1875" y2="914.5" stroke="#c0c0c0" stroke-dasharray="3 3"/>
<path d="M1629 843h1v1h-1zM1629 844h1v1h-1zM1629 845h2v1h-2zM1629 846h2v1h-2zM1628 847h1v1h-1zM1631 847h1v1h-1zM1628 848h1v1h-1zM1631 848h1v1h-1zM1628 849h1v1h-1zM1631 849h1v1h-1zM1628 850h1v1h-1zM1632 850h1v1h-1zM1628 851h1v1h-1zM1632 851h1v1h-1zM1628 852h1v1h-1zM1632 852h1v1h-1zM1628 853h1v1h-1zM1633 853h1v1h-1zM1627 854h1v1h-1zM1633 854h1v1h-1zM1627 855h1v1h-1zM1634 855h1v1h-1zM1627 856h1v1h-1zM1634 856h1v1h-1zM1627 857h1v1h-1zM1634 857h1v1h-1zM1627 858h1v1h-1zM1635 858h1v1h-1zM1627 859h1v1h-1zM1635 859h1v1h-1zM1626 860h1v1h-1zM1635 860h1v1h-1zM1626 861h1v1h-1zM1636 861h1v1h-1zM1626 862h1v1h-1zM1636 862h1v1h-1zM1626 863h1v1h-1zM1637 863h1v1h-1zM1626 864h1v1h-1zM1637 864h1v1h-1zM1626 865h1v1h-1zM1638 865h1v1h-1zM1626 866h1v1h-1zM1638 866h1v1h-1zM1625 867h1v1h-1zM1639 867h1v1h-1zM900 868h2v1h-2zM1625 868h1v1h-1zM1640 868h1v1h-1zM897 869h3v1h-3zM902 869h1v1h-1zM1625 869h1v1h-1zM1641 869h1v1h-1zM895 870h2v1h-2zM903 870h2v1h-2zM1625 870h1v1h-1zM1641 870h1v1h-1zM5 871h12v1h-12zM893 871h2v1h-2zM905 871h1v1h-1zM1625 871h1v1h-1zM1642 871h1v1h-1zM17 872h5v1h-5zM891 872h2v1h-2zM906 872h1v1h-1zM1625 872h1v1h-1zM1643 872h1v1h-1zM22 873h1v1h-1zM890 873h1v1h-1zM907 873h2v1h-2zM1625 873h1v1h-1zM1644 873h1v1h-1zM23 874h1v1h-1zM889 874h1v1h-1zM909 874h10v1h-10zM1624 874h1v1h-1zM1644 874h1v1h-1zM24 875h1v1h-1zM887 875h2v1h-2zM919 875h4v1h-4zM1624 875h1v1h-1zM1645 875h1v1h-1zM25 876h2v1h-2zM886 876h1v1h-1zM923 876h3v1h-3zM1028 876h5v1h-5zM1624 876h1v1h-1zM1646 876h1v1h-1zM27 877h1v1h-1zM885 877h1v1h-1zM926 877h2v1h-2zM1026 877h2v1h-2zM1033 877h6v1h-6zM1067 877h3v1h-3zM1624 877h1v1h-1zM1647 877h2v1h-2zM28 878h1v1h-1zM884 878h1v1h-1zM928 878h1v1h-1zM1024 878h2v1h-2zM1039 878h2v1h-2zM1063 878h4v1h-4zM1070 878h2v1h-2zM1624 878h1v1h-1zM1649 878h1v1h-1zM29 879h1v1h-1zM141 879h1v1h-1zM797 879h1v1h-1zM884 879h1v1h-1zM929 879h2v1h-2zM1022 879h2v1h-2zM1041 879h3v1h-3zM1061 879h2v1h-2zM1072 879h2v1h-2zM1624 879h1v1h-1zM1650 879h1v1h-1zM29 880h1v1h-1zM140 880h1v1h-1zM142 880h1v1h-1zM796 880h1v1h-1zM798 880h2v1h-2zM861 880h4v1h-4zM883 880h1v1h-1zM931 880h2v1h-2zM1019 880h3v1h-3zM1044 880h2v1h-2zM1060 880h1v1h-1zM1074 880h2v1h-2zM1624 880h1v1h-1zM1651 880h2v1h-2zM30 881h1v1h-1zM139 881h1v1h-1zM143 881h2v1h-2zM796 881h1v1h-1zM800 881h2v1h-2zM860 881h1v1h-1zM865 881h5v1h-5zM882 881h1v1h-1zM933 881h2v1h-2zM1015 881h4v1h-4zM1046 881h1v1h-1zM1059 881h1v1h-1zM1076 881h5v1h-5zM1623 881h1v1h-1zM1653 881h1v1h-1zM30 882h1v1h-1zM137 882h2v1h-2zM145 882h1v1h-1zM795 882h1v1h-1zM802 882h2v1h-2zM859 882h1v1h-1zM870 882h1v1h-1zM882 882h1v1h-1zM935 882h4v1h-4zM1012 882h3v1h-3zM1047 882h2v1h-2zM1057 882h2v1h-2zM1081 882h6v1h-6zM1623 882h1v1h-1zM1654 882h1v1h-1zM1837 882h1v1h-1zM30 883h1v1h-1zM136 883h1v1h-1zM146 883h1v1h-1zM355 883h3v1h-3zM794 883h1v1h-1zM804 883h2v1h-2zM858 883h1v1h-1zM871 883h1v1h-1zM881 883h1v1h-1zM939 883h11v1h-11zM1010 883h2v1h-2zM1049 883h1v1h-1zM1056 883h1v1h-1zM1087 883h4v1h-4zM1131 883h4v1h-4zM1317 883h4v1h-4zM1623 883h1v1h-1zM1655 883h2v1h-2zM1836 883h1v1h-1zM1838 883h2v1h-2zM31 884h1v1h-1zM135 884h1v1h-1zM147 884h2v1h-2zM351 884h4v1h-4zM358 884h1v1h-1zM794 884h1v1h-1zM806 884h1v1h-1zM857 884h1v1h-1zM872 884h1v1h-1zM880 884h1v1h-1zM950 884h2v1h-2zM1008 884h2v1h-2zM1050 884h1v1h-1zM1055 884h1v1h-1zM1091 884h6v1h-6zM1105 884h8v1h-8zM1127 884h4v1h-4zM1135 884h4v1h-4zM1315 884h2v1h-2zM1321 884h5v1h-5zM1623 884h1v1h-1zM1657 884h1v1h-1zM1835 884h1v1h-1zM1840 884h2v1h-2zM31 885h1v1h-1zM134 885h1v1h-1zM149 885h1v1h-1zM333 885h18v1h-18zM359 885h2v1h-2zM793 885h1v1h-1zM807 885h1v1h-1zM857 885h1v1h-1zM873 885h1v1h-1zM880 885h1v1h-1zM952 885h2v1h-2zM1006 885h2v1h-2zM1051 885h2v1h-2zM1054 885h1v1h-1zM1097 885h8v1h-8zM1113 885h14v1h-14zM1139 885h3v1h-3zM1301 885h1v1h-1zM1314 885h1v1h-1zM1326 885h2v1h-2zM1623 885h1v1h-1zM1658 885h1v1h-1zM1725 885h4v1h-4zM1833 885h2v1h-2zM1842 885h2v1h-2zM31 886h1v1h-1zM132 886h2v1h-2zM150 886h1v1h-1zM332 886h1v1h-1zM361 886h1v1h-1zM792 886h1v1h-1zM807 886h1v1h-1zM856 886h1v1h-1zM874 886h1v1h-1zM879 886h1v1h-1zM954 886h2v1h-2zM995 886h11v1h-11zM1053 886h1v1h-1zM1142 886h2v1h-2zM1300 886h1v1h-1zM1302 886h2v1h-2zM1313 886h1v1h-1zM1328 886h1v1h-1zM1623 886h1v1h-1zM1659 886h2v1h-2zM1723 886h2v1h-2zM1729 886h6v1h-6zM1832 886h1v1h-1zM1844 886h3v1h-3zM32 887h1v1h-1zM130 887h2v1h-2zM150 887h1v1h-1zM331 887h1v1h-1zM362 887h1v1h-1zM792 887h1v1h-1zM808 887h1v1h-1zM855 887h1v1h-1zM875 887h1v1h-1zM878 887h1v1h-1zM956 887h3v1h-3zM980 887h5v1h-5zM991 887h4v1h-4zM1144 887h1v1h-1zM1299 887h1v1h-1zM1304 887h2v1h-2zM1311 887h2v1h-2zM1329 887h2v1h-2zM1622 887h1v1h-1zM1661 887h1v1h-1zM1722 887h1v1h-1zM1735 887h2v1h-2zM1831 887h1v1h-1zM1847 887h2v1h-2zM32 888h1v1h-1zM128 888h2v1h-2zM151 888h1v1h-1zM330 888h1v1h-1zM363 888h2v1h-2zM791 888h1v1h-1zM809 888h1v1h-1zM854 888h1v1h-1zM876 888h1v1h-1zM878 888h1v1h-1zM959 888h4v1h-4zM977 888h3v1h-3zM985 888h6v1h-6zM1145 888h2v1h-2zM1299 888h1v1h-1zM1306 888h2v1h-2zM1310 888h1v1h-1zM1331 888h2v1h-2zM1622 888h1v1h-1zM1662 888h1v1h-1zM1721 888h1v1h-1zM1737 888h3v1h-3zM1830 888h1v1h-1zM1849 888h3v1h-3zM32 889h1v1h-1zM126 889h2v1h-2zM151 889h1v1h-1zM329 889h1v1h-1zM365 889h1v1h-1zM517 889h1v1h-1zM790 889h1v1h-1zM810 889h1v1h-1zM853 889h1v1h-1zM877 889h1v1h-1zM963 889h6v1h-6zM975 889h2v1h-2zM1147 889h2v1h-2zM1153 889h5v1h-5zM1298 889h1v1h-1zM1308 889h2v1h-2zM1333 889h1v1h-1zM1622 889h1v1h-1zM1663 889h1v1h-1zM1719 889h2v1h-2zM1740 889h2v1h-2zM1821 889h9v1h-9zM1852 889h2v1h-2zM33 890h1v1h-1zM124 890h2v1h-2zM152 890h1v1h-1zM328 890h1v1h-1zM366 890h1v1h-1zM515 890h2v1h-2zM518 890h1v1h-1zM790 890h1v1h-1zM811 890h1v1h-1zM852 890h1v1h-1zM969 890h6v1h-6zM1149 890h4v1h-4zM1158 890h1v1h-1zM1297 890h1v1h-1zM1334 890h1v1h-1zM1622 890h1v1h-1zM1664 890h1v1h-1zM1718 890h1v1h-1zM1742 890h2v1h-2zM1820 890h1v1h-1zM33 891h1v1h-1zM122 891h2v1h-2zM152 891h1v1h-1zM327 891h1v1h-1zM367 891h1v1h-1zM514 891h1v1h-1zM518 891h1v1h-1zM789 891h1v1h-1zM811 891h1v1h-1zM851 891h1v1h-1zM1159 891h1v1h-1zM1296 891h1v1h-1zM1335 891h1v1h-1zM1622 891h1v1h-1zM1665 891h2v1h-2zM1717 891h1v1h-1zM1744 891h1v1h-1zM1820 891h1v1h-1zM33 892h1v1h-1zM120 892h2v1h-2zM153 892h1v1h-1zM326 892h1v1h-1zM368 892h1v1h-1zM513 892h1v1h-1zM519 892h1v1h-1zM788 892h1v1h-1zM812 892h1v1h-1zM850 892h1v1h-1zM1160 892h1v1h-1zM1295 892h1v1h-1zM1336 892h1v1h-1zM1622 892h1v1h-1zM1667 892h1v1h-1zM1715 892h2v1h-2zM1745 892h2v1h-2zM1755 892h3v1h-3zM1819 892h1v1h-1zM33 893h1v1h-1zM118 893h2v1h-2zM154 893h1v1h-1zM325 893h1v1h-1zM369 893h1v1h-1zM511 893h2v1h-2zM519 893h1v1h-1zM787 893h1v1h-1zM813 893h1v1h-1zM849 893h1v1h-1zM1161 893h1v1h-1zM1295 893h1v1h-1zM1337 893h2v1h-2zM1622 893h1v1h-1zM1668 893h1v1h-1zM1713 893h2v1h-2zM1747 893h2v1h-2zM1751 893h4v1h-4zM1758 893h1v1h-1zM1819 893h1v1h-1zM34 894h1v1h-1zM116 894h2v1h-2zM154 894h1v1h-1zM221 894h1v1h-1zM324 894h1v1h-1zM370 894h1v1h-1zM510 894h1v1h-1zM520 894h1v1h-1zM786 894h1v1h-1zM814 894h1v1h-1zM849 894h1v1h-1zM1162 894h1v1h-1zM1294 894h1v1h-1zM1339 894h1v1h-1zM1621 894h1v1h-1zM1669 894h1v1h-1zM1712 894h1v1h-1zM1749 894h2v1h-2zM1758 894h1v1h-1zM1818 894h1v1h-1zM34 895h1v1h-1zM113 895h3v1h-3zM155 895h1v1h-1zM220 895h1v1h-1zM222 895h2v1h-2zM324 895h1v1h-1zM371 895h1v1h-1zM509 895h1v1h-1zM520 895h1v1h-1zM772 895h2v1h-2zM785 895h1v1h-1zM814 895h1v1h-1zM848 895h1v1h-1zM1163 895h1v1h-1zM1293 895h1v1h-1zM1340 895h1v1h-1zM1363 895h11v1h-11zM1621 895h1v1h-1zM1670 895h1v1h-1zM1710 895h2v1h-2zM1759 895h1v1h-1zM1817 895h1v1h-1zM34 896h1v1h-1zM111 896h2v1h-2zM155 896h1v1h-1zM219 896h1v1h-1zM224 896h2v1h-2zM323 896h1v1h-1zM372 896h1v1h-1zM507 896h2v1h-2zM521 896h1v1h-1zM770 896h2v1h-2zM774 896h2v1h-2zM784 896h1v1h-1zM815 896h1v1h-1zM847 896h1v1h-1zM1164 896h1v1h-1zM1292 896h1v1h-1zM1341 896h12v1h-12zM1359 896h4v1h-4zM1373 896h1v1h-1zM1621 896h1v1h-1zM1671 896h1v1h-1zM1709 896h1v1h-1zM1759 896h1v1h-1zM1817 896h1v1h-1zM35 897h1v1h-1zM108 897h3v1h-3zM156 897h1v1h-1zM218 897h1v1h-1zM226 897h2v1h-2zM322 897h1v1h-1zM373 897h1v1h-1zM505 897h2v1h-2zM521 897h1v1h-1zM768 897h2v1h-2zM776 897h2v1h-2zM783 897h1v1h-1zM815 897h1v1h-1zM846 897h1v1h-1zM1165 897h1v1h-1zM1291 897h1v1h-1zM1353 897h6v1h-6zM1373 897h1v1h-1zM1613 897h9v1h-9zM1671 897h1v1h-1zM1707 897h2v1h-2zM1760 897h1v1h-1zM1816 897h1v1h-1zM35 898h1v1h-1zM106 898h2v1h-2zM156 898h1v1h-1zM217 898h1v1h-1zM228 898h2v1h-2zM321 898h1v1h-1zM374 898h1v1h-1zM397 898h2v1h-2zM491 898h4v1h-4zM504 898h1v1h-1zM522 898h1v1h-1zM766 898h2v1h-2zM778 898h2v1h-2zM782 898h1v1h-1zM816 898h1v1h-1zM843 898h3v1h-3zM1166 898h2v1h-2zM1290 898h1v1h-1zM1374 898h1v1h-1zM1587 898h6v1h-6zM1611 898h2v1h-2zM1672 898h1v1h-1zM1705 898h2v1h-2zM1761 898h1v1h-1zM1815 898h1v1h-1zM35 899h1v1h-1zM104 899h2v1h-2zM157 899h1v1h-1zM217 899h1v1h-1zM230 899h1v1h-1zM321 899h1v1h-1zM375 899h1v1h-1zM395 899h2v1h-2zM399 899h2v1h-2zM487 899h4v1h-4zM495 899h4v1h-4zM502 899h2v1h-2zM522 899h1v1h-1zM765 899h1v1h-1zM780 899h2v1h-2zM816 899h1v1h-1zM839 899h4v1h-4zM1168 899h1v1h-1zM1289 899h1v1h-1zM1374 899h1v1h-1zM1583 899h4v1h-4zM1593 899h6v1h-6zM1609 899h2v1h-2zM1673 899h1v1h-1zM1704 899h1v1h-1zM1761 899h1v1h-1zM1815 899h1v1h-1zM36 900h1v1h-1zM102 900h2v1h-2zM158 900h1v1h-1zM189 900h1v1h-1zM216 900h1v1h-1zM230 900h1v1h-1zM320 900h1v1h-1zM376 900h1v1h-1zM393 900h2v1h-2zM401 900h3v1h-3zM485 900h2v1h-2zM499 900h3v1h-3zM523 900h1v1h-1zM764 900h1v1h-1zM817 900h1v1h-1zM837 900h2v1h-2zM1169 900h2v1h-2zM1288 900h1v1h-1zM1374 900h1v1h-1zM1580 900h3v1h-3zM1599 900h2v1h-2zM1608 900h1v1h-1zM1674 900h1v1h-1zM1702 900h2v1h-2zM1762 900h1v1h-1zM1814 900h1v1h-1zM36 901h1v1h-1zM101 901h1v1h-1zM159 901h2v1h-2zM188 901h1v1h-1zM190 901h1v1h-1zM215 901h1v1h-1zM231 901h1v1h-1zM319 901h1v1h-1zM377 901h1v1h-1zM392 901h1v1h-1zM404 901h2v1h-2zM484 901h1v1h-1zM523 901h1v1h-1zM764 901h1v1h-1zM818 901h1v1h-1zM836 901h1v1h-1zM1171 901h2v1h-2zM1287 901h1v1h-1zM1374 901h1v1h-1zM1577 901h3v1h-3zM1601 901h3v1h-3zM1606 901h2v1h-2zM1675 901h1v1h-1zM1701 901h1v1h-1zM1763 901h1v1h-1zM1814 901h1v1h-1zM36 902h1v1h-1zM100 902h1v1h-1zM161 902h1v1h-1zM187 902h1v1h-1zM191 902h1v1h-1zM214 902h1v1h-1zM231 902h1v1h-1zM318 902h1v1h-1zM378 902h1v1h-1zM390 902h2v1h-2zM406 902h1v1h-1zM483 902h1v1h-1zM524 902h1v1h-1zM763 902h1v1h-1zM818 902h1v1h-1zM835 902h1v1h-1zM1173 902h1v1h-1zM1286 902h1v1h-1zM1374 902h1v1h-1zM1575 902h2v1h-2zM1604 902h2v1h-2zM1675 902h1v1h-1zM1699 902h2v1h-2zM1763 902h1v1h-1zM1811 902h3v1h-3zM37 903h1v1h-1zM99 903h1v1h-1zM162 903h1v1h-1zM171 903h3v1h-3zM186 903h1v1h-1zM192 903h1v1h-1zM212 903h2v1h-2zM232 903h1v1h-1zM318 903h1v1h-1zM379 903h1v1h-1zM387 903h3v1h-3zM407 903h1v1h-1zM482 903h1v1h-1zM524 903h1v1h-1zM762 903h1v1h-1zM819 903h1v1h-1zM835 903h1v1h-1zM1174 903h1v1h-1zM1285 903h1v1h-1zM1375 903h1v1h-1zM1572 903h3v1h-3zM1676 903h1v1h-1zM1698 903h1v1h-1zM1764 903h1v1h-1zM1807 903h4v1h-4zM37 904h1v1h-1zM98 904h1v1h-1zM163 904h2v1h-2zM167 904h4v1h-4zM174 904h1v1h-1zM185 904h1v1h-1zM193 904h2v1h-2zM210 904h2v1h-2zM232 904h1v1h-1zM316 904h2v1h-2zM380 904h1v1h-1zM383 904h4v1h-4zM408 904h1v1h-1zM481 904h1v1h-1zM525 904h1v1h-1zM604 904h2v1h-2zM761 904h1v1h-1zM819 904h1v1h-1zM834 904h1v1h-1zM1175 904h1v1h-1zM1283 904h2v1h-2zM1375 904h1v1h-1zM1477 904h2v1h-2zM1570 904h2v1h-2zM1677 904h2v1h-2zM1697 904h1v1h-1zM1764 904h1v1h-1zM1769 904h8v1h-8zM1804 904h3v1h-3zM38 905h1v1h-1zM97 905h1v1h-1zM165 905h2v1h-2zM175 905h2v1h-2zM185 905h1v1h-1zM195 905h1v1h-1zM208 905h2v1h-2zM233 905h1v1h-1zM313 905h3v1h-3zM381 905h2v1h-2zM409 905h1v1h-1zM481 905h1v1h-1zM526 905h1v1h-1zM602 905h2v1h-2zM606 905h1v1h-1zM761 905h1v1h-1zM820 905h1v1h-1zM833 905h1v1h-1zM1175 905h1v1h-1zM1282 905h1v1h-1zM1375 905h1v1h-1zM1475 905h2v1h-2zM1479 905h2v1h-2zM1568 905h2v1h-2zM1679 905h2v1h-2zM1695 905h2v1h-2zM1765 905h4v1h-4zM1777 905h8v1h-8zM1801 905h3v1h-3zM38 906h1v1h-1zM97 906h1v1h-1zM177 906h1v1h-1zM184 906h1v1h-1zM196 906h1v1h-1zM206 906h2v1h-2zM233 906h1v1h-1zM311 906h2v1h-2zM410 906h1v1h-1zM480 906h1v1h-1zM527 906h1v1h-1zM600 906h2v1h-2zM607 906h1v1h-1zM760 906h1v1h-1zM820 906h1v1h-1zM832 906h1v1h-1zM1176 906h1v1h-1zM1281 906h1v1h-1zM1375 906h1v1h-1zM1473 906h2v1h-2zM1481 906h3v1h-3zM1566 906h2v1h-2zM1681 906h3v1h-3zM1694 906h1v1h-1zM1785 906h8v1h-8zM1799 906h2v1h-2zM39 907h1v1h-1zM96 907h1v1h-1zM178 907h1v1h-1zM183 907h1v1h-1zM197 907h9v1h-9zM234 907h1v1h-1zM307 907h4v1h-4zM411 907h1v1h-1zM479 907h1v1h-1zM528 907h1v1h-1zM598 907h2v1h-2zM608 907h1v1h-1zM759 907h1v1h-1zM821 907h2v1h-2zM831 907h1v1h-1zM1177 907h1v1h-1zM1279 907h2v1h-2zM1375 907h1v1h-1zM1435 907h4v1h-4zM1472 907h1v1h-1zM1484 907h2v1h-2zM1565 907h1v1h-1zM1684 907h10v1h-10zM1793 907h6v1h-6zM40 908h1v1h-1zM75 908h4v1h-4zM95 908h1v1h-1zM179 908h2v1h-2zM182 908h1v1h-1zM234 908h1v1h-1zM303 908h4v1h-4zM412 908h1v1h-1zM417 908h13v1h-13zM478 908h1v1h-1zM529 908h1v1h-1zM595 908h3v1h-3zM609 908h1v1h-1zM668 908h2v1h-2zM758 908h1v1h-1zM823 908h2v1h-2zM831 908h1v1h-1zM1178 908h1v1h-1zM1278 908h1v1h-1zM1375 908h1v1h-1zM1431 908h4v1h-4zM1439 908h4v1h-4zM1470 908h2v1h-2zM1486 908h2v1h-2zM1513 908h5v1h-5zM1564 908h1v1h-1zM40 909h1v1h-1zM71 909h4v1h-4zM79 909h4v1h-4zM94 909h1v1h-1zM181 909h1v1h-1zM235 909h1v1h-1zM297 909h6v1h-6zM413 909h4v1h-4zM429 909h1v1h-1zM475 909h3v1h-3zM530 909h1v1h-1zM591 909h4v1h-4zM609 909h1v1h-1zM666 909h2v1h-2zM670 909h2v1h-2zM747 909h6v1h-6zM758 909h1v1h-1zM825 909h3v1h-3zM830 909h1v1h-1zM1179 909h1v1h-1zM1277 909h1v1h-1zM1376 909h1v1h-1zM1428 909h3v1h-3zM1443 909h27v1h-27zM1488 909h2v1h-2zM1508 909h5v1h-5zM1518 909h1v1h-1zM1563 909h1v1h-1zM41 910h1v1h-1zM65 910h6v1h-6zM83 910h11v1h-11zM235 910h1v1h-1zM291 910h6v1h-6zM430 910h1v1h-1zM471 910h4v1h-4zM531 910h1v1h-1zM539 910h6v1h-6zM589 910h2v1h-2zM610 910h1v1h-1zM664 910h2v1h-2zM672 910h1v1h-1zM743 910h4v1h-4zM753 910h5v1h-5zM828 910h2v1h-2zM1179 910h1v1h-1zM1275 910h2v1h-2zM1376 910h1v1h-1zM1425 910h3v1h-3zM1490 910h2v1h-2zM1506 910h2v1h-2zM1518 910h1v1h-1zM1562 910h1v1h-1zM42 911h1v1h-1zM61 911h4v1h-4zM236 911h1v1h-1zM287 911h4v1h-4zM430 911h1v1h-1zM469 911h2v1h-2zM532 911h1v1h-1zM535 911h4v1h-4zM545 911h5v1h-5zM588 911h1v1h-1zM611 911h1v1h-1zM662 911h2v1h-2zM673 911h2v1h-2zM737 911h6v1h-6zM1180 911h1v1h-1zM1274 911h1v1h-1zM1376 911h1v1h-1zM1423 911h2v1h-2zM1492 911h3v1h-3zM1504 911h2v1h-2zM1519 911h1v1h-1zM1561 911h1v1h-1zM42 912h1v1h-1zM60 912h1v1h-1zM236 912h1v1h-1zM285 912h2v1h-2zM430 912h1v1h-1zM467 912h2v1h-2zM533 912h2v1h-2zM550 912h1v1h-1zM587 912h1v1h-1zM612 912h1v1h-1zM661 912h1v1h-1zM675 912h2v1h-2zM733 912h4v1h-4zM1181 912h1v1h-1zM1273 912h1v1h-1zM1376 912h1v1h-1zM1419 912h4v1h-4zM1495 912h4v1h-4zM1502 912h2v1h-2zM1519 912h1v1h-1zM1561 912h1v1h-1zM43 913h1v1h-1zM59 913h1v1h-1zM237 913h1v1h-1zM284 913h1v1h-1zM431 913h1v1h-1zM466 913h1v1h-1zM551 913h2v1h-2zM573 913h1v1h-1zM585 913h2v1h-2zM613 913h1v1h-1zM660 913h1v1h-1zM677 913h2v1h-2zM731 913h2v1h-2zM1181 913h1v1h-1zM1271 913h2v1h-2zM1376 913h1v1h-1zM1415 913h4v1h-4zM1499 913h3v1h-3zM1520 913h1v1h-1zM1560 913h1v1h-1zM44 914h1v1h-1zM58 914h1v1h-1zM237 914h1v1h-1zM283 914h1v1h-1zM431 914h1v1h-1zM465 914h1v1h-1zM553 914h1v1h-1zM571 914h2v1h-2zM574 914h2v1h-2zM584 914h1v1h-1zM614 914h1v1h-1zM659 914h1v1h-1zM679 914h4v1h-4zM689 914h6v1h-6zM730 914h1v1h-1zM1182 914h1v1h-1zM1270 914h1v1h-1zM1377 914h1v1h-1zM1413 914h2v1h-2zM1520 914h1v1h-1zM1559 914h1v1h-1zM44 915h1v1h-1zM57 915h1v1h-1zM238 915h1v1h-1zM282 915h1v1h-1zM431 915h1v1h-1zM463 915h2v1h-2zM554 915h1v1h-1zM570 915h1v1h-1zM576 915h2v1h-2zM583 915h1v1h-1zM615 915h2v1h-2zM658 915h1v1h-1zM683 915h6v1h-6zM695 915h4v1h-4zM729 915h1v1h-1zM1182 915h1v1h-1zM1267 915h3v1h-3zM1377 915h1v1h-1zM1411 915h2v1h-2zM1521 915h1v1h-1zM1558 915h1v1h-1zM45 916h1v1h-1zM57 916h1v1h-1zM238 916h1v1h-1zM281 916h1v1h-1zM432 916h1v1h-1zM462 916h1v1h-1zM555 916h2v1h-2zM569 916h1v1h-1zM578 916h2v1h-2zM582 916h1v1h-1zM617 916h1v1h-1zM657 916h1v1h-1zM699 916h4v1h-4zM727 916h2v1h-2zM1183 916h1v1h-1zM1263 916h4v1h-4zM1377 916h1v1h-1zM1409 916h2v1h-2zM1522 916h1v1h-1zM1557 916h1v1h-1zM46 917h2v1h-2zM56 917h1v1h-1zM239 917h1v1h-1zM280 917h1v1h-1zM432 917h1v1h-1zM461 917h1v1h-1zM557 917h2v1h-2zM567 917h2v1h-2zM580 917h2v1h-2zM618 917h1v1h-1zM657 917h1v1h-1zM703 917h4v1h-4zM726 917h1v1h-1zM1183 917h1v1h-1zM1245 917h18v1h-18zM1377 917h1v1h-1zM1408 917h1v1h-1zM1522 917h1v1h-1zM1533 917h1v1h-1zM1556 917h1v1h-1zM48 918h2v1h-2zM55 918h1v1h-1zM239 918h1v1h-1zM279 918h1v1h-1zM432 918h1v1h-1zM460 918h1v1h-1zM559 918h4v1h-4zM566 918h1v1h-1zM619 918h2v1h-2zM656 918h1v1h-1zM707 918h4v1h-4zM723 918h3v1h-3zM1184 918h1v1h-1zM1243 918h2v1h-2zM1377 918h1v1h-1zM1406 918h2v1h-2zM1523 918h1v1h-1zM1531 918h2v1h-2zM1534 918h1v1h-1zM1555 918h1v1h-1zM50 919h2v1h-2zM54 919h1v1h-1zM239 919h1v1h-1zM278 919h1v1h-1zM433 919h1v1h-1zM459 919h1v1h-1zM563 919h3v1h-3zM621 919h1v1h-1zM655 919h1v1h-1zM711 919h4v1h-4zM719 919h4v1h-4zM1184 919h1v1h-1zM1242 919h1v1h-1zM1378 919h1v1h-1zM1405 919h1v1h-1zM1523 919h1v1h-1zM1529 919h2v1h-2zM1535 919h1v1h-1zM1555 919h1v1h-1zM52 920h2v1h-2zM240 920h1v1h-1zM276 920h2v1h-2zM433 920h1v1h-1zM457 920h2v1h-2zM622 920h1v1h-1zM654 920h1v1h-1zM715 920h4v1h-4zM1185 920h1v1h-1zM1228 920h3v1h-3zM1241 920h1v1h-1zM1378 920h1v1h-1zM1404 920h1v1h-1zM1524 920h1v1h-1zM1528 920h1v1h-1zM1535 920h1v1h-1zM1554 920h1v1h-1zM240 921h1v1h-1zM273 921h3v1h-3zM434 921h1v1h-1zM456 921h1v1h-1zM623 921h1v1h-1zM653 921h1v1h-1zM1185 921h1v1h-1zM1225 921h3v1h-3zM1231 921h2v1h-2zM1239 921h2v1h-2zM1378 921h1v1h-1zM1403 921h1v1h-1zM1524 921h1v1h-1zM1526 921h2v1h-2zM1536 921h1v1h-1zM1553 921h1v1h-1zM241 922h1v1h-1zM271 922h2v1h-2zM434 922h1v1h-1zM455 922h1v1h-1zM624 922h1v1h-1zM652 922h1v1h-1zM1185 922h1v1h-1zM1197 922h1v1h-1zM1223 922h2v1h-2zM1233 922h3v1h-3zM1238 922h1v1h-1zM1378 922h1v1h-1zM1402 922h1v1h-1zM1525 922h1v1h-1zM1537 922h1v1h-1zM1552 922h1v1h-1zM241 923h1v1h-1zM269 923h2v1h-2zM434 923h1v1h-1zM454 923h1v1h-1zM625 923h1v1h-1zM651 923h1v1h-1zM1186 923h1v1h-1zM1196 923h1v1h-1zM1198 923h1v1h-1zM1219 923h4v1h-4zM1236 923h2v1h-2zM1378 923h1v1h-1zM1401 923h1v1h-1zM1538 923h1v1h-1zM1551 923h1v1h-1zM241 924h1v1h-1zM268 924h1v1h-1zM435 924h1v1h-1zM453 924h1v1h-1zM625 924h1v1h-1zM650 924h1v1h-1zM1186 924h1v1h-1zM1195 924h1v1h-1zM1199 924h2v1h-2zM1215 924h4v1h-4zM1379 924h1v1h-1zM1401 924h1v1h-1zM1539 924h1v1h-1zM1551 924h1v1h-1zM242 925h1v1h-1zM268 925h1v1h-1zM435 925h1v1h-1zM452 925h1v1h-1zM626 925h1v1h-1zM649 925h1v1h-1zM1187 925h1v1h-1zM1194 925h1v1h-1zM1201 925h1v1h-1zM1212 925h3v1h-3zM1379 925h1v1h-1zM1400 925h1v1h-1zM1539 925h1v1h-1zM1550 925h1v1h-1zM242 926h1v1h-1zM267 926h1v1h-1zM435 926h1v1h-1zM452 926h1v1h-1zM627 926h1v1h-1zM649 926h1v1h-1zM1187 926h1v1h-1zM1193 926h1v1h-1zM1202 926h1v1h-1zM1209 926h3v1h-3zM1379 926h1v1h-1zM1399 926h1v1h-1zM1540 926h1v1h-1zM1545 926h5v1h-5zM243 927h1v1h-1zM266 927h1v1h-1zM436 927h1v1h-1zM451 927h1v1h-1zM628 927h1v1h-1zM648 927h1v1h-1zM1188 927h1v1h-1zM1192 927h1v1h-1zM1203 927h2v1h-2zM1207 927h2v1h-2zM1379 927h1v1h-1zM1398 927h1v1h-1zM1541 927h4v1h-4zM243 928h1v1h-1zM265 928h1v1h-1zM436 928h1v1h-1zM451 928h1v1h-1zM629 928h1v1h-1zM647 928h1v1h-1zM1188 928h1v1h-1zM1191 928h1v1h-1zM1205 928h2v1h-2zM1379 928h1v1h-1zM1397 928h1v1h-1zM243 929h1v1h-1zM265 929h1v1h-1zM436 929h1v1h-1zM450 929h1v1h-1zM630 929h2v1h-2zM646 929h1v1h-1zM1189 929h2v1h-2zM1379 929h1v1h-1zM1396 929h1v1h-1zM244 930h1v1h-1zM252 930h2v1h-2zM264 930h1v1h-1zM437 930h1v1h-1zM449 930h1v1h-1zM632 930h1v1h-1zM644 930h2v1h-2zM1189 930h1v1h-1zM1380 930h1v1h-1zM1396 930h1v1h-1zM244 931h1v1h-1zM249 931h3v1h-3zM254 931h2v1h-2zM263 931h1v1h-1zM437 931h1v1h-1zM449 931h1v1h-1zM633 931h2v1h-2zM641 931h3v1h-3zM1380 931h1v1h-1zM1395 931h1v1h-1zM245 932h1v1h-1zM247 932h2v1h-2zM256 932h2v1h-2zM262 932h1v1h-1zM438 932h1v1h-1zM448 932h1v1h-1zM635 932h2v1h-2zM639 932h2v1h-2zM1380 932h1v1h-1zM1394 932h1v1h-1zM245 933h2v1h-2zM258 933h2v1h-2zM262 933h1v1h-1zM439 933h2v1h-2zM447 933h1v1h-1zM637 933h2v1h-2zM1380 933h1v1h-1zM1393 933h1v1h-1zM260 934h2v1h-2zM441 934h1v1h-1zM447 934h1v1h-1zM1380 934h1v1h-1zM1393 934h1v1h-1zM442 935h1v1h-1zM446 935h1v1h-1zM1381 935h1v1h-1zM1392 935h1v1h-1zM443 936h2v1h-2zM446 936h1v1h-1zM1381 936h1v1h-1zM1391 936h1v1h-1zM445 937h1v1h-1zM1381 937h2v1h-2zM1390 937h1v1h-1zM1383 938h4v1h-4zM1390 938h1v1h-1zM1387 939h3v1h-3z" fill="#20b2aa"/>
<text x="9" y="849" font-size="9.5" fill="#000" stroke="#000" stroke-width="0.15" text-anchor="start" textLength="69" lengthAdjust="spacingAndGlyphs" xml:space="preserve">CCI(14) 73.9148</text>
<text x="1878.5" y="846.5" font-size="9.5" fill="#000" stroke="#000" stroke-width="0.15" text-anchor="start" textLength="37.55" lengthAdjust="spacingAndGlyphs" xml:space="preserve">421.9644</text>
<text x="1878.5" y="888" font-size="9.5" fill="#000" stroke="#000" stroke-width="0.15" text-anchor="start" textLength="15.03" lengthAdjust="spacingAndGlyphs" xml:space="preserve">100</text>
<text x="1878.5" y="902.5" font-size="9.5" fill="#000" stroke="#000" stroke-width="0.15" text-anchor="start" textLength="17.53" lengthAdjust="spacingAndGlyphs" xml:space="preserve">0.00</text>
<text x="1878.5" y="917" font-size="9.5" fill="#000" stroke="#000" stroke-width="0.15" text-anchor="start" textLength="18.02" lengthAdjust="spacingAndGlyphs" xml:space="preserve">-100</text>
<text x="1878.5" y="940.5" font-size="9.5" fill="#000" stroke="#000" stroke-width="0.15" text-anchor="start" textLength="40.55" lengthAdjust="spacingAndGlyphs" xml:space="preserve">-303.8871</text>
<rect x="1876" y="838" width="2" height="1" fill="#000"/>
<rect x="1876" y="899" width="2" height="1" fill="#000"/>
<rect x="1876" y="943" width="2" height="1" fill="#000"/>
<rect x="5" y="945" width="1" height="3" fill="#000"/>
<text x="4" y="957" font-size="9.5" fill="#000" stroke="#000" stroke-width="0.15" text-anchor="start" textLength="45.57" lengthAdjust="spacingAndGlyphs" xml:space="preserve">5 Oct 2018</text>
<rect x="69" y="945" width="1" height="3" fill="#000"/>
<text x="68" y="957" font-size="9.5" fill="#000" stroke="#000" stroke-width="0.15" text-anchor="start" textLength="48.16" lengthAdjust="spacingAndGlyphs" xml:space="preserve">9 Oct 00:00</text>
<rect x="133" y="945" width="1" height="3" fill="#000"/>
<text x="132" y="957" font-size="9.5" fill="#000" stroke="#000" stroke-width="0.15" text-anchor="start" textLength="53.35" lengthAdjust="spacingAndGlyphs" xml:space="preserve">10 Oct 08:00</text>
<rect x="197" y="945" width="1" height="3" fill="#000"/>
<text x="196" y="957" font-size="9.5" fill="#000" stroke="#000" stroke-width="0.15" text-anchor="start" textLength="52.66" lengthAdjust="spacingAndGlyphs" xml:space="preserve">11 Oct 16:00</text>
<rect x="261" y="945" width="1" height="3" fill="#000"/>
<text x="260" y="957" font-size="9.5" fill="#000" stroke="#000" stroke-width="0.15" text-anchor="start" textLength="53.35" lengthAdjust="spacingAndGlyphs" xml:space="preserve">15 Oct 00:00</text>
<rect x="325" y="945" width="1" height="3" fill="#000"/>
<text x="324" y="957" font-size="9.5" fill="#000" stroke="#000" stroke-width="0.15" text-anchor="start" textLength="53.35" lengthAdjust="spacingAndGlyphs" xml:space="preserve">16 Oct 08:00</text>
<rect x="389" y="945" width="1" height="3" fill="#000"/>
<text x="388" y="957" font-size="9.5" fill="#000" stroke="#000" stroke-width="0.15" text-anchor="start" textLength="53.35" lengthAdjust="spacingAndGlyphs" xml:space="preserve">17 Oct 16:00</text>
<rect x="453" y="945" width="1" height="3" fill="#000"/>
<text x="452" y="957" font-size="9.5" fill="#000" stroke="#000" stroke-width="0.15" text-anchor="start" textLength="53.35" lengthAdjust="spacingAndGlyphs" xml:space="preserve">19 Oct 00:00</text>
<rect x="517" y="945" width="1" height="3" fill="#000"/>
<text x="516" y="957" font-size="9.5" fill="#000" stroke="#000" stroke-width="0.15" text-anchor="start" textLength="53.35" lengthAdjust="spacingAndGlyphs" xml:space="preserve">22 Oct 08:00</text>
<rect x="581" y="945" width="1" height="3" fill="#000"/>
<text x="580" y="957" font-size="9.5" fill="#000" stroke="#000" stroke-width="0.15" text-anchor="start" textLength="53.35" lengthAdjust="spacingAndGlyphs" xml:space="preserve">23 Oct 16:00</text>
<rect x="645" y="945" width="1" height="3" fill="#000"/>
<text x="644" y="957" font-size="9.5" fill="#000" stroke="#000" stroke-width="0.15" text-anchor="start" textLength="53.35" lengthAdjust="spacingAndGlyphs" xml:space="preserve">25 Oct 00:00</text>
<rect x="709" y="945" width="1" height="3" fill="#000"/>
<text x="708" y="957" font-size="9.5" fill="#000" stroke="#000" stroke-width="0.15" text-anchor="start" textLength="53.35" lengthAdjust="spacingAndGlyphs" xml:space="preserve">26 Oct 08:00</text>
<rect x="773" y="945" width="1" height="3" fill="#000"/>
<text x="772" y="957" font-size="9.5" fill="#000" stroke="#000" stroke-width="0.15" text-anchor="start" textLength="53.35" lengthAdjust="spacingAndGlyphs" xml:space="preserve">29 Oct 16:00</text>
<rect x="837" y="945" width="1" height="3" fill="#000"/>
<text x="836" y="957" font-size="9.5" fill="#000" stroke="#000" stroke-width="0.15" text-anchor="start" textLength="53.35" lengthAdjust="spacingAndGlyphs" xml:space="preserve">31 Oct 00:00</text>
<rect x="901" y="945" width="1" height="3" fill="#000"/>
<text x="900" y="957" font-size="9.5" fill="#000" stroke="#000" stroke-width="0.15" text-anchor="start" textLength="52.67" lengthAdjust="spacingAndGlyphs" xml:space="preserve">1 Nov 08:00</text>
<rect x="965" y="945" width="1" height="3" fill="#000"/>
<text x="964" y="957" font-size="9.5" fill="#000" stroke="#000" stroke-width="0.15" text-anchor="start" textLength="52.67" lengthAdjust="spacingAndGlyphs" xml:space="preserve">2 Nov 16:00</text>
<rect x="1029" y="945" width="1" height="3" fill="#000"/>
<text x="1028" y="957" font-size="9.5" fill="#000" stroke="#000" stroke-width="0.15" text-anchor="start" textLength="52.67" lengthAdjust="spacingAndGlyphs" xml:space="preserve">6 Nov 00:00</text>
<rect x="1093" y="945" width="1" height="3" fill="#000"/>
<text x="1092" y="957" font-size="9.5" fill="#000" stroke="#000" stroke-width="0.15" text-anchor="start" textLength="52.67" lengthAdjust="spacingAndGlyphs" xml:space="preserve">7 Nov 08:00</text>
<rect x="1157" y="945" width="1" height="3" fill="#000"/>
<text x="1156" y="957" font-size="9.5" fill="#000" stroke="#000" stroke-width="0.15" text-anchor="start" textLength="52.67" lengthAdjust="spacingAndGlyphs" xml:space="preserve">8 Nov 16:00</text>
<rect x="1221" y="945" width="1" height="3" fill="#000"/>
<text x="1220" y="957" font-size="9.5" fill="#000" stroke="#000" stroke-width="0.15" text-anchor="start" textLength="58.1" lengthAdjust="spacingAndGlyphs" xml:space="preserve">12 Nov 00:00</text>
<rect x="1285" y="945" width="1" height="3" fill="#000"/>
<text x="1284" y="957" font-size="9.5" fill="#000" stroke="#000" stroke-width="0.15" text-anchor="start" textLength="58.1" lengthAdjust="spacingAndGlyphs" xml:space="preserve">13 Nov 08:00</text>
<rect x="1349" y="945" width="1" height="3" fill="#000"/>
<text x="1348" y="957" font-size="9.5" fill="#000" stroke="#000" stroke-width="0.15" text-anchor="start" textLength="58.1" lengthAdjust="spacingAndGlyphs" xml:space="preserve">14 Nov 16:00</text>
<rect x="1413" y="945" width="1" height="3" fill="#000"/>
<text x="1412" y="957" font-size="9.5" fill="#000" stroke="#000" stroke-width="0.15" text-anchor="start" textLength="58.1" lengthAdjust="spacingAndGlyphs" xml:space="preserve">16 Nov 00:00</text>
<rect x="1477" y="945" width="1" height="3" fill="#000"/>
<text x="1476" y="957" font-size="9.5" fill="#000" stroke="#000" stroke-width="0.15" text-anchor="start" textLength="58.1" lengthAdjust="spacingAndGlyphs" xml:space="preserve">19 Nov 08:00</text>
<rect x="1541" y="945" width="1" height="3" fill="#000"/>
<text x="1540" y="957" font-size="9.5" fill="#000" stroke="#000" stroke-width="0.15" text-anchor="start" textLength="58.1" lengthAdjust="spacingAndGlyphs" xml:space="preserve">20 Nov 16:00</text>
<rect x="1605" y="945" width="1" height="3" fill="#000"/>
<text x="1604" y="957" font-size="9.5" fill="#000" stroke="#000" stroke-width="0.15" text-anchor="start" textLength="58.1" lengthAdjust="spacingAndGlyphs" xml:space="preserve">22 Nov 00:00</text>
<rect x="1669" y="945" width="1" height="3" fill="#000"/>
<text x="1668" y="957" font-size="9.5" fill="#000" stroke="#000" stroke-width="0.15" text-anchor="start" textLength="58.1" lengthAdjust="spacingAndGlyphs" xml:space="preserve">23 Nov 08:00</text>
<rect x="1733" y="945" width="1" height="3" fill="#000"/>
<text x="1732" y="957" font-size="9.5" fill="#000" stroke="#000" stroke-width="0.15" text-anchor="start" textLength="58.1" lengthAdjust="spacingAndGlyphs" xml:space="preserve">26 Nov 16:00</text>
<rect x="1797" y="945" width="1" height="3" fill="#000"/>
<text x="1796" y="957" font-size="9.5" fill="#000" stroke="#000" stroke-width="0.15" text-anchor="start" textLength="58.1" lengthAdjust="spacingAndGlyphs" xml:space="preserve">28 Nov 00:00</text>
</svg></body></html>
